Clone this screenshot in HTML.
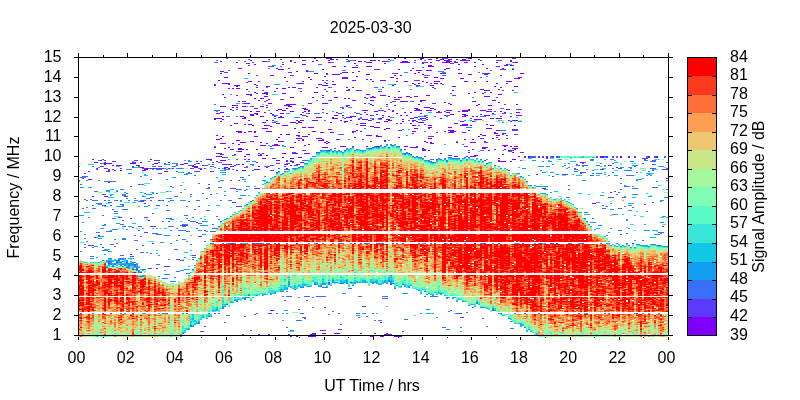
<!DOCTYPE html><html><head><meta charset="utf-8"><style>html,body{margin:0;padding:0;background:#fff}svg{display:block}text{font-family:"Liberation Sans",Arial,sans-serif;font-size:16px;fill:#000}</style></head><body><svg width="800" height="400" viewBox="0 0 800 400"><rect width="800" height="400" fill="#fff"/><g shape-rendering="crispEdges" fill="none" stroke-width="2"><path stroke="#8000ff" d="M89 171v1m0 7v1m2 -1v1m2 -21v1m0 36v1m2 -35v1m0 74v1m2 -76v1m4 -3v1m4 2v2m0 31v1m2 -34v1m0 32v1m2 -34v1m0 6v1m2 -8v1m2 1v1m0 3v1m2 0v1m2 -6v1m2 -1v1m2 -1v1m0 4v1m10 -8v1m2 -1v1m2 -1v1m2 1v1m2 -1v1m2 -4v1m0 4v1m2 -1v1m0 2v1m2 -2v2m2 -3v2m2 50v1m2 -62v1m2 83v1m2 -81v1m2 -1v1m0 104v1m8 -98v1m2 -1v1m2 -10v1m12 1v1m2 -1v1m2 -2v1m2 -1v1m6 2v1m2 -1v2m2 -7v1m0 4v2m2 -5v1m2 5v1m2 -5v1m4 -7v1m2 -1v1m2 -1v1m4 -75v1m0 32v2m0 27v1m2 -35v1m0 4v1m0 16v1m0 3v1m0 16v1m0 4v1m2 -82v1m0 32v1m0 4v1m0 20v1m0 16v1m2 -96v1m0 9v1m0 1v1m0 32v1m0 5v1m0 5v1m0 2v1m0 16v1m0 4v1m0 10v1m0 1v1m0 3v1m2 -90v1m0 11v1m0 10v1m0 11v1m0 5v1m0 3v1m0 2v1m0 16v1m0 6v1m0 16v1m2 -104v1m0 19v1m0 5v1m0 13v1m0 8v1m0 36v1m0 4v1m0 11v1m0 6v2m2 -112v1m0 19v1m0 5v1m0 83v1m2 -85v2m0 3v1m0 58v1m0 16v1m0 3v1m2 -60v1m0 15v1m0 23v1m0 14v1m0 1v1m2 -79v1m0 16v1m0 1v1m0 35v1m0 5v1m0 16v1m2 -82v1m0 19v1m0 17v1m0 30v1m0 10v1m2 -104v1m0 22v2m0 1v1m0 6v1m0 9v1m0 1v1m0 15v1m0 7v1m0 8v1m0 29v1m2 -103v1m0 16v1m0 2v1m0 12v1m0 29v2m0 7v1m0 3v1m0 3v2m0 1v1m2 -95v1m0 10v1m0 47v1m0 14v2m0 9v1m0 5v2m0 1v1m2 -46v1m0 3v1m0 5v1m0 1v1m0 23v1m0 6v1m0 14v1m0 5v1m2 -68v1m0 2v1m0 3v1m0 6v2m0 5v1m0 7v1m0 9v1m0 13v1m0 13v1m2 -82v1m0 4v1m0 8v1m0 6v1m0 38v1m0 4v1m2 -92v1m0 9v1m0 7v1m0 12v1m0 8v1m0 16v1m0 3v1m0 6v1m0 22v1m0 4v1m2 -100v1m0 20v1m0 12v2m0 15v1m0 2v2m0 8v1m0 6v1m0 9v1m2 -85v1m0 56v2m0 9v1m0 15v1m2 -85v1m0 6v1m0 19v1m0 7v1m0 5v1m0 9v1m0 4v1m0 17v2m0 3v1m0 32v1m2 -85v1m0 1v1m0 5v1m0 14v1m0 2v1m0 1v2m0 21v1m0 12v1m0 19v1m2 -89v1m0 18v1m0 10v1m0 41v1m0 1v1m0 10v1m0 2v1m2 -113v1m0 40v1m0 7v1m0 9v1m0 25v1m0 2v1m0 8v2m2 -99v1m0 3v1m0 31v1m0 4v1m0 7v1m0 9v1m0 5v1m0 5v1m0 16v1m0 7v1m2 -97v1m0 3v1m0 31v1m0 2v1m0 15v1m0 9v1m0 2v1m0 2v1m0 16v1m2 -60v1m0 6v2m0 1v1m0 8v1m0 1v1m0 12v1m0 4v1m0 2v1m0 2v1m0 11v1m0 11v1m0 11v1m2 -82v1m0 12v1m0 3v1m0 21v1m0 5v1m0 202v1m2 -260v1m0 27v1m0 9v1m0 12v1m0 4v1m0 178v1m2 -236v1m0 38v1m0 5v1m0 24v1m0 164v1m2 -220v1m0 24v1m0 27v2m2 -78v1m0 19v1m0 21v1m0 12v1m0 15v1m0 4v2m0 14v1m2 -92v1m0 39v1m0 7v1m0 5v1m0 13v1m0 3v1m0 3v1m0 14v1m2 -104v1m0 1v1m0 9v1m0 39v1m0 3v1m0 2v2m0 16v1m0 6v1m2 -85v1m0 6v1m0 4v1m0 18v1m0 4v1m0 16v1m0 2v1m0 3v1m0 7v1m0 15v1m0 11v1m0 3v1m2 -81v1m0 10v1m0 4v1m0 11v1m0 4v1m0 14v1m0 27v1m0 10v1m2 -61v2m0 2v1m0 16v1m0 8v1m0 26v1m0 2v1m0 3v1m2 -101v1m0 18v1m0 16v3m0 27v1m0 199v2m2 -276v2m0 35v1m0 6v1m0 1v1m0 4v1m0 10v1m0 24v1m0 10v1m0 2v1m0 3v1m0 170v1m2 -250v1m0 9v1m0 6v1m0 6v1m0 10v1m0 24v1m0 5v1m0 4v1m0 2v2m2 -101v1m0 24v1m0 16v1m0 17v1m0 5v1m0 13v1m0 10v1m0 181v1m2 -265v1m0 48v1m0 2v1m0 11v1m0 2v1m0 14v1m0 182v1m2 -254v1m0 37v2m0 9v1m0 2v1m0 2v1m0 18v1m2 -75v1m0 7v1m0 22v1m0 5v1m0 1v1m0 15v1m0 18v1m0 4v1m2 -103v1m0 3v1m0 16v1m0 1v1m0 24v1m0 6v1m0 4v1m0 6v1m0 8v1m0 2v2m0 21v1m2 -103v1m0 3v1m0 43v2m0 1v1m0 15v1m0 8v1m0 8v1m0 7v1m2 -84v2m0 37v1m0 6v1m0 19v1m0 16v1m2 -77v1m0 25v1m0 6v2m0 1v1m0 13v1m0 6v1m0 9v1m0 8v1m0 182v1m2 -258v1m0 23v1m0 23v1m0 206v1m0 1v1m2 -276v1m0 35v1m0 22v1m0 6v1m0 3v1m0 201v1m0 2v1m2 -264v1m0 18v1m0 27v1m0 10v1m0 201v1m2 -274v1m0 12v1m0 13v1m0 4v1m0 24v1m0 2v1m0 17v1m2 -55v1m0 32v1m0 20v1m0 1v1m2 -57v1m0 32v1m0 14v1m0 5v1m0 1v1m2 -72v1m0 15v1m0 9v1m0 7v1m0 5v1m0 22v1m0 6v2m0 6v1m0 185v1m2 -258v1m0 8v1m0 17v1m0 38v1m0 4v1m0 159v1m0 25v1m2 -276v1m0 14v1m0 9v1m0 1v1m0 17v1m0 37v1m0 1v1m0 3v1m0 187v1m2 -278v1m0 1v1m0 1v1m0 66v1m0 12v1m0 192v1m2 -278v2m0 40v1m0 21v1m0 6v1m0 2v1m0 202v1m2 -277v1m0 6v1m0 7v1m0 6v1m0 2v1m0 32v2m0 13v1m2 -76v1m0 8v1m0 7v1m0 9v1m0 6v1m0 5v1m0 17v1m0 2v1m0 214v1m2 -277v1m0 1v1m0 14v1m0 22v1m0 14v1m0 2v1m0 2v1m0 20v1m0 193v1m2 -277v1m0 16v1m0 64v1m0 193v1m2 -214v1m0 25v1m2 -75v1m0 5v1m0 29v1m0 6v1m0 30v1m2 -90v1m0 8v1m0 5v1m0 5v1m0 19v1m0 22v1m0 24v1m2 -90v1m0 14v1m0 5v1m0 8v1m0 2v1m0 14v1m0 11v1m0 3v1m2 -65v1m0 3v1m0 28v1m0 7v1m0 6v1m0 11v1m2 -2v2m0 2v1m2 -54v1m0 4v1m0 7v1m0 6v1m0 12v1m0 15v1m0 14v2m2 -73v1m0 2v1m0 3v1m0 12v1m0 35v1m0 14v1m0 5v1m2 -71v1m0 8v1m0 47v1m0 5v1m2 -70v1m0 9v1m0 47v1m2 -59v1m0 52v1m0 8v1m0 1v1m0 5v1m0 201v1m2 -224v1m0 8v1m0 3v1m0 1v1m0 13v1m2 -43v1m0 5v1m0 6v1m0 8v1m0 3v1m0 1v1m0 209v1m2 -274v1m0 3v1m0 7v1m0 4v1m0 14v1m0 15v1m0 3v1m0 4v1m0 15v1m0 10v1m2 -85v1m0 3v1m0 7v1m0 19v1m0 25v1m0 14v1m2 -76v1m0 1v1m0 3v1m0 12v1m0 17v1m0 2v1m0 3v1m0 10v1m0 4v1m0 5v1m0 8v1m0 5v1m0 193v2m2 -277v1m0 20v1m0 14v2m0 2v1m0 4v1m0 13v1m0 6v1m0 209v1m2 -277v1m0 36v1m0 13v1m0 15v1m0 205v1m2 -223v1m0 2v1m0 7v1m0 4v1m0 7v2m0 9v1m2 -87v1m0 57v1m0 3v1m0 4v1m0 8v1m0 9v1m2 -67v1m0 14v1m0 22v1m0 17v1m0 185v1m0 13v1m2 -276v1m0 18v1m0 6v1m0 7v1m0 19v1m0 220v1m2 -276v1m0 1v1m0 16v1m0 14v1m0 15v1m0 9v1m0 7v1m0 10v1m0 193v1m2 -231v1m0 14v1m0 1v1m0 6v1m0 205v1m2 -276v1m0 36v1m0 19v1m0 2v2m0 7v1m0 205v1m2 -258v1m0 42v1m2 -44v1m0 7v1m0 25v1m0 223v1m2 -278v1m0 16v1m0 23v1m0 5v1m0 230v1m2 -259v1m0 2v1m0 17v1m0 13v1m0 222v1m2 -268v1m0 21v1m0 5v1m0 1v1m0 37v1m0 198v1m2 -275v1m0 12v1m0 21v1m0 3v1m0 13v1m0 7v1m0 212v1m2 -276v2m0 38v1m0 17v1m0 1v1m0 209v1m2 -274v1m0 2v2m0 18v1m0 19v1m0 10v1m0 33v1m0 2v1m2 -89v2m0 18v1m0 14v1m0 4v1m0 13v1m0 30v1m2 -85v1m0 33v1m2 -27v1m0 41v1m0 10v1m0 23v1m2 -80v1m0 14v1m0 34v1m0 1v1m0 4v1m0 5v1m0 1v1m0 13v1m2 -75v1m0 10v1m0 11v1m0 11v1m0 8v1m0 2v1m0 4v1m0 2v1m0 2v1m0 15v1m2 -78v1m0 25v1m0 11v2m0 7v1m0 10v1m0 18v1m2 -78v1m0 1v1m0 10v1m0 20v1m0 4v1m0 12v1m2 -65v2m0 10v1m0 29v2m0 8v1m0 2v1m0 4v1m0 3v1m2 -65v1m0 4v1m0 10v1m0 6v1m0 18v1m0 17v1m0 3v1m0 25v1m0 1v1m2 -74v1m0 22v1m0 6v1m0 8v1m0 1v1m0 22v1m0 8v1m2 -81v1m0 6v1m0 4v1m0 12v1m0 11v1m0 2v1m0 6v1m0 1v1m0 22v1m2 -84v1m0 5v2m0 3v1m0 24v1m0 11v1m0 2v1m0 14v1m0 1v1m0 10v1m0 11v1m2 -92v1m0 2v1m0 2v2m0 3v1m0 14v1m0 22v1m0 1v1m0 14v1m0 1v1m0 10v1m0 3v2m2 -78v1m0 18v1m0 1v1m0 20v1m0 34v1m2 -67v1m0 3v1m0 1v1m0 25v1m2 -52v1m0 1v1m0 16v1m0 3v1m0 1v1m0 28v1m0 19v1m2 -73v1m0 20v1m0 29v2m2 -54v1m0 13v1m0 4v1m0 4v1m0 34v1m0 34v1m2 -95v1m0 2v1m0 10v1m0 4v1m2 -19v1m0 1v1m0 6v1m0 3v1m0 57v1m2 -72v3m0 5v1m0 41v1m0 1v1m2 -54v4m0 5v1m0 34v1m0 6v1m0 1v1m0 14v1m0 2v1m0 1v1m2 -74v1m0 1v1m0 42v1m0 5v1m0 3v1m0 12v1m0 2v3m2 -47v1m0 3v1m0 23v1m0 15v3m2 -71v1m0 23v1m0 36v1m0 7v1m0 24v1m2 -98v1m0 2v1m0 60v1m0 18v1m0 13v1m2 -93v1m0 4v1m0 3v1m0 37v1m2 -52v1m0 12v1m0 4v1m0 42v1m0 3v1m2 -67v2m0 17v1m0 31v2m0 2v1m0 6v1m0 2v2m0 6v1m2 -74v2m0 1v1m0 18v1m0 28v2m0 2v2m0 8v2m0 6v1m0 6v1m2 -80v1m0 1v1m0 18v1m0 28v2m0 3v1m0 8v2m0 30v1m2 -99v1m0 1v1m0 13v1m0 18v1m0 15v2m0 19v1m0 21v1m2 -95v1m0 15v1m0 50v1m0 16v1m0 13v1m2 -56v1m0 14v1m0 4v1m0 17v1m0 2v1m0 6v1m0 6v1m2 -91v1m0 25v1m0 8v1m0 17v1m0 22v1m0 12v2m2 -52v1m0 10v1m0 2v1m0 35v1m2 -97v1m0 44v1m0 14v1m0 16v1m2 -48v1m0 20v1m0 3v1m0 4v1m0 14v1m2 -71v1m0 24v1m0 3v1m0 16v1m0 24v1m0 11v2m2 -75v1m0 15v1m0 5v1m0 13v1m0 4v1m0 19v1m0 5v1m0 5v2m0 11v1m2 -93v1m0 5v1m0 6v1m0 8v1m0 5v1m0 14v1m0 3v1m0 8v1m0 3v1m0 18v1m2 -75v1m0 16v1m0 5v1m0 8v1m0 5v1m0 3v1m0 12v1m0 21v1m2 -59v1m0 12v1m0 5v1m0 6v1m0 6v1m0 2v1m2 -29v1m0 12v1m0 4v1m0 6v1m0 12v1m2 -53v1m0 13v1m0 31v2m0 15v1m2 -93v1m0 4v1m0 3v1m0 16v1m0 34v1m0 11v1m0 2v1m0 1v1m2 -70v1m0 22v1m0 4v1m0 7v1m0 15v1m0 11v1m0 4v1m0 22v1m0 1v2m2 -87v1m0 11v1m0 6v1m0 16v1m0 6v1m0 42v1m2 -94v1m0 64v1m0 11v1m0 8v1m0 6v1m2 -97v1m0 46v1m0 20v1m0 11v2m0 2v1m0 11v1m2 -98v2m0 15v1m0 27v1m0 35v1m2 -65v1m0 27v1m0 40v1m0 19v1m2 -111v2m0 3v1m0 15v1m0 34v1m0 4v1m0 24v1m0 3v1m0 10v1m2 -105v1m0 7v1m0 3v1m0 20v1m0 57v1m0 1v1m0 1v1m0 6v1m2 -98v1m0 15v1m0 7v1m0 33v1m0 4v1m0 20v1m0 1v2m0 9v1m2 -98v1m0 15v1m0 7v1m0 17v1m0 7v1m0 2v1m0 4v1m0 25v1m0 1v1m2 -72v2m0 33v1m0 2v1m0 40v1m2 -84v1m0 3v1m0 37v1m2 -43v1m6 82v2m8 16v1m6 13v1m2 -1v1m2 -33v2m34 4v1m2 -1v1m10 40v1m2 -1v1m6 -48v2m2 -2v2m8 34v1m6 -26v1m4 -12v2m8 -2v2m20 -2v2m8 -2v2m10 20v1"/><path stroke="#5b39fd" d="M79 201v1m10 43v1m2 -1v1m2 -80v1m0 78v1m4 -78v1m2 66v1m2 -70v1m2 -8v1m0 6v1m0 27v1m0 10v1m0 41v1m0 65v1m2 -154v1m0 1v1m0 5v1m0 25v1m0 5v1m0 4v1m2 -38v1m0 2v1m2 -1v1m0 10v1m0 80v1m2 49v1m2 -153v1m0 47v1m2 -49v1m2 100v1m2 -46v1m2 -50v1m0 48v1m4 -22v1m2 -1v1m0 70v1m4 -50v1m0 35v1m0 1v1m2 -95v1m0 4v1m0 59v1m0 28v1m0 12v1m2 -110v1m0 1v1m0 101v1m2 -105v1m0 108v1m2 -86v1m2 87v1m2 -105v1m0 31v1m2 -33v1m0 34v1m0 13v1m0 14v1m2 -16v1m0 14v1m2 35v1m2 -101v1m0 31v1m0 25v1m0 41v1m2 -105v1m0 3v1m0 57v1m2 -67v1m0 7v1m0 57v1m2 -67v1m0 7v1m2 -9v1m0 1v1m0 5v1m0 4v1m0 26v1m2 -33v1m0 4v1m2 -6v1m0 31v1m2 -38v1m0 102v1m2 -1v1m0 46v1m2 -146v1m0 97v1m4 -99v1m4 -4v1m0 5v1m0 87v1m2 -25v1m0 23v1m2 -92v1m2 56v1m2 -1v1m2 -1v1m2 -61v1m2 -1v1m0 2v1m0 25v1m2 -30v1m0 89v1m2 -1v1m2 -85v1m0 50v1m2 -52v1m0 64v1m2 -1v1m0 94v1m2 -1v1m2 -164v1m0 61v1m0 95v1m4 -143v1m2 -14v1m2 -10v1m0 1v1m0 6v1m2 -88v1m0 228v1m2 -161v1m2 -1v1m2 -1v1m2 0v1m0 2v1m0 6v1m2 -93v1m0 84v1m0 6v1m2 -93v1m0 84v1m0 6v1m2 4v1m2 10v1m0 7v1m0 54v1m2 -56v1m0 13v1m0 40v1m2 -56v1m0 13v1m2 -94v1m0 54v1m0 41v1m2 -43v1m0 15v1m0 25v1m2 -1v1m2 -106v1m2 -1v1m0 57v1m0 156v1m2 -254v1m0 18v1m0 78v1m2 -103v1m0 5v1m2 40v1m2 -45v1m0 43v1m0 136v1m2 -56v1m2 -114v1m0 86v1m0 25v1m2 -1v1m0 145v1m4 -245v1m0 67v1m2 -67v1m0 8v1m0 56v1m2 -67v1m0 7v1m2 -42v1m0 6v1m2 -1v1m0 79v1m0 18v1m0 4v1m0 142v1m2 -248v1m0 55v1m0 35v1m0 6v1m0 4v1m2 -49v1m0 35v1m2 4v1m2 -1v1m2 -65v1m2 -1v1m2 66v1m0 2v1m2 -89v1m0 78v1m0 8v1m2 -98v1m2 -1v1m0 2v1m2 -1v1m0 76v1m2 -1v1m0 12v1m2 -2v2m0 77v1m0 91v1m2 -248v1m0 51v1m0 23v1m2 -77v1m2 23v1m0 37v1m2 -36v1m0 34v1m0 167v1m8 -262v1m0 276v1m2 -277v1m0 275v1m0 1v1m2 -94v1m4 86v1m2 -251v1m0 16v1m0 232v1m2 -274v1m0 24v1m0 6v1m0 240v1m2 -274v1m0 16v1m0 5v1m0 10v1m0 21v1m2 -57v1m0 92v1m6 -3v1m4 -36v1m0 215v1m2 -257v1m0 39v1m0 210v1m0 4v1m2 -253v1m2 -1v1m0 40v1m0 31v1m2 -92v1m0 1v1m0 15v1m0 28v1m2 -18v1m4 56v1m2 -47v1m0 142v1m2 -179v1m0 24v1m0 22v1m2 -24v1m0 22v1m2 -24v1m2 215v1m2 -246v1m0 50v1m0 130v1m0 62v1m2 -250v1m0 40v1m6 16v1m2 -47v1m2 -1v1m2 -1v1m0 21v1m0 18v1m2 -20v1m0 18v1m2 -1v1m0 6v1m2 23v1m2 -81v1m0 44v1m0 226v1m2 -273v1m0 47v1m2 -8v1m0 181v1m0 49v1m2 -262v1m0 27v1m0 8v1m2 -38v1m0 10v1m0 12v1m0 3v1m2 -29v1m0 49v1m2 6v1m2 -1v1m4 22v1m6 -57v1m0 20v1m4 -59v1m0 1v1m0 17v1m0 29v1m2 -31v1m0 4v2m0 23v1m0 10v1m0 24v1m2 -67v1m0 4v1m0 24v1m4 -49v1m0 86v1m2 -88v1m0 12v1m0 73v1m0 6v1m2 -95v1m0 12v1m2 52v1m0 7v1m2 -54v1m0 52v1m2 -34v1m0 32v1m2 -49v1m0 14v1m2 55v1m4 -48v1m4 -11v1m0 12v1m0 127v1m4 -89v1m2 -93v1m0 91v1m0 87v1m2 -181v1m0 31v1m2 -35v1m0 33v1m2 217v1m2 -1v1m2 -1v1m0 3v1m2 -202v1m0 200v1m2 -202v1m0 29v1m2 -1v1m2 3v1m2 -33v1m4 -57v1m0 18v1m0 161v1m6 -184v1m0 77v1m2 -66v1m0 64v1m2 -66v1m0 18v1m0 49v1m0 100v1m2 -171v1m0 68v1m2 -34v1m2 -1v1m2 200v1m2 -200v1m2 -52v1m0 36v1m0 39v1m2 -78v1m0 78v1m0 103v1m2 -184v1m0 8v1m0 46v1m2 -48v1m0 20v1m0 22v1m0 20v1m2 -66v1m0 34v1m0 8v1m2 -31v1m0 51v1m0 2v1m2 -19v1m4 -63v1m0 61v1m0 8v2m2 -73v1m0 70v2m0 3v1m2 -26v1m0 19v2m0 3v1m2 -26v1m2 -1v1m0 42v1m2 -1v1m2 3v2m8 -2v2m6 -2v2m2 85v1m2 -88v2m4 0v1m4 84v1m2 -88v2m0 18v1m4 -21v2m0 85v1m6 -70v1m2 -1v1m2 -1v1m14 -3v1m2 -1v1m0 70v1m2 -72v1m16 -4v1m2 -1v1m4 -14v2m2 7v1m2 -1v1m2 -10v2m2 33v1m4 -24v1m2 -1v1m12 74v1m2 -88v2m2 155v1m6 -156v1m2 -1v2m0 44v1m2 -47v1m8 -3v2m8 11v1m0 56v1m2 -58v1m2 -1v1"/><path stroke="#376ff9" d="M79 166v1m0 13v1m2 -4v1m0 6v1m0 128v1m2 -138v3m0 29v1m2 -36v1m0 2v2m0 21v1m0 47v1m2 -72v1m0 23v1m4 -14v1m0 11v1m0 56v1m2 -57v1m0 7v1m0 38v1m0 8v1m2 -66v1m0 8v1m0 7v1m2 -40v1m0 21v1m0 8v1m0 2v1m0 28v1m2 -53v1m0 22v1m0 28v1m2 -70v1m0 39v1m0 40v1m2 -82v1m0 51v1m0 9v1m0 24v1m0 9v1m2 -80v1m0 42v1m0 25v1m2 -70v1m0 8v1m0 40v1m0 18v1m0 16v1m2 -99v1m0 11v1m0 8v1m0 9v1m0 1v1m0 28v1m0 29v2m2 -82v1m0 20v1m0 2v1m0 25v1m0 12v1m0 16v1m2 -81v1m0 36v1m0 10v1m0 14v1m0 21v1m2 -86v1m0 29v1m0 6v1m0 27v1m0 17v1m2 -74v1m0 8v1m0 10v1m0 31v1m0 17v1m2 -3v2m2 -72v1m0 10v2m0 2v1m0 19v1m0 30v1m0 2v1m0 3v1m0 2v1m2 -77v1m0 5v1m0 8v2m0 3v1m0 10v1m0 3v1m0 1v1m0 12v1m0 15v1m0 2v2m0 1v1m2 -67v1m0 13v1m0 16v1m0 12v1m0 18v1m0 5v1m2 -72v1m0 4v1m0 10v1m0 51v3m2 -91v1m0 26v1m0 64v1m2 -93v1m0 12v1m0 76v1m2 -98v1m0 95v1m0 1v1m0 48v1m2 -116v1m0 1v1m0 34v1m0 4v1m0 21v1m0 2v2m2 -27v1m0 8v1m0 18v1m2 -103v1m0 34v1m0 24v1m0 3v1m0 36v1m0 3v1m2 -96v1m0 23v2m0 24v1m0 9v1m0 15v1m0 23v1m2 -76v1m0 43v1m0 6v1m0 16v1m0 6v1m2 -84v1m0 6v1m2 -3v1m2 -38v1m0 6v1m0 29v1m0 6v1m2 -27v1m0 17v1m0 55v1m2 -88v1m0 30v1m0 15v1m0 19v1m2 -68v1m0 66v1m2 -65v1m0 23v1m0 11v1m0 27v2m0 29v1m2 -99v1m0 2v1m0 35v1m0 28v1m0 29v1m2 -99v1m0 2v1m0 64v1m2 -14v1m0 56v1m2 -1v1m2 -110v1m0 35v1m0 4v1m0 7v1m2 -9v1m0 7v1m0 2v1m0 4v1m0 32v1m2 -74v1m0 11v1m0 1v1m0 17v1m0 7v1m0 3v1m0 12v1m0 37v1m2 -116v1m0 59v1m2 -61v1m0 29v1m0 52v1m0 27v1m2 -82v1m0 43v1m0 8v1m0 21v1m2 -42v1m0 40v1m2 -47v1m0 4v1m0 29v1m2 -37v1m0 1v1m0 3v1m0 29v1m0 52v1m2 -99v1m0 8v1m0 1v1m0 3v1m2 -58v1m0 32v1m0 8v1m0 15v1m0 41v1m0 39v1m2 -154v1m0 11v2m0 27v1m0 18v1m0 10v1m0 41v1m2 -101v1m0 47v1m0 22v1m0 80v2m2 -159v1m0 48v1m0 3v1m0 35v1m0 1v1m0 9v1m2 -106v1m0 6v1m0 3v1m0 33v1m0 11v1m0 35v1m2 -95v1m0 36v1m0 27v1m2 -61v1m0 14v1m0 16v1m0 5v1m0 16v1m0 99v1m2 -163v1m0 6v1m0 54v1m2 -31v1m2 -29v1m0 75v1m2 -77v1m0 22v1m0 21v1m2 -47v1m0 22v2m0 21v1m0 102v1m2 -154v1m0 5v1m0 27v1m0 36v1m0 11v1m2 -78v1m0 57v1m0 3v1m0 2v1m2 -170v1m0 41v1m0 5v1m0 35v1m0 81v1m0 2v1m2 -172v1m0 1v1m0 47v1m0 105v1m2 -107v1m0 51v1m0 5v1m0 12v1m0 5v1m0 31v1m0 6v1m0 86v1m2 -152v1m0 24v1m0 12v1m2 42v1m0 64v1m2 -114v1m0 126v1m2 -265v1m0 57v1m0 187v1m0 10v1m2 -246v1m0 45v1m0 83v1m0 114v1m2 -116v1m2 -91v1m0 44v1m0 13v1m4 -11v1m0 29v1m0 1v1m0 109v1m2 -113v1m0 8v1m2 -22v1m0 11v1m0 8v1m2 -96v1m0 73v1m0 1v1m0 154v1m2 -168v1m0 11v1m0 10v1m0 108v1m2 -134v2m0 36v1m0 38v1m2 51v1m2 -132v1m0 36v1m0 128v1m2 -167v1m0 5v1m0 29v1m2 113v1m2 -72v1m0 69v1m2 -71v1m2 -1v1m4 -78v1m2 -106v1m0 104v1m0 15v1m2 -122v1m0 6v1m0 97v1m0 76v1m0 69v1m2 -166v1m2 -34v1m0 32v1m2 -34v1m0 2v1m0 57v1m0 66v1m2 -187v1m0 57v1m0 56v1m0 140v1m2 -146v1m0 2v1m0 71v1m2 -178v1m2 229v1m2 3v1m2 -138v1m0 127v1m0 4v1m0 30v1m2 -165v1m0 5v1m0 126v1m2 -1v1m0 33v1m2 -1v1m2 -163v1m0 120v1m2 -207v1m0 236v1m2 -185v1m0 30v1m0 141v1m0 10v1m2 -155v1m0 146v1m0 6v1m2 -161v1m0 5v1m0 120v1m0 25v1m0 3v1m2 -158v1m0 135v1m0 20v1m2 -158v1m0 135v1m0 3v1m2 -5v1m4 -141v1m0 150v1m2 -195v1m0 42v1m0 127v1m2 -185v1m0 12v1m0 38v1m0 143v1m2 -233v1m0 48v1m0 38v1m0 143v1m2 -233v1m0 85v1m0 135v1m0 9v1m2 -185v1m0 174v1m0 8v1m2 -177v1m0 166v1m0 8v1m2 -147v1m2 -64v1m0 12v1m0 181v3m0 29v1m2 -253v1m0 24v1m2 -26v1m0 88v1m0 91v1m0 67v1m6 -178v1m0 15v1m0 92v1m0 69v1m2 -180v1m0 148v1m2 -227v1m0 59v1m0 16v1m0 148v1m2 -162v1m2 25v1m2 139v1m2 -7v1m0 5v1m6 24v1m2 -18v1m0 16v1m0 3v1m2 -201v1m0 125v1m0 52v1m4 16v1m2 -71v1m0 72v1m2 -169v1m2 -1v1m2 -2v1m0 135v1m0 29v1m2 -227v1m0 58v1m0 173v1m2 -234v1m0 155v1m2 -1v1m0 76v1m2 -176v1m0 174v1m2 -78v1m0 52v1m0 1v1m2 -153v1m0 149v1m0 1v1m2 -155v1m0 151v1m0 1v1m2 -152v1m0 132v2m2 -138v1m0 136v1m0 1v1m2 -139v1m0 97v1m0 39v1m2 4v1m2 -46v1m2 -98v1m2 2v1m2 93v1m2 75v1m2 -168v1m0 166v1m2 -200v1m0 32v1m2 -97v1m0 43v1m0 52v1m2 -54v1m0 19v1m4 34v1m2 -32v1m2 31v1m2 -91v1m0 52v1m2 -61v1m0 59v1m0 3v1m0 118v1m0 52v1m4 -137v1m2 -2v1m0 1v1m0 134v1m2 -138v1m0 2v1m0 133v1m2 -54v1m0 52v1m2 -1v1m0 20v1m4 -159v1m2 -102v1m0 16v1m0 8v1m0 242v1m2 -270v1m0 16v1m0 35v1m0 215v1m2 -270v1m0 56v2m0 43v1m2 -46v1m0 195v1m2 -219v1m0 63v1m0 152v1m2 -153v1m4 -1v1m2 -1v1m2 1v1m0 166v1m2 -184v1m2 12v1m0 85v1m2 -117v1m0 184v1m2 -186v1m0 29v1m2 -31v1m2 179v1m4 -5v1m2 -232v1m2 4v1m0 38v1m0 33v1m0 8v1m2 -44v1m0 33v1m0 92v1m0 74v1m2 -203v1m2 46v1m0 162v1m4 -257v1m4 94v1m6 -58v1m2 -1v1m6 42v1m2 -1v1m0 169v1m0 6v1m2 -267v1m0 265v1m4 -86v1m2 -71v1m2 -14v1m0 15v1m2 66v1m2 69v1m0 13v1m2 -147v1m4 -26v2m4 -2v2m4 155v1m12 -158v2m2 6v1m0 78v1m4 -70v1m2 -19v2m8 39v1m2 -35v1m0 25v1m0 7v1m0 45v1m6 -76v2m0 1v1m2 -8v2m0 3v1m0 1v1m2 -7v1m0 147v1m2 -141v1m0 69v1m2 -81v1m0 1v1m2 -4v1m0 2v1m0 46v1m0 5v1m2 -54v1m0 46v1m0 8v1m2 2v1m2 -66v1m0 15v1m2 -17v1m0 15v1m0 42v1m4 -63v2m0 7v1m0 7v1m2 -9v1m0 7v1m0 51v1m2 -63v1m0 9v1m0 51v1m0 17v1m2 -39v1m0 2v1m2 -53v2m0 50v1m0 104v1m2 -108v1m2 -32v1m0 21v1m2 -39v1m0 37v1m0 30v1m2 -70v1m0 3v1m0 8v1m0 24v1m4 -42v2m0 36v1m0 48v1m2 -52v1m0 15v1m0 21v1m2 -53v1m0 4v1m0 24v1m0 21v1m0 3v1m2 -38v1m2 -12v1m0 10v1m0 8v1m2 -37v1m0 4v1m0 10v1m0 33v1m0 12v1m0 9v1m2 -74v1m0 4v1m0 10v1m2 -26v1m0 8v1m0 4v1m2 -15v1m0 13v1m0 12v1m0 18v1m2 -42v1m0 21v1m2 -17v1m0 7v1m0 7v1m6 -26v1m0 76v1m2 -81v1m2 -5v2m0 2v1m0 50v1m2 -41v1m0 2v1m2 -14v1m0 6v1m2 -9v2m0 2v1m0 3v3m0 16v1m0 14v1m0 41v1m2 -85v2m0 2v1m0 3v1m0 18v1m0 46v1m2 -48v1m0 46v1m2 -3v1m0 1v1m0 10v1m2 -14v1m2 -1v1m2 -77v2m2 4v1m0 5v1m0 77v1"/><path stroke="#129ff1" d="M79 215v1m2 -29v1m0 27v1m0 15v1m0 19v1m2 -65v1m0 27v1m0 6v1m2 11v1m0 3v1m0 5v1m2 -65v1m0 26v1m0 33v1m2 -25v1m2 40v1m2 -54v1m0 52v1m0 54v1m2 -68v1m2 -10v1m0 8v1m0 10v1m2 -98v1m0 6v1m0 36v1m0 31v1m0 1v1m2 -35v1m0 31v1m0 1v1m2 -3v1m2 17v1m2 6v1m2 -11v1m0 6v1m0 1v1m0 3v1m2 -70v1m0 34v1m0 20v1m0 6v1m0 3v3m2 0v1m2 -66v1m0 12v1m0 15v1m0 9v1m0 20v1m0 2v1m2 -51v1m0 9v1m0 5v1m0 30v1m0 2v1m2 -58v1m0 16v1m0 37v2m2 -57v1m0 52v1m0 4v1m0 48v1m2 -120v1m0 11v1m0 31v1m0 25v1m0 1v1m2 -73v1m0 43v1m0 26v1m2 -97v1m0 59v1m0 30v1m2 -92v1m0 56v1m0 36v2m0 1v3m2 -100v1m0 56v1m0 34v1m0 2v2m2 2v1m4 -69v1m0 62v2m0 1v2m0 2v1m2 -1v1m0 1v1m2 -89v1m2 -1v1m0 11v1m0 116v1m2 -140v1m0 21v1m0 9v1m0 62v1m0 43v1m2 -120v1m0 11v1m0 45v1m2 -59v1m2 -1v1m2 -26v1m0 22v2m6 61v1m0 20v1m2 -77v1m0 41v1m2 -1v1m0 70v1m2 -150v1m0 3v1m0 66v1m0 38v1m0 38v1m2 -150v1m0 14v1m0 11v1m0 43v1m0 38v1m0 3v1m2 -115v1m0 36v1m0 33v1m0 38v1m2 -56v1m2 -57v1m0 13v1m0 9v1m0 12v1m0 18v1m0 61v1m2 -119v1m0 13v1m0 103v1m2 -119v2m0 3v1m0 59v1m2 -61v1m2 16v1m0 6v1m0 7v1m0 69v1m0 65v1m2 -165v1m0 27v1m0 38v1m0 30v1m0 61v2m2 -160v1m0 25v1m0 38v1m0 17v1m0 11v1m2 -96v1m0 43v1m0 5v1m0 16v1m0 27v1m2 -109v1m0 107v1m2 -109v1m0 34v1m2 129v1m2 -62v1m2 57v1m2 -94v1m0 91v1m2 -105v1m0 6v1m0 4v1m2 -10v1m0 3v1m0 8v1m0 82v1m2 -97v1m0 3v1m0 8v1m2 -37v1m0 22v1m0 3v1m0 5v1m2 84v1m2 -78v1m2 3v1m2 -77v1m2 -57v1m0 116v1m0 80v2m4 -141v1m0 1v1m0 7v1m0 40v1m2 -52v1m0 1v1m0 7v1m0 125v2m2 -139v2m0 1v1m0 18v1m0 114v1m2 -138v1m0 48v1m2 24v1m2 -150v1m0 121v1m4 26v1m0 56v1m2 -185v1m4 78v1m0 47v1m2 -49v1m2 -135v1m0 133v1m0 9v1m0 91v2m2 -113v1m0 2v1m2 -29v1m0 13v1m0 10v1m0 110v1m4 -137v1m2 -1v1m0 81v1m2 51v1m6 -116v1m0 62v1m2 -68v1m0 3v1m0 113v1m2 -208v1m0 155v1m2 -134v1m2 67v1m0 114v1m2 -229v1m2 -1v1m0 18v1m0 208v1m2 -210v1m0 88v1m2 -90v1m2 89v1m0 114v1m0 1v1m2 -230v1m0 82v1m0 27v1m0 115v1m0 1v1m0 28v1m2 -175v1m0 24v1m0 117v1m0 20v1m2 -198v1m0 129v1m0 44v1m0 21v1m0 2v1m2 -201v1m0 167v4m0 1v1m2 -127v1m2 7v1m2 -52v1m2 -1v1m0 50v1m2 -52v1m0 179v1m2 -11v1m4 -125v1m0 120v1m2 -172v1m0 49v1m0 122v1m2 -216v1m0 214v1m2 -216v1m0 86v1m2 -88v1m0 225v1m2 -15v1m4 2v1m2 -2v1m2 -136v1m0 92v1m0 39v2m2 -135v1m0 132v2m2 -134v1m0 135v1m2 -137v1m2 -3v1m2 130v3m2 -133v1m0 131v1m2 -132v1m0 130v1m4 -176v1m0 43v1m0 91v1m2 -174v1m0 36v1m0 44v1m0 90v1m0 49v1m2 -224v1m0 222v1m2 -14v4m2 -224v1m0 46v1m0 31v1m0 9v1m2 -90v1m0 46v1m0 40v1m0 94v1m2 -184v1m0 86v1m0 137v1m2 -174v1m0 37v1m0 131v2m2 -135v1m0 132v1m0 32v1m2 -198v1m0 196v1m2 -198v1m0 31v1m2 -1v1m2 -23v1m0 21v1m0 130v2m2 -135v1m2 -46v1m0 139v1m2 -126v1m2 -1v1m0 163v1m2 -136v1m0 134v1m2 -136v1m0 134v1m2 -164v1m0 27v1m2 -40v1m0 10v1m2 27v1m2 132v2m2 1v1m2 -144v1m2 -24v1m0 164v1m2 -166v1m2 26v1m2 1v1m6 -18v1m0 23v1m0 130v1m0 8v1m2 -222v1m0 81v1m0 138v1m2 -222v1m0 62v1m0 17v1m0 139v1m2 -165v1m0 156v2m2 -199v1m2 66v1m2 0v1m4 -42v1m0 2v1m0 37v1m0 85v1m2 -128v1m0 2v1m0 173v1m0 19v1m2 -198v1m0 41v1m2 -44v1m0 44v1m0 130v1m2 -177v1m0 44v1m0 148v1m0 3v1m2 -239v1m0 85v1m0 147v1m2 -148v1m0 80v1m2 51v1m2 -180v1m0 45v1m2 -3v1m2 -90v1m0 86v1m2 -88v1m0 221v2m2 -224v2m2 -1v1m0 85v2m2 1v1m0 135v2m0 30v1m2 -173v1m0 171v1m2 -172v1m2 138v2m2 -141v1m2 -18v1m6 16v1m0 142v1m2 -182v1m2 38v1m2 145v1m2 -186v1m2 -24v1m2 23v1m2 36v1m0 143v1m2 -142v1m2 81v1m0 63v1m2 -147v1m0 145v1m4 -232v1m4 85v1m2 80v1m0 64v2m2 0v1m4 2v1m2 -184v1m0 37v1m0 144v1m2 -192v1m0 7v1m2 -1v1m4 187v1m2 -206v1m4 199v1m2 -141v1m2 -53v1m2 -1v1m0 202v2m2 -158v1m2 -1v1m4 6v1m0 9v1m0 143v1m2 -145v1m2 -26v1m0 26v1m2 -28v1m2 25v1m2 -21v1m0 19v1m0 56v1m2 -78v1m0 3v1m0 15v1m2 -26v1m0 4v1m0 5v1m0 13v1m0 6v1m2 -22v1m0 13v1m0 2v1m0 3v1m0 49v1m2 -78v1m0 19v1m0 2v1m0 4v1m2 -34v1m0 4v1m2 -6v1m0 10v1m0 19v1m2 -21v1m2 26v1m4 -41v1m2 -1v1m2 6v1m2 -2v1m4 1v1m0 17v1m2 57v1m6 -36v1m6 -43v1m0 13v1m2 -1v1m2 -12v1m0 143v1m4 -154v1m0 61v1m0 3v1m2 -67v1m0 9v1m0 2v1m0 48v1m2 -1v1m2 -21v1m2 -1v1m2 -8v1m2 -1v1m2 -31v1m0 8v1m2 60v1m0 7v1m2 -12v1m0 10v1m0 69v1m2 -105v1m0 35v1m2 -78v1m0 40v1m0 4v1m2 -53v1m0 12v1m0 38v1m0 30v1m2 -84v1m0 12v1m0 38v1m2 29v1m2 -78v1m0 21v1m0 56v1m2 -80v1m0 77v1m2 -76v1m0 14v1m0 60v1m2 -28v1m2 -53v1m0 35v1m0 1v1m0 4v1m0 17v1m0 16v1m2 -79v2m0 34v1m0 1v1m0 4v1m0 36v1m2 -83v1m0 20v1m0 7v1m0 8v1m2 -39v1m0 28v1m0 45v1m0 6v1m0 65v1m2 -149v1m0 28v1m0 49v1m2 -1v1m2 0v1m2 -1v1m0 67v1m2 -90v1m0 5v1m0 14v1m2 -73v1m0 1v1m0 54v1m0 14v1m2 -73v1m0 22v1m0 33v1m0 15v1m2 -72v1m0 20v1m0 47v1m2 -15v1m2 13v1m2 -64v1m0 63v1m2 -80v1m2 -1v1m0 33v2m0 20v1m0 10v1m0 11v1m2 -80v1m0 33v1m0 15v1m0 5v1m2 -26v1m0 18v1m0 29v1m2 -67v1m0 8v1m0 7v1"/><path stroke="#12c7e6" d="M79 181v1m6 30v1m0 49v1m2 -51v1m2 -49v1m0 22v1m0 24v1m2 -49v1m2 -1v1m4 171v1m2 -75v1m2 -35v1m2 -1v1m2 -4v1m0 23v1m2 -59v1m0 57v1m0 10v1m0 1v1m0 3v1m2 -76v1m0 5v1m0 51v1m0 9v1m0 5v1m2 -77v1m0 4v1m0 2v1m0 61v2m2 -72v1m0 4v1m0 2v1m0 62v2m0 1v2m2 -6v1m2 -94v1m0 23v1m0 15v1m0 58v1m0 1v1m2 -102v1m0 91v1m0 5v1m2 -2v1m2 -1v1m2 -72v1m0 67v1m0 2v1m0 49v1m2 -50v3m2 -9v1m2 -1v1m2 -98v1m0 40v1m0 20v1m0 34v1m0 4v1m0 1v3m2 -101v1m0 34v1m0 20v1m0 43v1m0 1v1m2 -103v1m0 97v1m2 -99v1m0 38v1m2 -15v1m0 76v1m2 -42v1m0 41v1m0 4v1m2 -101v1m2 -1v1m6 52v1m4 -1v1m0 24v1m2 59v1m6 -86v1m0 41v1m2 -73v1m2 -1v1m2 -31v1m8 3v1m2 -1v1m0 48v1m0 112v2m2 -168v1m2 -9v1m0 28v1m0 62v1m0 77v1m0 1v1m2 -81v1m0 75v2m2 -64v1m0 8v1m0 52v2m2 -80v1m0 21v1m0 46v1m0 1v2m0 1v1m2 -11v2m0 1v3m0 1v1m0 3v1m2 -59v1m0 52v2m0 1v2m2 -65v1m0 61v1m2 -65v1m0 62v1m2 -3v1m2 -69v1m0 63v2m2 -98v1m0 28v1m2 66v1m0 2v1m2 -114v1m0 109v1m2 -1v2m2 -7v1m2 -1v1m2 -134v1m0 15v1m0 11v1m0 101v2m2 -104v1m4 -38v1m0 5v1m0 111v1m0 14v1m0 2v1m2 -131v1m0 44v1m0 84v1m2 -62v1m2 -85v1m2 141v2m2 -89v1m0 87v1m2 -148v1m0 56v1m0 84v1m0 1v1m2 -197v1m0 47v1m0 147v2m2 -198v1m0 195v1m2 -90v1m2 32v1m0 53v2m2 -221v1m0 102v1m0 61v1m2 -166v1m0 27v1m0 190v1m2 -207v1m0 103v1m0 98v1m2 5v1m2 -136v1m0 131v1m2 -112v1m2 8v1m2 -4v1m4 -9v1m0 109v2m2 -113v1m4 -39v1m0 36v1m0 109v1m2 1v1m2 -118v1m0 115v1m2 -173v1m0 169v2m2 -172v1m4 168v1m2 22v1m2 -35v1m0 5v4m2 -118v1m0 115v1m0 1v1m2 -13v1m0 1v1m0 5v1m2 -113v1m0 113v1m2 0v1m2 -120v1m0 115v3m2 0v1m2 -4v2m2 -1v1m2 -182v1m0 61v1m0 116v3m2 -2v1m2 -2v1m2 -125v1m0 82v1m2 -85v1m0 126v1m2 -6v1m2 -39v1m0 38v1m2 -130v1m0 128v3m2 -132v1m0 131v1m2 -135v1m0 132v1m2 -134v1m0 127v1m0 1v2m4 -131v1m0 133v1m2 -7v1m2 -131v1m0 134v1m2 -175v1m0 40v1m0 126v1m4 -128v1m2 -2v1m0 131v1m2 -7v1m0 2v3m2 -2v2m2 -132v1m0 128v3m2 -134v1m0 129v1m2 -130v1m0 134v1m4 -4v1m2 -5v1m0 1v1m2 0v1m2 -133v1m0 132v1m2 -1v1m2 -132v1m0 128v3m0 30v1m2 -34v1m2 1v1m2 -134v1m2 -1v1m0 129v4m2 -135v1m0 132v1m2 -1v1m2 -2v2m0 1v1m0 29v1m2 -225v1m0 58v1m0 134v2m2 -196v1m0 56v1m0 96v1m0 39v2m2 -3v2m2 -2v1m2 -138v1m0 135v2m0 23v1m2 -223v1m0 63v1m0 128v3m2 -220v1m0 23v1m0 60v1m0 129v3m0 1v2m2 -221v1m0 23v1m0 61v1m0 133v2m2 5v1m2 -141v1m0 137v1m2 -139v1m2 2v1m0 135v1m2 -179v1m2 175v3m4 -133v1m2 0v1m0 129v1m6 -129v1m0 131v1m2 -132v1m0 131v1m2 -133v1m2 0v1m0 83v1m0 45v1m2 -159v1m2 162v1m2 -183v1m0 180v1m0 19v1m2 -202v1m0 181v1m0 18v1m2 -151v1m0 130v1m0 18v1m4 -153v1m0 132v1m2 -136v1m0 132v2m4 -134v1m2 -17v1m0 150v1m2 -53v1m2 -86v1m0 138v1m4 -139v1m2 -1v1m0 137v1m0 15v1m2 -155v1m0 83v1m0 56v2m2 -143v1m0 139v1m2 -139v1m0 169v1m4 -174v1m0 142v1m2 -142v1m2 -3v1m2 0v1m0 144v1m2 -146v1m0 144v1m2 -145v1m0 145v1m2 -6v1m2 2v1m6 -140v1m0 141v1m2 -149v1m0 148v1m2 -147v1m4 -49v1m0 53v1m2 -55v1m0 194v1m4 -190v1m0 45v1m2 -47v1m2 29v1m0 164v1m2 -148v1m2 0v1m2 -106v1m2 -1v1m0 110v1m0 143v1m2 -252v1m2 23v1m0 150v1m0 79v1m2 -232v1m0 24v1m2 49v1m0 75v1m0 79v1m2 -1v1m0 2v1m2 -150v1m0 146v2m4 4v2m2 -174v1m2 -1v1m0 172v1m4 -147v1m0 57v1m2 89v3m4 -143v1m2 49v1m6 -84v1m0 14v1m6 15v1m2 -1v1m4 6v1m2 1v1m4 -33v1m0 32v1m2 0v1m2 -42v1m0 41v1m2 -43v1m0 12v1m0 29v1m2 -44v1m2 13v1m2 -1v1m0 17v1m0 18v1m0 30v1m2 -87v1m0 17v1m0 17v1m0 18v1m2 -57v2m2 56v1m0 98v1m2 -100v1m2 -21v1m0 19v1m4 -58v1m2 71v1m2 -55v1m0 52v1m2 -54v1m0 52v1m2 -63v1m2 1v1m0 23v1m2 -34v1m0 8v1m0 3v1m0 63v1m4 4v1m2 -39v1m4 -44v1m2 85v1m6 -33v1m2 -19v1m8 0v1m2 -1v1m0 17v1m2 -37v1m2 -1v1m2 -1v1m2 -2v1m2 67v1m2 -54v1m0 52v1m2 66v1m2 -141v1m0 63v1m2 -65v1m0 63v1m2 -8v1m0 6v1m2 -8v1m2 15v1m0 66v1m4 -68v1m4 -30v1"/><path stroke="#37e6d8" d="M81 242v1m2 -1v1m4 19v1m4 -1v1m2 -1v1m2 -1v1m0 72v1m2 -74v1m4 -2v1m4 -56v1m2 -4v1m0 2v1m0 58v1m2 -63v1m0 62v1m6 -1v1m2 -3v1m2 -2v1m2 -3v1m2 -34v1m0 39v1m2 -67v1m0 56v1m0 1v2m2 -61v1m2 -1v1m2 56v1m0 2v1m0 3v1m6 -39v1m0 43v1m2 -7v1m2 4v1m0 3v1m0 1v1m2 -83v1m0 82v1m2 -96v1m0 1v1m2 -3v1m0 35v1m2 -37v1m0 57v1m2 -1v1m2 -1v1m4 8v1m2 84v1m10 -145v1m2 -1v1m0 143v2m12 -155v1m0 143v3m0 1v1m2 -3v1m0 2v1m4 -7v1m2 -91v1m0 19v1m0 61v1m0 5v1m2 -54v1m0 45v1m0 3v1m4 0v1m2 -3v2m2 -6v1m0 1v1m4 -102v1m2 28v1m0 70v1m2 -6v1m0 2v1m2 -1v1m2 -12v1m0 2v4m0 1v1m2 -4v2m0 1v1m2 -10v1m2 8v1m2 -4v1m2 -89v1m0 2v1m0 66v1m0 6v4m0 1v2m0 1v1m2 -1v1m2 -3v1m2 -86v1m2 79v1m2 2v1m4 -89v1m0 83v1m2 -238v1m0 150v1m0 82v1m0 2v2m2 0v2m2 -93v1m2 79v1m0 6v1m2 -91v1m0 89v1m2 -94v1m2 82v1m0 13v1m2 -6v1m2 -98v1m0 96v2m2 -2v1m2 -1v1m2 -2v1m2 -190v1m0 83v1m0 104v1m2 -113v1m0 106v1m0 4v1m2 -113v1m0 112v1m2 -7v1m0 1v2m2 -4v1m0 1v3m2 -199v1m0 195v3m2 -199v1m2 -1v1m0 196v1m2 -120v1m0 114v1m0 1v3m2 -7v4m2 -143v1m0 27v1m0 110v1m0 1v2m0 1v1m2 -15v1m0 3v2m4 -112v1m0 105v1m0 3v1m0 50v1m2 -46v1m0 44v1m2 -163v1m0 105v1m0 10v2m0 43v1m2 -57v1m0 7v1m0 4v1m2 -120v1m0 116v2m2 -120v1m0 115v1m2 -118v1m0 116v2m2 -118v1m0 103v1m0 6v1m0 1v3m2 -120v1m0 118v1m2 -120v1m2 -4v1m0 122v2m2 -125v1m0 123v1m2 -9v1m0 2v1m2 -4v1m0 1v1m0 1v1m2 -128v1m2 -1v1m2 -3v1m0 130v1m2 -9v1m0 2v1m0 1v1m2 -130v2m0 129v1m2 0v1m2 -132v2m0 121v1m0 3v1m2 4v1m2 -7v1m2 -128v1m0 128v1m0 2v1m2 -131v1m0 125v2m2 -2v2m2 -129v1m0 123v1m2 -165v1m0 40v2m0 123v3m4 -6v1m2 -125v1m0 134v1m2 -138v1m0 131v1m0 1v1m2 -136v1m0 134v2m2 -134v2m0 116v1m0 2v1m0 2v1m0 5v1m2 -132v1m2 -1v1m0 130v1m2 -131v1m0 127v3m2 -130v1m0 125v2m2 -129v1m0 126v1m2 -130v1m0 131v1m2 2v1m2 -15v1m2 7v3m2 -13v1m0 10v2m2 -133v1m0 130v1m2 -2v1m0 2v1m2 -2v2m2 -134v1m0 131v2m2 -135v2m0 127v1m0 1v1m2 -1v1m0 1v1m2 -29v1m0 14v1m2 10v1m2 -2v3m0 2v1m2 -138v1m0 137v2m0 1v1m2 -4v1m2 2v1m2 -136v1m0 135v1m2 -134v1m0 127v2m2 -129v1m0 124v1m0 1v1m2 1v4m2 -203v1m0 69v1m0 128v2m2 -201v1m0 198v1m2 -128v1m2 0v1m0 129v1m0 26v1m4 -230v1m0 202v1m2 -204v1m0 201v1m0 1v3m2 -207v1m2 74v1m0 127v2m2 -130v1m2 0v1m0 129v1m2 -130v1m0 129v1m4 -131v1m0 128v1m2 -1v2m2 -8v1m0 3v2m2 -132v1m0 131v1m2 -1v2m2 -2v1m2 -131v1m0 132v1m2 -137v1m2 -1v1m0 135v1m6 -136v1m2 137v1m2 0v1m2 -141v1m0 140v1m4 -243v1m8 102v1m0 142v2m2 -147v1m0 140v1m2 -150v1m0 10v1m0 139v2m2 -144v1m0 145v1m2 -145v1m4 144v1m2 0v2m4 -4v2m2 0v1m6 5v1m2 -145v1m2 144v1m2 -2v1m2 2v1m2 0v1m2 -146v1m0 147v1m2 0v1m2 0v1m4 -147v1m4 1v1m4 147v2m2 1v1m2 1v1m16 -135v1m2 -41v1m0 38v1m0 135v1m0 1v1m2 -178v1m6 15v1m0 24v1m2 132v1m2 -158v1m2 -13v1m0 11v1m0 23v1m2 -44v1m2 -1v1m0 42v1m2 -43v2m4 -2v1m0 49v1m4 -51v1m0 12v1m4 47v1m2 0v1m2 -63v1m8 -1v1m0 11v1m2 -1v1m8 -4v1m0 165v1m2 -95v1m6 5v1m2 -75v1m2 -1v1m4 76v1m2 -2v1m4 -3v1m4 -21v1m0 23v1m2 -86v1m0 60v1m0 19v1m0 87v1m2 -170v1m0 66v1m0 17v1m2 -38v1m0 33v1m2 -1v1m2 -74v1m0 43v1m2 -47v1m0 45v1m0 29v1m2 -77v1m4 76v1m4 -3v1m0 90v1m2 -178v1m0 9v1m0 75v1m2 -87v1m0 9v1m0 76v1m2 -88v1m0 25v1m2 -1v1m0 31v1m0 28v1m2 -58v1m0 27v1m0 29v1m2 -81v1m0 79v1m2 -1v1"/><path stroke="#5bf9c7" d="M79 261v1m4 -1v1m6 1v1m6 54v1m0 15v1m0 1v1m2 -3v2m2 -4v1m2 -141v1m0 69v1m2 -1v1m2 -3v1m2 7v1m2 67v1m2 -71v1m2 61v1m0 2v1m0 2v1m2 -143v1m0 23v1m2 -1v1m2 -1v1m0 11v1m0 37v1m4 69v1m8 -69v1m6 64v1m0 2v1m2 -20v1m0 14v1m4 -161v1m0 19v1m0 140v1m0 1v1m4 -5v1m4 -140v1m0 141v1m4 -127v1m2 -1v1m2 125v1m2 -143v1m0 140v1m0 1v1m2 -144v1m4 141v1m4 -30v3m0 12v1m0 5v1m0 5v3m2 -15v1m0 8v1m0 3v3m8 -4v1m2 -74v1m0 60v1m0 1v1m0 2v1m0 5v1m4 -54v1m2 -20v1m0 66v2m2 -14v3m0 1v1m0 1v1m2 -14v2m0 1v1m0 11v3m2 -10v1m0 1v1m0 1v1m0 2v1m2 -3v1m2 -12v1m0 1v1m0 2v5m2 -68v1m0 48v2m0 14v1m0 1v1m2 -22v1m0 11v2m0 3v1m2 1v1m0 1v1m2 -5v1m0 2v1m2 -10v3m2 -71v1m0 66v1m0 1v1m2 -76v1m2 59v1m0 12v1m2 -79v1m0 71v1m0 1v4m2 -80v1m0 80v3m2 -89v1m0 84v1m2 -40v1m0 7v1m0 12v1m0 1v3m0 1v1m2 7v1m2 -85v1m0 82v1m2 3v1m2 -100v1m0 78v1m0 5v2m0 5v2m2 -1v1m2 -7v2m0 2v1m4 -7v1m2 5v1m2 -12v1m0 1v1m0 3v2m2 -2v2m2 -7v1m2 -86v1m0 84v1m0 4v1m2 -92v2m0 91v1m0 2v1m2 -98v1m0 93v1m2 -7v1m2 1v1m0 1v1m2 -101v1m0 97v1m0 1v1m0 1v1m2 -4v1m2 -10v1m0 4v1m2 3v1m2 0v1m2 -8v1m2 -108v1m0 109v1m2 -14v1m0 12v1m2 -113v1m0 112v1m2 -117v1m0 115v1m4 -116v1m0 81v1m0 19v1m0 1v2m0 3v1m2 -18v1m0 11v1m0 6v1m2 -115v1m0 105v1m0 4v1m2 1v2m2 -116v1m0 103v1m0 2v1m2 4v1m2 -8v1m2 -107v1m0 106v1m0 3v1m2 1v1m0 1v1m2 -117v1m0 111v1m0 1v1m2 -5v1m0 1v1m2 -5v2m4 -114v1m0 119v1m2 -5v2m2 -123v1m0 119v2m0 1v2m2 -127v1m0 2v1m0 116v2m2 -122v1m0 113v1m0 5v1m0 1v1m2 -126v1m0 120v2m0 1v3m2 -127v1m0 120v1m0 2v1m0 3v2m2 -22v1m0 7v1m0 4v1m0 3v1m2 -129v1m0 116v1m0 6v2m2 -3v2m0 1v2m0 1v1m2 -129v1m0 128v1m0 1v2m2 -132v1m0 109v1m0 6v1m0 4v3m0 2v1m2 -131v1m0 130v2m2 -131v2m0 111v1m0 1v1m0 8v1m2 -126v1m0 125v2m0 1v1m2 -128v1m0 107v1m0 12v2m2 -125v1m0 129v1m2 -5v2m2 -124v1m0 9v1m0 110v1m2 -126v2m0 121v1m0 2v2m2 -130v2m0 116v1m0 7v1m2 -125v3m0 124v1m0 2v1m0 1v1m2 -135v1m0 126v1m2 1v1m0 1v1m2 -11v1m0 5v1m0 1v1m2 -129v1m0 119v2m0 2v1m0 1v1m0 1v2m2 -130v1m2 0v1m0 125v1m2 -126v1m0 118v1m2 -121v1m0 126v1m4 -130v1m0 128v1m0 1v1m0 1v1m0 1v1m2 -136v1m0 116v1m0 1v1m0 6v1m2 -128v1m0 113v1m0 6v2m0 4v2m2 -130v1m2 0v1m0 128v1m2 -130v1m0 121v2m0 3v1m0 2v2m2 -134v2m0 121v1m0 7v1m0 3v1m2 -7v3m2 -8v2m0 2v1m0 1v1m0 1v1m2 -134v1m0 132v1m2 -131v1m0 125v2m2 -131v1m0 124v1m2 -125v1m0 127v2m2 -131v1m0 130v1m0 7v1m2 -138v1m0 132v2m0 1v1m2 -137v1m0 136v1m0 1v1m2 -136v1m0 125v1m0 1v2m0 3v1m2 -6v2m2 -6v4m0 3v1m2 -130v1m2 125v2m0 1v1m2 -128v1m0 123v1m0 2v1m2 2v3m2 -2v1m2 -130v1m0 122v1m0 2v1m0 2v2m2 -130v1m0 128v1m2 -130v2m0 128v1m2 -130v1m0 126v2m2 -127v1m0 124v2m2 -127v1m0 128v1m2 -129v1m0 124v1m0 2v1m2 -128v1m0 125v3m2 -129v1m0 126v3m2 -3v1m2 -130v2m0 119v1m2 -124v1m0 114v1m0 6v1m0 2v1m0 1v3m2 -129v1m0 123v1m0 4v1m2 -130v1m2 -2v2m0 128v2m0 2v1m2 -132v1m0 128v1m4 -132v1m0 132v1m2 -135v1m0 133v2m2 -136v1m0 128v1m0 5v1m2 -1v1m0 1v1m0 1v1m2 -180v1m0 39v1m2 1v1m0 135v1m2 -139v1m0 134v1m0 3v1m2 0v1m2 -140v1m0 139v1m2 -182v1m0 38v1m0 143v2m2 -145v1m0 142v1m2 -144v1m2 142v1m2 -7v1m2 3v1m4 0v1m0 2v2m2 -141v1m2 -3v1m2 -2v1m0 141v1m0 1v1m2 -145v1m0 147v1m2 -9v1m0 1v1m2 -140v2m2 0v1m2 141v2m2 -143v1m2 144v1m2 -1v1m4 -143v1m0 143v1m2 -2v3m2 2v1m2 -148v1m0 144v1m0 1v2m4 0v1m2 -1v1m2 -1v2m2 2v1m2 -145v1m0 146v1m2 -11v1m0 5v2m2 -141v1m0 140v1m0 1v1m4 3v2m2 -9v1m0 2v1m0 1v2m4 3v1m4 -143v1m2 -24v1m0 162v1m4 -4v1m0 4v1m2 -138v1m2 0v1m2 -40v1m0 36v1m2 -3v1m2 -41v1m0 39v1m0 132v1m2 -174v1m2 0v1m4 -1v1m0 178v1m2 -181v1m2 0v1m2 -2v1m2 177v1m6 -3v1m0 1v3m2 -180v1m2 -2v1m0 65v1m0 112v1m2 -179v1m2 -2v1m0 70v1m6 106v3m2 -103v1m0 97v1m2 -97v1m2 -1v1m2 94v1m4 2v1m2 -89v1m4 -1v1m4 -2v1m2 -83v1m0 166v1m0 1v1m0 3v1m4 -176v1m0 85v1m4 -2v1m4 83v1m0 2v2m8 -167v1m0 77v1m2 -79v1m2 -1v1m0 78v1m2 -1v1m4 -74v1m0 20v1m0 49v1m2 0v1m4 -16v1m2 15v1m2 -1v1m2 -24v1m4 110v1"/><path stroke="#80ffb4" d="M81 260v1m4 75v1m6 -6v1m0 2v1m0 1v1m2 -2v1m2 -73v1m0 53v1m0 3v2m0 4v1m2 -65v1m0 1v1m0 45v1m0 6v2m0 1v1m0 3v1m0 1v2m0 3v1m2 -141v1m0 137v1m0 2v2m0 1v1m2 -3v1m0 1v1m2 -2v2m4 -5v1m0 2v2m2 -145v1m0 135v1m0 6v1m4 -4v1m4 -65v1m0 63v3m2 -68v1m0 65v1m2 2v1m4 -71v1m0 61v1m0 3v1m2 1v1m2 -6v1m0 2v1m0 2v1m2 -1v1m4 0v1m2 -9v2m0 1v1m0 3v1m2 -108v1m0 46v1m0 42v1m0 4v2m0 3v1m0 2v1m0 1v4m2 -59v1m2 -2v1m0 54v1m0 3v1m4 -2v1m4 -7v1m0 1v1m0 1v1m0 2v1m6 -3v1m2 -2v1m2 -106v1m0 103v1m0 1v1m4 -143v1m0 90v1m2 -116v1m0 59v1m0 54v1m0 32v1m0 19v1m4 -54v1m0 20v1m0 4v2m0 6v2m0 3v2m0 3v2m0 1v1m2 -10v1m0 4v1m0 3v3m0 3v1m2 -52v1m0 5v1m2 -7v1m0 46v2m0 1v1m4 -53v1m0 33v1m0 2v2m0 6v1m0 1v2m0 1v1m2 -11v1m0 5v1m2 -4v2m0 1v1m2 -5v2m2 -8v1m2 -12v1m2 -38v1m0 33v2m0 2v1m0 1v1m2 -9v1m0 10v1m0 1v1m0 1v1m2 -58v1m0 57v1m2 -61v1m0 42v1m0 5v1m2 0v1m0 4v1m2 -29v1m0 14v1m0 4v2m2 -59v1m0 65v1m0 1v1m2 -13v1m2 -17v1m0 13v1m0 3v1m2 -5v1m0 6v2m2 -8v1m2 -5v3m0 3v1m2 -9v1m2 4v1m0 3v1m2 -2v1m2 -83v1m0 2v1m0 52v1m0 1v1m0 1v2m0 1v2m0 5v1m2 -75v1m0 79v3m2 -3v2m2 2v2m2 -89v1m0 64v1m0 2v1m0 2v1m0 2v1m0 2v2m0 1v1m2 -83v1m0 82v2m2 -87v1m2 80v2m0 2v1m2 -87v1m0 70v1m0 3v1m0 1v3m0 3v1m2 -85v1m0 85v1m2 -22v1m0 3v1m0 2v4m0 1v1m0 1v3m0 2v1m2 -90v1m0 80v1m0 1v4m2 -1v3m2 -8v1m2 -20v1m0 18v1m0 2v1m0 3v1m0 2v1m2 -14v1m0 5v1m0 1v2m2 -6v1m0 2v1m0 1v1m2 -98v1m0 91v2m2 -1v1m0 2v1m2 -100v1m0 95v1m0 1v1m2 -22v1m0 21v1m2 -109v1m0 104v1m0 1v1m2 -109v1m0 108v1m2 -110v1m0 101v1m0 1v1m0 1v1m2 -110v1m0 105v2m2 -110v1m0 109v1m2 -4v2m0 1v1m2 -114v1m0 106v1m0 2v1m0 1v3m2 -117v1m0 108v1m0 1v1m0 1v1m0 1v1m2 -113v1m0 83v1m0 1v1m0 9v1m0 2v2m0 1v1m0 2v1m0 1v1m2 -8v3m0 1v2m0 1v1m2 -2v1m0 1v1m2 -113v1m0 103v1m0 2v1m0 4v1m2 -13v1m2 -99v1m0 107v1m0 1v2m2 -116v2m0 95v1m0 2v1m0 6v1m0 4v2m0 1v1m0 26v1m2 -59v1m0 21v1m0 1v3m0 1v1m0 1v1m0 27v1m2 -143v1m0 106v1m0 3v1m0 2v1m0 27v1m2 -34v1m2 -112v1m0 107v1m0 5v2m2 -115v4m0 93v1m0 2v2m0 4v2m0 3v1m2 -116v1m0 114v3m2 -7v1m0 3v4m2 -122v1m0 1v1m0 110v1m0 4v1m0 2v1m2 -122v1m0 112v1m0 6v1m2 -124v2m0 110v1m0 3v2m2 -118v2m0 96v1m0 5v1m0 4v1m0 6v2m2 -121v1m0 121v1m2 -123v1m0 3v2m0 118v1m0 1v1m2 -130v3m0 108v1m0 10v1m0 3v1m0 1v2m2 -130v2m0 116v1m2 -118v1m0 1v1m0 120v1m0 2v1m2 -127v1m0 125v1m2 -126v1m0 107v1m0 1v1m2 -114v1m0 125v3m2 -126v1m0 106v1m0 13v1m2 -124v2m0 115v1m0 1v1m0 3v2m2 -25v1m0 2v1m0 2v1m0 10v1m0 1v1m0 5v1m0 2v1m2 -129v1m0 117v1m0 3v2m0 4v1m2 -129v3m0 99v1m0 4v1m0 8v1m0 1v1m0 3v1m2 -121v1m0 2v1m0 1v2m0 5v1m0 2v3m0 6v1m0 95v2m2 -8v1m0 6v2m2 -126v2m0 104v1m0 2v3m0 5v1m0 7v2m2 -124v1m0 124v2m0 1v1m2 -133v2m0 125v3m2 -132v2m0 127v1m0 1v1m2 -25v1m0 1v1m0 7v1m0 1v1m2 -117v1m0 96v1m0 8v1m0 6v1m0 1v1m0 1v1m0 6v1m0 1v1m2 -127v1m0 124v1m0 1v2m2 -128v1m0 118v1m0 4v1m2 -13v1m0 3v2m0 5v2m2 -125v1m0 111v1m0 3v1m0 6v2m2 -128v1m0 118v1m0 9v2m2 -130v1m0 124v1m0 3v1m0 1v1m2 -132v1m0 116v1m0 8v2m2 -129v1m0 107v1m0 16v1m2 -127v2m0 124v1m0 2v1m2 -129v1m2 118v2m0 11v1m2 -7v1m0 2v1m2 -131v1m0 129v1m2 -131v2m0 118v2m2 -124v1m0 128v2m2 -128v3m0 92v1m0 16v1m0 2v1m0 3v1m2 -123v2m0 103v1m2 -105v2m0 113v1m0 6v1m2 -124v1m0 21v1m0 108v4m2 -133v1m0 125v1m2 -127v1m0 1v1m0 125v1m0 3v4m2 -6v1m0 2v3m2 -130v2m0 121v1m2 -123v1m0 1v1m0 122v1m2 -127v3m0 118v2m0 2v1m0 1v1m2 -127v2m0 121v1m0 2v1m2 -126v1m0 107v1m0 13v1m2 -122v1m0 123v3m2 -126v1m0 126v1m2 -15v1m0 9v2m0 2v1m2 -127v2m0 120v1m0 2v3m2 -127v1m0 113v1m0 11v1m4 -123v1m0 1v1m0 116v3m2 -3v1m0 7v2m2 -130v1m0 124v2m2 -126v1m0 119v1m2 -121v1m0 118v3m2 -123v1m0 1v1m0 121v1m2 -116v1m0 108v1m0 2v2m0 1v4m2 -131v1m0 118v1m0 2v1m2 -122v1m0 117v1m0 1v1m0 8v1m4 -6v1m0 1v2m0 3v1m2 -130v2m0 8v1m0 113v1m0 1v1m0 2v2m2 -135v2m0 133v1m2 -136v1m0 127v1m0 3v2m2 -133v1m0 127v1m0 3v1m2 -133v1m0 129v1m0 1v2m2 -134v3m0 130v1m0 3v1m2 -137v2m0 124v1m0 3v1m0 1v2m0 1v1m2 -135v1m0 133v1m2 -137v1m0 129v1m0 5v2m2 -140v2m2 139v1m2 -141v1m0 140v1m2 -15v1m0 12v3m2 -142v1m0 138v4m2 -142v1m0 138v2m2 -183v1m0 39v2m0 136v2m2 -137v1m2 -3v1m0 143v1m2 -3v1m2 1v2m2 -2v1m2 -141v1m0 140v1m2 3v1m2 -142v1m0 125v1m0 2v1m0 1v1m0 3v1m2 -7v1m0 8v1m2 1v3m2 -191v1m0 45v1m0 139v1m0 1v1m8 -4v1m2 -134v1m0 141v1m2 -196v1m0 55v1m0 2v1m2 134v2m2 -195v1m0 193v3m0 1v1m2 -146v1m0 147v1m2 -149v1m0 146v1m2 -202v1m0 200v1m2 -144v1m0 140v3m2 2v2m2 -1v1m0 1v1m2 -142v1m0 136v1m2 -137v1m2 0v1m0 141v2m2 0v1m8 -139v1m0 140v2m2 -5v4m2 -141v1m0 123v2m0 3v2m0 1v1m0 1v5m0 1v1m2 -1v1m2 -6v1m0 1v1m0 1v1m2 -135v1m0 129v1m4 2v1m2 -2v1m2 -7v1m0 7v1m2 1v1m2 -181v1m0 177v1m2 -133v1m2 0v1m0 131v1m2 0v1m2 -132v1m2 128v1m2 -178v1m0 174v1m2 -177v1m0 56v1m0 120v1m0 1v1m2 -181v1m2 62v1m0 111v1m0 1v1m2 -114v1m0 108v3m0 1v1m2 -111v1m0 112v1m2 -181v1m0 68v1m0 107v1m0 1v1m4 -180v1m0 157v1m0 16v2m0 1v3m2 -107v1m0 101v1m0 1v1m2 -101v1m0 97v1m2 1v1m0 1v1m4 -8v1m2 -93v1m0 92v1m2 -92v1m2 93v1m2 -1v1m2 -89v1m0 86v1m0 3v1m2 -90v1m2 -1v1m2 87v2m2 -89v2m0 81v1m0 2v1m2 -88v1m2 0v1m2 -4v1m0 84v1m0 3v1m4 -86v1m0 86v1m2 -92v2m0 80v1m0 1v1m0 6v1m2 -88v1m2 -4v1m0 1v1m0 87v1m2 -91v1m0 81v1m0 4v3m2 -89v1m2 -1v1m0 82v1m2 -83v2m0 1v1m2 -4v1m0 80v3m2 -84v2m2 -4v2m0 76v1m0 1v2m0 1v1m2 -83v1m0 80v2m2 -84v1m2 0v3m0 79v3m0 1v2m2 -87v2m2 -2v1m2 -1v1m0 74v1m4 -76v1m0 83v1"/><path stroke="#a4f99f" d="M83 319v1m2 -57v1m0 16v1m0 34v1m0 13v1m0 1v2m0 2v1m2 -7v1m4 3v1m0 1v1m2 -2v1m0 1v1m2 -73v3m0 48v1m0 3v1m0 3v1m0 1v2m0 1v3m0 2v1m2 -70v1m0 2v1m0 36v1m0 18v1m0 2v1m0 2v1m0 3v1m2 -71v1m0 61v5m0 1v1m2 -69v1m0 59v1m0 2v2m2 3v1m0 1v1m2 -10v1m2 -56v1m0 54v1m0 5v1m0 2v2m2 -68v1m0 50v1m0 1v1m0 9v1m0 1v1m0 1v1m2 -68v1m0 60v1m0 2v3m0 2v1m2 -70v1m0 51v1m0 5v1m0 1v1m0 1v1m0 3v1m0 1v2m2 -70v1m2 50v2m0 1v1m0 2v1m0 6v1m2 0v1m2 -67v1m2 61v1m0 4v3m2 -39v2m0 1v1m0 14v1m0 8v1m0 1v1m0 7v1m2 -3v1m0 2v1m2 -8v1m2 -3v1m2 -56v1m2 -1v1m0 56v1m0 1v2m0 1v1m2 -4v1m0 1v1m2 -14v1m0 1v2m0 3v2m0 2v1m4 -11v1m0 3v1m0 1v1m0 1v1m0 1v2m0 2v1m2 -65v2m0 49v2m0 1v2m2 -51v1m0 1v1m0 54v2m4 -58v1m0 39v1m0 7v2m0 2v1m0 1v1m0 1v1m2 -57v2m0 31v2m0 6v1m0 3v1m0 2v2m0 3v1m0 1v1m0 1v1m2 -57v1m2 2v1m0 35v1m0 1v1m0 1v3m0 1v2m0 1v1m0 3v1m0 3v1m4 -56v3m2 -2v1m0 42v1m2 -43v1m0 48v1m0 1v2m0 1v1m2 -53v1m0 33v1m0 4v1m0 7v1m0 1v1m0 1v1m2 -52v2m0 47v1m2 -50v2m0 4v1m0 8v1m0 1v3m0 11v2m0 7v2m0 3v1m2 -47v3m0 21v1m0 9v1m0 5v1m0 3v2m2 -45v1m0 49v1m2 -51v1m0 1v2m0 31v1m0 8v1m0 2v1m0 2v1m0 1v1m2 -54v1m2 -2v1m0 1v1m0 31v1m0 1v1m0 3v4m0 3v1m2 -26v1m0 11v3m0 2v1m0 2v1m2 -46v1m0 25v2m0 2v1m0 4v1m0 3v5m0 2v1m2 -12v2m0 7v1m0 3v1m2 -52v1m0 46v2m2 -25v1m0 9v2m2 -40v1m2 -5v1m0 36v1m2 11v2m2 -27v1m0 7v2m0 1v1m0 1v1m0 1v1m0 2v1m2 -59v1m0 36v1m0 20v2m2 -60v2m0 7v1m0 33v1m0 2v3m0 2v2m0 3v1m0 2v1m4 -66v1m0 32v1m0 23v2m0 6v1m2 -68v1m0 2v1m0 31v1m0 2v1m0 5v1m0 1v1m0 4v1m0 1v3m0 1v1m2 -1v1m0 4v1m0 1v1m2 -74v1m0 63v3m0 3v1m2 -29v1m0 6v1m0 5v1m0 1v1m0 6v1m0 4v2m2 -18v2m0 5v1m0 1v1m0 1v2m2 5v1m2 -22v2m0 4v1m0 1v1m2 -69v1m0 43v1m0 5v1m0 3v1m0 1v1m0 1v1m2 15v1m2 -80v1m0 71v1m0 4v1m0 1v1m2 -81v1m2 -2v1m0 50v2m0 6v1m0 11v2m2 4v1m0 1v1m2 -10v2m2 -76v1m2 69v1m0 1v1m0 1v1m0 4v1m4 -85v1m0 68v2m0 2v1m2 -76v1m0 68v1m0 1v3m0 1v5m2 -81v1m0 80v1m0 3v1m2 -88v1m0 80v1m0 4v3m2 -89v1m0 1v1m0 2v1m0 2v1m0 39v1m0 31v1m0 1v1m0 1v1m0 2v3m2 -18v1m0 1v1m0 4v1m0 1v2m0 1v2m0 1v1m2 -94v2m0 84v1m0 1v2m0 2v1m2 -30v1m0 18v1m0 2v2m0 2v1m0 2v1m0 1v1m2 -99v1m0 85v2m0 1v1m0 4v1m0 1v1m2 -1v1m2 -24v2m0 2v1m0 4v1m0 3v1m0 1v1m0 1v1m0 4v1m2 -10v1m0 6v1m0 2v1m2 -107v1m0 104v3m2 -108v1m0 98v2m2 -104v1m0 103v1m2 -107v1m0 104v1m0 1v2m2 -6v3m0 2v1m0 1v1m2 -6v1m0 1v1m2 -9v1m0 1v1m0 4v1m2 -106v2m0 1v1m0 30v1m0 44v1m0 1v1m0 1v2m0 1v1m0 2v3m0 10v1m2 -108v2m0 6v1m0 82v1m0 2v2m0 11v1m2 -110v1m0 91v1m0 1v1m0 9v1m2 -105v2m0 105v1m0 1v1m2 -111v1m0 1v1m0 2v1m0 72v2m0 1v1m0 11v1m2 -91v1m0 100v3m0 2v1m2 -26v1m0 2v1m0 11v2m0 5v1m0 2v1m0 2v1m2 -114v2m0 95v1m0 3v1m2 -102v2m0 99v1m0 2v1m0 2v1m0 1v1m2 -111v1m0 109v1m0 1v1m2 -114v2m0 101v1m0 4v2m0 1v1m2 -108v3m0 1v1m0 3v1m0 78v1m0 1v2m0 1v1m0 1v1m0 3v1m2 -106v3m0 109v1m2 -113v2m0 109v2m2 -116v1m0 1v1m0 1v1m0 6v1m0 19v1m0 57v1m0 15v1m0 10v1m2 -117v3m0 80v1m0 6v1m0 14v1m0 2v1m0 7v1m2 -118v1m0 105v1m0 1v1m0 1v1m2 -112v1m0 96v1m0 5v1m0 1v2m0 2v2m2 -113v3m0 1v1m0 101v1m0 6v1m0 2v1m2 -118v2m0 115v1m0 1v2m0 2v1m2 -122v1m0 104v1m0 1v1m0 9v1m2 -123v1m0 116v1m2 -120v1m0 6v1m0 7v1m0 83v1m0 5v1m0 2v4m0 2v1m0 4v1m2 -118v2m0 3v1m0 109v3m0 2v2m0 1v2m2 -124v1m0 3v1m0 6v1m0 98v2m0 1v2m0 1v1m2 -120v3m0 121v1m0 3v1m2 -29v1m0 2v1m0 4v1m0 1v3m0 6v1m0 2v1m2 -121v1m0 119v1m2 -121v1m0 91v1m0 4v1m0 2v1m0 1v2m0 7v1m0 1v1m0 8v1m2 -124v2m0 106v1m0 6v2m0 6v2m2 -123v1m0 97v1m0 8v1m0 6v1m2 -109v2m0 1v1m0 2v2m0 3v4m0 1v1m0 90v2m2 -117v3m0 90v1m0 23v1m2 -118v1m0 4v1m0 105v2m0 5v1m2 -117v1m0 108v1m0 2v1m0 8v2m2 -126v1m0 1v1m0 113v1m0 2v1m0 3v1m2 -1v2m2 -125v3m0 99v1m0 1v1m0 3v1m0 2v2m0 1v1m0 2v1m0 5v1m2 -52v1m0 30v1m0 4v1m0 6v1m2 -116v1m0 117v2m0 5v1m2 -125v1m0 116v1m0 3v2m2 -123v1m0 102v6m0 1v1m0 6v1m0 3v1m2 -122v1m0 107v1m0 5v1m0 1v1m0 1v1m2 -8v1m0 2v1m0 7v1m0 1v1m2 -127v1m2 -1v2m0 1v1m0 105v6m0 4v2m0 2v1m2 -125v1m0 1v1m0 5v2m0 1v1m0 83v1m0 12v1m0 1v2m0 5v2m0 2v1m2 -122v1m0 1v1m0 115v1m0 6v2m2 -127v1m0 117v3m0 4v1m2 -127v1m0 12v1m0 12v1m0 98v1m2 -127v2m0 1v1m0 116v1m0 1v2m0 2v1m0 1v1m2 -128v1m0 119v1m0 4v1m2 -13v1m0 4v1m2 -121v1m2 4v1m0 71v1m0 11v1m0 6v1m0 5v1m0 2v1m0 3v1m0 8v1m0 1v1m0 2v2m2 -124v4m0 6v1m0 3v1m0 2v1m0 5v1m0 1v1m0 8v1m0 53v1m0 6v1m0 4v1m0 13v1m0 6v1m0 1v1m2 -123v2m0 116v1m0 3v1m2 -125v3m0 13v1m0 8v1m0 101v1m0 6v1m2 -133v2m0 120v1m0 3v2m0 1v2m2 -131v1m0 1v1m0 100v1m2 -101v1m0 121v1m0 1v1m2 -121v2m0 2v1m0 117v1m2 -123v1m0 22v1m0 2v1m0 86v1m0 4v1m2 -118v1m0 1v1m0 109v1m0 1v1m0 5v2m0 1v1m0 1v1m2 -126v1m0 104v1m2 -106v1m0 99v3m0 1v2m0 2v1m0 4v2m0 5v1m0 2v2m2 -124v2m0 117v1m0 1v1m0 4v1m2 -126v1m0 111v1m0 11v2m2 -127v1m0 119v2m0 4v1m2 -124v1m0 116v1m0 1v1m0 1v2m2 -123v1m0 102v1m0 5v1m0 4v1m0 1v1m0 1v4m0 1v2m2 -126v2m0 109v1m0 2v2m0 2v1m0 3v4m2 -124v2m0 1v1m0 108v1m2 -113v3m0 1v1m0 117v2m0 1v2m2 -125v1m0 2v2m0 115v1m0 1v1m2 -122v2m0 6v2m0 94v3m0 8v1m0 1v2m0 1v4m2 -124v2m0 102v1m0 1v1m0 4v1m0 4v2m0 3v4m2 -126v1m0 2v2m0 113v1m0 3v1m0 1v2m2 -127v1m0 4v1m0 105v1m0 8v1m0 2v1m2 -126v2m0 3v1m0 111v1m0 4v1m2 -122v3m0 1v1m0 116v1m0 1v1m0 1v2m2 -128v2m0 125v3m2 -130v2m2 2v1m0 1v1m0 1v1m0 104v1m0 15v1m2 -1v2m0 1v1m2 -127v1m0 120v3m2 -130v1m0 9v1m0 113v3m0 1v1m0 1v1m2 -131v2m0 122v1m0 3v1m2 -125v1m0 124v2m2 -132v1m0 6v1m0 118v1m0 2v1m0 2v1m2 -130v1m0 117v1m0 10v3m2 -134v1m0 18v1m0 1v1m0 106v1m0 1v1m0 1v1m2 -134v1m0 136v2m2 -138v1m0 2v1m0 131v3m2 -8v1m0 7v1m0 1v1m2 -142v1m2 0v3m0 132v3m2 -7v2m0 2v1m0 2v1m2 -139v2m0 125v1m0 4v2m2 -131v1m0 134v1m2 -139v1m0 140v2m2 -142v2m0 102v1m0 32v1m0 3v1m2 -137v1m0 129v1m0 5v1m2 -140v2m0 134v1m0 1v2m0 1v1m2 -143v1m0 1v1m0 137v1m2 3v2m2 -140v2m0 5v1m0 116v1m0 6v2m4 5v1m2 -141v1m0 136v2m2 -137v1m0 139v2m2 -141v1m0 139v1m2 -143v1m0 136v1m0 4v1m2 -142v3m0 134v5m2 -1v1m0 2v1m2 -138v1m0 128v2m0 2v1m0 3v1m2 -141v1m0 144v1m4 0v2m2 -2v1m2 -143v1m0 136v1m0 4v1m2 -161v1m0 156v1m2 -158v1m0 19v1m0 2v1m0 135v2m0 1v2m2 -141v1m0 139v2m0 1v1m0 1v1m2 -20v1m0 5v1m0 2v1m0 1v1m2 2v1m0 1v2m0 1v1m2 -4v1m0 1v3m2 -144v1m0 141v1m0 1v1m2 -7v1m0 3v1m0 1v1m4 -147v1m0 9v1m2 0v1m0 121v1m0 1v1m0 7v1m2 -30v1m0 26v1m0 1v1m0 2v2m0 4v1m2 -34v1m0 4v1m0 14v1m0 2v1m0 1v1m0 7v1m2 -138v2m0 1v1m0 121v1m0 4v1m0 4v1m0 1v1m2 -139v1m0 130v1m2 3v1m2 -133v1m0 131v1m0 2v1m2 -178v1m0 39v1m2 0v1m0 132v1m2 -177v1m0 41v1m0 131v1m0 1v1m0 1v2m2 -180v1m0 43v1m0 132v1m2 -176v1m0 40v1m0 134v2m2 -180v1m0 1v1m0 171v2m2 -129v1m0 124v1m2 -126v3m0 122v2m0 1v4m2 -180v1m0 49v2m0 126v1m2 -127v1m0 119v1m0 2v1m2 -176v1m0 52v2m0 120v1m0 1v1m0 2v1m2 -6v2m0 2v1m2 -128v1m0 4v1m2 -6v1m0 114v1m2 -168v1m0 178v2m2 -9v4m0 1v1m2 -108v2m0 64v1m0 35v1m0 1v2m0 2v1m2 -178v1m0 177v1m4 -180v1m0 174v1m0 4v1m2 -175v1m0 165v1m0 2v1m0 1v1m2 -172v1m0 72v1m0 95v1m0 1v1m0 1v1m2 -14v1m0 4v1m0 2v1m0 2v1m0 1v1m2 -99v1m0 92v4m0 2v1m2 -9v2m0 3v1m2 -158v1m0 63v1m0 42v1m0 51v2m2 -7v1m0 4v1m2 -135v1m0 45v1m0 82v1m0 1v1m0 1v1m2 -135v1m0 45v1m0 88v1m4 -88v2m0 82v2m2 -88v1m0 82v2m0 1v3m2 -171v1m0 85v2m0 1v1m0 1v4m0 3v1m0 1v1m0 63v2m0 3v1m0 1v1m2 -88v2m0 78v1m0 1v2m2 -9v1m0 3v2m0 1v2m0 2v2m2 -90v1m0 79v2m2 -81v2m0 84v1m2 -84v3m0 80v3m2 -87v1m0 1v2m0 70v1m0 1v1m0 2v1m0 2v1m0 3v1m2 -161v1m0 74v2m0 75v1m2 -81v1m0 1v1m2 -3v3m0 77v1m0 2v3m4 1v3m2 -87v1m0 1v1m0 2v2m0 1v1m0 70v2m2 -82v2m0 83v3m4 -16v1m2 4v2m0 2v4m0 1v1m2 -89v3m0 79v1m2 -4v2m0 4v1m0 2v1m2 -86v4m0 4v1m2 -9v1m2 -92v1m2 32v1m0 55v1m0 81v1m0 1v4m2 -144v1m0 56v1m0 1v1m0 65v1m0 4v1m0 7v1m0 2v2"/><path stroke="#c8e688" d="M79 324v1m0 6v1m2 2v1m2 -73v1m0 62v2m0 1v2m0 2v1m0 2v1m2 -17v2m0 5v1m0 3v1m0 2v2m2 -4v2m0 1v1m0 1v1m2 -5v1m0 3v1m2 -21v1m0 10v1m0 4v1m2 -70v1m0 61v1m0 1v1m0 3v1m2 -65v3m0 41v1m0 8v1m0 3v1m2 -59v1m0 24v1m0 17v1m0 4v1m0 2v1m0 2v1m0 1v1m0 1v1m0 5v1m2 -8v1m0 11v1m2 -71v1m0 2v1m0 6v1m0 33v1m0 1v1m0 10v1m0 2v1m0 2v1m0 4v1m0 1v1m2 -73v1m0 60v2m0 1v1m0 6v1m2 -74v1m0 63v1m2 -15v1m0 4v2m0 4v1m0 2v4m2 -10v1m0 7v1m0 1v1m0 1v1m0 1v1m2 -8v2m0 1v1m0 4v2m2 -31v1m0 8v1m0 1v2m0 3v1m0 4v1m0 3v1m2 -63v1m0 62v2m0 1v1m2 -12v1m0 1v3m2 -31v1m0 13v1m0 2v1m0 16v1m0 2v3m2 -70v1m0 58v1m0 2v1m0 3v3m2 -69v1m0 57v1m0 3v2m0 1v1m2 -42v1m0 9v1m0 9v1m0 5v2m0 3v1m0 2v1m0 4v1m0 2v1m0 1v2m2 -68v1m0 45v1m0 6v1m0 3v1m2 -13v1m0 5v1m0 4v3m0 2v1m0 3v1m2 -66v1m0 40v2m0 8v2m0 5v3m0 4v1m4 -20v1m0 16v1m0 2v1m2 -65v1m0 51v1m0 10v1m2 -42v1m0 1v1m0 3v1m0 11v1m0 2v1m0 1v1m0 3v1m0 4v1m0 3v1m2 -2v1m0 6v1m2 -25v1m0 2v1m0 3v1m0 6v1m0 1v1m0 1v1m2 -58v1m0 46v2m0 2v1m0 2v2m0 7v1m2 -60v1m0 3v2m0 25v1m0 14v2m0 2v1m0 1v1m0 1v1m0 3v1m0 1v1m2 -62v2m0 55v1m2 -58v1m0 41v1m0 1v1m0 6v2m0 7v1m2 -58v1m0 2v1m0 24v2m0 3v1m0 3v2m0 5v1m0 7v1m0 3v1m2 -59v1m0 48v1m0 8v1m2 -56v1m0 1v2m0 31v1m0 2v1m0 5v1m0 5v2m0 1v2m2 -56v3m0 37v1m0 1v2m0 5v1m0 3v2m0 3v1m2 -30v1m0 8v1m0 2v3m0 5v1m0 1v3m0 4v1m2 -55v1m0 32v2m0 2v1m0 5v1m0 10v1m2 -53v4m0 27v1m0 7v2m0 5v1m0 1v1m2 -48v1m0 11v2m0 12v1m0 3v1m0 1v1m0 1v1m0 1v1m0 3v2m0 1v2m0 2v1m2 -47v2m0 37v3m0 1v2m0 5v1m2 -50v1m0 4v1m0 2v1m0 4v1m0 7v1m0 2v1m0 2v1m0 6v1m0 9v1m2 -42v2m0 8v1m0 2v1m0 7v1m0 2v2m0 2v1m0 3v1m0 1v2m2 -40v3m0 40v1m0 1v1m0 1v1m0 1v2m2 -49v1m0 1v2m0 24v1m0 6v1m0 1v1m0 1v1m0 2v1m2 -50v2m0 49v1m0 3v1m2 -52v1m0 17v1m0 6v1m0 3v2m0 3v1m0 6v2m2 -46v3m0 25v1m0 3v2m0 3v1m2 -40v2m0 3v1m0 15v1m0 1v2m0 10v2m0 6v1m2 -156v1m0 110v2m0 25v1m0 9v1m0 3v1m0 1v1m0 1v1m2 -48v1m0 44v1m2 -48v3m0 15v1m0 8v1m0 4v1m2 -33v2m0 26v1m2 -35v2m0 22v1m0 12v2m0 1v3m2 -4v1m0 6v2m2 -57v2m0 21v1m0 1v2m0 2v1m0 8v1m0 7v1m2 -54v1m0 31v2m0 5v1m0 1v2m0 1v1m0 1v1m0 2v2m0 2v1m2 -53v1m0 1v1m0 1v2m0 16v2m0 4v1m0 6v1m0 1v1m0 2v1m0 7v1m0 2v1m2 -56v1m0 63v1m2 -68v1m0 34v2m0 4v1m0 17v1m0 1v1m0 1v1m2 -66v2m0 1v1m0 34v1m0 2v2m0 4v3m0 5v1m0 1v1m0 3v1m2 -62v1m0 1v1m0 40v1m0 6v1m0 1v4m2 -17v1m0 5v1m0 3v1m0 3v1m0 3v1m2 -20v1m0 4v2m0 3v1m0 1v1m0 2v1m0 4v1m2 -74v1m0 52v1m0 2v2m0 6v1m2 -67v2m0 65v1m0 2v1m0 3v1m0 1v2m2 -83v2m0 63v1m0 9v1m0 2v1m0 1v3m2 -80v1m0 1v1m0 1v1m0 34v3m0 2v3m0 4v1m2 -57v1m0 75v2m2 -10v3m0 1v2m0 3v1m2 -79v1m0 82v1m2 -85v1m0 6v2m0 38v1m0 4v1m0 4v1m0 2v2m0 6v1m2 -72v1m0 75v1m0 1v1m2 -35v1m0 14v1m0 3v5m0 1v1m0 1v1m0 2v1m4 -78v2m0 55v1m0 5v1m0 1v1m0 3v1m0 2v1m2 -74v1m0 70v1m0 1v1m2 -14v1m0 2v1m0 1v1m0 3v1m2 -74v2m0 57v2m0 6v1m0 1v1m2 -71v1m0 68v1m0 6v1m0 1v2m0 2v2m2 -86v1m0 58v1m0 11v1m0 3v1m0 5v1m2 -82v1m0 1v1m0 2v1m0 36v1m0 1v2m0 2v1m0 3v1m0 12v1m0 6v2m0 2v1m0 1v1m0 5v1m2 -88v1m0 74v1m0 1v3m2 -82v1m0 1v1m0 82v1m0 6v1m2 -96v1m0 70v1m0 1v1m0 4v3m0 1v1m0 2v1m0 2v2m2 -92v1m0 74v1m0 5v1m0 1v2m0 2v1m0 3v2m2 -94v1m0 85v1m2 -88v1m0 64v1m0 19v2m0 5v1m0 1v1m0 2v1m2 -106v3m0 95v4m2 1v1m2 -104v2m0 68v1m0 6v1m0 6v1m0 7v2m0 1v1m2 -99v1m0 92v1m2 -96v3m0 92v1m0 1v1m0 4v2m2 -106v1m0 97v1m0 3v1m2 -105v1m0 91v1m0 12v1m0 1v1m2 -110v2m0 84v1m0 3v1m0 11v2m0 1v1m0 3v1m2 -107v3m0 2v1m0 1v1m0 9v1m0 2v1m0 53v1m0 1v1m0 1v1m0 9v1m0 1v1m2 -91v1m0 4v1m0 74v1m0 2v1m0 3v2m0 5v2m0 2v1m0 8v1m2 -111v1m0 85v1m0 5v1m0 3v1m2 -94v1m0 94v1m0 8v1m0 1v1m2 -111v1m0 1v1m0 2v2m0 1v1m0 3v1m0 66v1m0 2v1m0 1v1m0 1v1m0 3v1m0 4v3m2 -95v2m0 81v1m0 10v1m0 4v1m0 4v1m2 -109v1m0 81v1m0 3v1m0 1v1m0 2v1m0 2v1m0 2v1m0 10v1m2 -108v1m0 77v1m0 1v1m0 2v1m0 2v2m0 5v2m2 8v1m0 2v1m0 2v1m2 -112v3m0 77v1m0 1v1m0 21v4m2 -11v1m0 1v1m0 4v1m2 -100v1m0 1v1m0 3v1m0 3v1m0 67v1m0 1v1m0 4v1m0 2v1m2 -95v1m0 1v1m0 94v1m0 3v2m0 3v1m0 2v1m2 -112v1m0 1v3m0 20v1m0 71v1m0 2v2m0 1v1m0 3v1m0 3v1m2 -114v1m0 2v2m0 1v2m0 2v1m0 80v1m0 4v1m0 2v1m0 3v1m0 8v1m2 -113v3m0 2v4m0 2v1m0 79v1m0 5v1m0 1v1m0 3v2m0 6v2m2 -116v7m0 1v1m0 91v1m0 1v3m0 1v1m2 -70v1m0 59v3m0 2v1m0 3v1m2 -112v1m0 98v1m0 4v1m0 8v1m2 -109v1m0 96v1m0 10v1m2 -116v1m0 1v1m0 3v1m0 5v1m0 7v1m0 18v1m0 61v1m0 3v1m0 4v1m0 1v2m0 2v1m0 5v1m2 -123v1m0 3v1m0 1v2m0 1v2m0 1v2m0 1v1m0 83v1m0 7v1m0 1v1m0 1v2m0 1v1m2 -116v1m0 2v2m0 2v2m0 85v1m0 9v1m0 5v2m0 4v1m2 -114v1m0 3v1m0 5v1m0 71v1m0 22v2m0 3v1m0 8v1m0 3v1m2 -124v2m0 1v5m0 2v1m0 2v1m0 86v1m0 2v1m2 -106v1m0 8v1m0 12v2m0 5v1m0 60v1m0 14v1m0 2v1m0 10v2m2 -121v1m0 1v3m0 1v1m0 2v1m0 80v1m0 2v1m0 10v1m0 6v1m0 1v3m2 -112v1m0 1v1m0 7v1m0 100v1m2 -114v1m0 1v1m0 9v1m0 77v2m0 1v1m0 2v1m0 6v1m0 1v1m0 1v1m0 1v1m0 1v1m0 1v1m2 -113v1m0 1v1m0 2v1m0 1v1m0 2v1m0 91v1m0 1v1m2 -106v4m0 4v1m0 4v2m0 78v1m0 1v1m0 2v1m0 11v1m2 -110v1m0 4v1m0 12v1m0 3v2m0 69v3m0 1v2m0 6v2m0 5v2m2 -113v2m0 87v1m0 2v2m0 14v1m0 1v1m0 1v1m2 -118v2m0 1v1m0 4v1m0 12v1m0 7v1m0 75v1m0 3v1m0 2v1m0 2v2m2 -114v1m0 3v2m0 7v1m0 79v1m0 9v1m0 1v1m0 2v1m0 2v1m0 2v1m0 2v2m2 -82v1m0 48v1m0 9v1m0 2v1m0 5v1m0 1v2m0 1v1m0 2v1m0 3v1m2 -125v2m0 119v1m0 2v1m2 -120v1m0 2v1m0 1v1m0 1v3m0 46v1m0 34v1m0 6v1m0 4v1m0 2v1m2 -110v4m0 87v1m0 7v3m0 4v1m0 3v1m0 2v1m2 -113v1m0 110v1m0 2v1m0 7v1m2 -122v1m2 -1v1m0 2v2m0 3v1m0 90v1m0 1v1m0 6v1m2 -109v1m0 94v1m0 9v2m0 1v2m0 2v1m0 3v1m2 -121v3m0 108v1m0 4v1m0 3v1m0 3v1m0 1v1m2 -125v1m0 1v2m0 1v4m0 3v1m0 10v1m0 92v1m0 7v2m2 -125v1m0 1v1m0 102v1m2 -108v1m0 1v3m0 1v1m0 2v1m0 6v4m0 73v1m0 7v1m0 6v1m0 3v4m2 -116v1m0 1v1m0 107v1m0 3v2m0 2v1m2 -119v4m0 112v1m0 6v1m2 -125v5m0 6v1m0 97v2m0 3v1m0 11v1m2 -127v1m0 108v1m2 -110v2m0 1v1m0 114v1m0 1v1m2 -121v5m0 3v1m0 85v1m0 2v1m0 13v1m0 2v1m0 1v1m2 -118v1m0 121v1m2 -119v2m0 13v2m0 1v1m0 10v1m0 37v1m0 6v2m0 18v2m0 8v1m0 1v2m0 1v2m0 5v1m2 -116v2m0 5v1m0 2v1m0 10v2m0 18v1m0 48v1m0 4v1m0 8v1m0 1v1m0 3v3m2 -116v1m0 1v2m0 24v1m0 2v1m0 71v3m0 3v1m0 2v4m0 1v1m0 1v1m2 -121v2m0 3v1m0 3v1m0 2v1m0 1v1m0 4v1m0 1v1m0 97v1m2 -119v5m0 7v1m0 62v2m0 41v2m0 6v1m2 -126v4m0 1v1m0 3v1m0 92v1m0 5v1m0 6v1m0 6v2m0 3v1m2 -127v1m0 1v1m0 17v1m0 77v2m0 7v1m0 6v1m0 7v1m2 -118v2m0 1v1m0 102v1m0 2v1m0 1v1m0 4v3m2 -119v3m0 16v1m0 3v1m0 75v1m0 6v2m0 2v1m2 -111v1m0 103v1m0 7v1m0 3v1m2 -117v2m0 1v1m0 1v1m0 1v2m0 1v2m0 5v1m0 71v1m0 10v2m0 1v1m0 15v1m2 -120v1m0 2v1m0 98v1m0 2v1m0 2v1m0 1v2m2 -109v1m0 5v1m0 102v1m0 7v1m2 -119v1m0 113v1m0 6v1m2 -123v2m0 113v1m0 2v1m2 -116v3m0 1v2m0 102v2m0 2v3m0 2v1m2 -118v2m0 101v1m0 2v1m0 2v1m0 4v1m0 1v1m0 4v1m2 -19v1m0 2v1m0 8v1m0 1v3m2 -115v1m0 103v1m0 7v1m0 2v1m2 -118v1m0 1v2m0 4v2m0 2v1m0 101v1m0 9v1m2 -125v2m0 2v2m0 2v1m0 84v1m0 2v1m0 1v1m0 1v2m0 12v1m0 5v1m2 -119v2m0 1v2m0 76v2m0 9v1m0 6v1m0 7v1m0 1v1m2 -109v1m0 1v1m0 104v1m0 1v1m0 2v1m2 -115v1m0 5v1m0 107v2m0 1v3m2 -122v3m0 2v1m0 42v1m0 55v1m0 2v1m0 3v1m2 -113v1m0 1v1m0 2v2m0 1v1m0 3v1m0 95v1m0 3v1m0 4v1m2 -116v1m0 3v3m0 86v1m0 12v1m0 4v3m0 1v1m0 1v1m0 3v1m2 -123v1m0 120v1m0 1v1m2 -124v3m2 -1v1m0 1v1m0 3v1m0 97v2m0 11v1m0 1v1m0 2v1m2 -128v2m0 2v1m0 4v1m0 2v1m0 8v1m0 98v1m0 4v1m0 2v1m0 2v1m2 -132v6m0 8v1m0 1v1m0 102v1m0 4v2m2 -125v2m0 3v1m0 1v1m0 2v1m0 1v1m0 106v2m0 1v1m2 -122v5m0 113v2m0 4v1m2 -125v2m0 1v2m0 1v1m0 1v1m0 6v1m0 2v2m0 103v1m0 1v2m0 2v1m2 -130v4m0 2v4m0 106v1m0 1v1m0 1v1m0 1v1m0 2v1m0 1v1m2 -12v2m0 5v1m0 1v4m2 -130v2m0 1v2m0 12v1m0 3v1m0 30v1m0 60v1m0 4v1m0 5v1m0 1v1m0 3v1m2 -132v1m0 2v1m0 128v1m0 2v1m2 -135v2m0 129v1m2 -134v1m0 5v1m0 2v1m0 119v2m0 3v1m0 2v2m2 -179v1m0 40v1m0 1v1m0 127v4m0 1v3m2 -135v1m0 124v1m2 -128v4m0 119v1m0 1v1m0 9v2m2 -135v1m0 4v1m0 108v1m0 6v1m0 1v1m0 1v1m0 2v1m2 -130v1m0 111v1m0 12v2m0 3v2m0 1v1m0 1v1m2 -137v2m0 137v1m2 -138v1m0 2v2m0 98v1m0 22v1m0 3v1m0 3v1m0 1v1m2 -135v1m0 1v1m0 131v3m2 -183v1m0 46v1m0 129v1m2 -132v1m0 3v1m0 128v1m2 -137v2m0 139v2m2 -134v2m0 31v1m0 76v2m0 4v3m0 5v1m0 1v1m2 -132v3m0 2v1m0 3v1m0 34v1m0 3v1m0 4v1m0 72v2m0 5v1m0 2v1m0 1v1m2 -186v1m0 47v1m0 123v1m0 8v1m0 3v2m2 -137v1m0 1v1m0 119v1m0 5v2m0 7v1m2 -132v1m0 127v1m0 3v1m2 -190v2m0 50v2m0 132v2m0 1v1m2 -3v1m2 -135v1m0 2v1m2 -2v2m0 129v1m2 -126v1m0 127v1m0 1v1m2 -137v1m0 130v1m0 9v1m0 1v1m2 -145v1m0 139v1m2 -140v1m0 143v1m2 -3v1m2 -139v1m0 129v1m0 7v3m2 -132v1m0 125v2m2 -135v1m0 2v1m0 132v1m0 3v1m2 -138v1m0 134v1m0 2v1m2 -136v1m0 126v1m0 1v2m0 3v2m0 1v1m2 -137v1m2 134v1m2 1v2m0 2v1m0 1v1m2 -11v1m0 3v1m0 1v1m2 -135v1m0 106v1m0 28v1m0 6v1m4 -21v1m0 6v1m0 1v1m0 3v1m0 3v1m2 -139v1m0 90v1m0 3v1m0 2v2m0 12v1m0 21v1m2 -134v2m0 93v1m0 23v2m0 4v1m2 -115v1m0 109v1m0 7v2m0 1v1m0 1v2m0 1v1m2 -134v1m0 127v1m2 -128v1m0 126v1m0 3v1m0 2v2m2 -135v1m0 125v1m0 3v1m2 -133v1m0 118v1m0 12v1m0 3v1m2 -7v1m0 3v1m0 1v1m2 -10v2m0 1v1m2 -22v1m0 15v2m0 8v1m2 -135v2m0 122v1m0 3v5m2 -12v1m0 7v1m0 2v4m2 -132v1m0 111v2m0 3v1m0 5v1m0 1v5m2 -128v1m0 118v1m0 4v1m4 0v2m2 -13v1m0 7v2m0 4v1m2 -122v2m0 113v1m0 3v1m2 -120v1m0 3v1m0 115v1m2 -115v1m0 99v1m0 5v2m0 2v1m2 -110v2m0 102v4m0 3v1m0 1v1m2 -111v1m0 1v1m0 92v1m0 5v2m0 5v1m2 -105v1m0 1v1m0 62v1m0 25v1m0 1v3m0 8v1m0 3v1m2 -109v1m0 101v2m0 4v1m2 -101v1m0 69v1m0 4v1m0 7v4m0 1v1m2 -5v1m0 5v1m0 6v1m0 1v1m2 -16v1m0 8v2m2 -94v1m0 6v1m0 2v1m2 -11v1m0 86v1m0 4v1m0 2v1m0 1v1m0 1v1m2 -15v1m0 1v1m0 1v3m0 6v1m2 -98v2m0 86v1m0 9v1m2 -96v1m0 2v1m0 1v1m0 48v1m0 2v1m0 30v4m0 1v1m2 -10v2m0 1v1m0 2v2m0 3v1m2 -89v1m0 4v2m0 68v1m0 3v2m0 2v1m0 3v2m2 -90v1m0 5v1m0 73v1m0 3v1m0 1v2m2 -87v1m2 81v2m0 2v3m2 -90v2m0 79v1m0 2v1m2 -78v1m0 5v1m0 2v1m0 51v2m0 3v1m0 1v1m0 3v2m2 -78v1m0 76v1m0 1v1m0 2v1m0 3v1m2 -88v1m0 76v1m0 9v1m2 -89v1m0 70v1m0 2v1m0 5v2m0 1v3m0 1v1m2 -86v1m0 84v1m2 -83v1m0 73v1m0 1v2m0 1v1m2 -86v2m0 15v1m0 61v1m2 -75v1m0 1v1m0 39v2m0 10v2m0 6v1m0 1v1m0 2v1m0 6v1m0 1v2m0 2v2m0 2v1m2 -87v3m0 1v1m0 15v1m0 54v1m0 5v1m0 1v1m0 1v1m2 -86v1m0 4v1m0 69v2m0 2v1m0 6v1m2 -89v3m2 -3v2m0 1v1m0 72v2m0 1v1m0 3v1m2 -79v2m0 2v1m2 -3v1m0 72v1m0 3v2m2 -83v1m0 72v1m0 2v2m2 -81v2m0 72v2m0 4v1m0 1v1m0 2v4m2 -89v2m0 67v1m0 5v3m2 4v1m0 5v1m2 -87v3m0 69v1m0 13v1m2 -83v3m0 2v1m0 73v1m0 1v2m2 -88v1m0 1v1m0 83v1m2 -87v3m0 80v4m2 -87v3m0 62v2m0 9v1m2 -11v1m0 2v1m0 2v1m0 3v1m0 1v1m0 3v1m0 4v1"/><path stroke="#edc76f" d="M79 262v2m0 58v1m0 3v2m0 6v1m2 -4v2m2 -17v1m0 4v4m0 5v2m0 4v1m2 -72v1m0 1v2m0 12v1m0 1v4m0 1v2m0 2v1m0 2v1m0 5v1m0 12v1m0 1v1m0 1v1m0 2v3m0 3v2m2 -66v1m0 1v1m0 14v1m0 39v1m0 5v1m0 6v1m0 1v1m2 -72v1m0 64v1m0 1v1m0 2v1m2 -72v1m0 64v2m2 -8v1m0 1v1m0 3v1m0 1v1m0 1v2m2 -43v1m0 7v1m0 1v1m0 7v1m0 4v1m0 1v1m0 14v2m2 -64v1m0 40v1m0 4v2m0 14v1m2 -68v2m0 38v1m0 6v1m0 6v1m0 3v1m0 1v1m2 -61v1m0 5v1m0 1v1m0 3v1m0 6v1m0 1v1m0 12v1m0 6v2m0 3v1m0 3v5m0 1v2m0 2v1m0 6v1m2 -67v1m0 32v1m0 2v1m0 9v1m0 7v2m0 2v1m2 3v1m0 1v2m0 4v1m2 -39v1m0 5v1m0 14v4m0 7v1m0 1v1m2 -23v3m0 2v1m0 7v1m0 1v2m2 -21v2m0 3v1m0 6v1m0 1v1m0 5v1m0 4v1m2 -63v1m0 33v1m0 1v1m0 1v1m0 8v1m0 4v1m0 3v1m2 -21v1m0 1v1m0 1v1m0 5v2m0 2v1m0 2v1m0 6v2m2 -61v1m0 45v2m0 3v1m0 7v3m0 4v2m2 -46v1m0 14v1m0 2v1m0 14v1m0 1v1m0 1v1m0 1v1m2 -6v1m0 4v1m0 1v1m2 -15v1m0 5v1m0 1v2m0 3v1m2 -65v1m0 12v1m0 4v1m0 6v3m0 4v1m0 10v1m0 5v1m0 2v1m0 7v1m0 1v1m0 1v1m2 -64v1m0 48v2m0 1v2m0 1v1m0 3v1m0 2v2m0 1v1m2 -65v3m0 5v1m0 8v2m0 1v1m0 26v1m0 4v4m0 6v1m0 1v1m0 2v1m2 -70v1m0 2v1m0 16v1m0 15v1m0 2v1m0 15v2m0 1v1m0 5v3m0 2v1m2 -67v1m0 56v1m2 -58v1m0 43v1m0 4v2m0 2v1m0 1v2m2 -46v1m0 13v1m0 1v4m0 4v1m0 15v1m0 4v2m2 -51v1m0 9v1m0 1v1m0 4v1m0 2v2m0 1v2m0 2v1m0 2v3m0 5v1m2 -12v1m0 5v1m0 15v1m0 5v3m0 1v1m2 -21v2m0 1v1m0 1v1m2 -28v1m0 19v1m0 14v1m0 2v1m0 1v1m0 1v1m2 -59v1m0 6v1m0 20v1m0 14v1m0 2v2m0 1v1m2 -51v1m0 48v1m0 1v1m0 2v1m0 1v2m0 1v1m2 -60v1m0 3v1m0 2v2m0 6v1m0 10v1m0 7v1m0 8v4m2 -45v1m0 2v1m0 1v2m0 7v1m0 3v1m0 3v1m0 1v1m0 1v1m0 2v1m0 5v1m0 5v1m0 2v1m0 8v1m0 3v1m2 -59v1m0 53v1m0 3v1m2 -18v1m0 6v1m2 -46v1m0 20v1m0 11v1m0 1v1m0 2v1m0 2v1m0 1v1m0 1v1m2 -43v1m0 37v1m0 1v1m0 1v1m2 -44v1m0 27v1m0 2v1m0 2v1m0 2v3m0 6v1m0 2v4m2 -11v1m0 2v2m0 5v1m2 -49v1m0 3v1m0 1v1m0 12v1m0 2v1m0 4v1m0 5v1m0 1v1m0 1v1m0 2v1m0 2v1m2 -41v2m0 14v1m0 7v1m0 8v1m0 4v1m0 2v2m0 1v2m2 -50v1m0 2v1m0 1v1m0 2v1m0 3v1m0 20v1m2 -33v3m0 2v1m0 2v1m0 1v2m0 2v2m0 1v3m0 1v3m0 5v1m0 2v1m2 -31v2m0 1v2m0 3v1m0 13v1m0 4v1m0 4v1m0 5v2m0 3v1m2 -44v1m0 2v1m0 1v1m0 4v1m0 3v1m0 6v1m0 3v1m0 3v1m0 2v1m0 2v1m0 1v1m0 2v1m2 -11v1m0 8v1m0 1v2m0 2v1m2 -49v2m0 4v1m0 14v1m2 -23v1m0 17v1m0 1v1m0 3v1m2 -27v1m0 2v1m0 6v1m0 5v1m0 8v1m0 2v1m0 5v1m0 6v1m2 -44v1m0 35v1m0 1v1m0 1v1m2 -42v2m0 16v1m0 1v1m0 1v1m0 4v2m0 6v1m0 1v1m0 3v1m2 -43v1m0 1v1m0 6v2m0 1v2m0 1v1m0 14v1m2 -10v1m0 1v1m0 1v1m2 -34v1m0 29v1m0 6v1m2 -47v1m0 3v1m0 24v1m0 6v1m0 8v1m0 1v1m2 -43v1m0 14v1m0 5v1m0 2v1m0 2v2m0 8v1m2 -51v1m0 13v1m0 13v1m0 4v1m0 3v1m0 13v1m0 1v2m2 -54v1m0 1v1m0 2v1m0 2v1m0 4v1m0 3v1m0 2v1m0 2v2m0 1v1m0 1v2m0 2v1m0 5v1m2 -41v1m0 49v1m0 1v2m0 1v1m0 1v2m2 -64v1m0 26v2m0 1v1m0 8v1m0 1v1m0 10v1m0 1v1m0 4v1m0 1v1m2 -55v1m0 5v1m0 4v1m0 9v1m0 3v1m0 3v2m0 18v2m2 -65v1m0 4v1m0 1v1m0 8v1m0 13v1m0 20v1m0 1v1m0 7v1m0 1v1m2 -69v1m0 51v1m0 3v1m2 -59v1m0 22v1m0 2v1m0 9v2m0 8v3m0 2v3m0 3v1m0 5v1m2 -28v1m0 6v1m0 6v2m0 4v1m0 2v1m2 -64v1m0 62v2m0 2v1m0 3v1m2 -77v1m0 1v1m0 55v2m0 4v2m0 3v2m0 3v2m0 1v1m2 -45v1m0 4v1m0 14v1m2 -57v1m0 61v1m0 7v2m2 -73v1m0 45v1m0 16v5m2 -12v2m0 3v1m0 2v2m0 14v2m2 -83v1m0 3v2m0 33v2m0 3v2m0 12v1m0 2v1m0 1v2m2 -68v1m0 69v1m0 3v1m2 -77v2m0 45v1m0 5v1m0 3v1m0 3v2m0 6v1m0 6v2m2 -78v1m0 72v1m0 3v2m2 -79v1m0 47v1m0 2v1m0 14v1m2 -69v1m0 52v1m0 9v1m0 7v1m0 1v2m0 1v1m0 1v1m0 2v1m2 -85v3m0 50v1m0 1v1m0 1v1m2 -58v4m0 1v1m0 2v1m0 53v1m0 8v1m2 -73v1m0 69v2m0 3v1m2 -6v1m0 3v2m0 4v1m2 -82v1m0 2v1m0 5v2m0 32v1m0 7v1m0 9v1m0 1v2m0 3v1m0 2v2m0 1v1m2 -80v1m0 66v1m0 11v1m0 4v1m2 -87v1m0 74v1m0 1v3m2 -82v2m0 47v1m0 8v1m0 5v1m0 8v1m0 5v1m0 2v1m2 -86v1m0 78v1m0 1v1m0 6v2m2 -91v1m0 82v2m0 7v2m2 -95v1m0 60v1m0 10v1m0 2v1m0 2v1m0 2v1m0 1v1m0 8v1m0 4v1m2 -10v1m2 -98v2m0 93v1m0 3v1m0 2v1m2 -101v1m0 10v1m0 53v1m0 5v3m0 3v1m0 2v2m0 1v1m0 4v1m0 5v2m2 -100v2m0 79v1m0 5v1m0 5v1m0 1v1m0 1v5m2 -84v1m0 11v1m0 2v1m0 39v1m0 1v1m0 1v1m0 3v1m0 1v2m0 2v2m0 6v1m0 2v1m0 3v1m2 -107v2m0 1v1m0 3v1m0 69v1m0 5v1m0 9v1m0 4v1m0 1v1m0 1v1m2 -105v1m0 97v1m0 4v1m2 -88v3m0 65v1m0 13v1m0 5v1m2 -96v1m0 1v1m0 4v1m0 6v1m0 48v2m0 1v1m0 5v1m0 9v1m2 -90v3m0 71v4m0 1v2m0 1v3m0 4v1m2 -93v2m0 80v1m0 2v1m0 1v2m0 4v1m0 1v2m0 2v1m2 -101v2m0 1v4m0 2v2m0 89v1m0 2v1m2 -103v1m0 7v1m0 2v1m0 61v1m0 4v1m0 1v1m0 3v1m0 6v1m0 3v1m2 -9v1m0 8v1m0 6v1m2 -107v4m0 71v1m0 6v1m0 1v1m0 3v2m0 2v1m0 2v1m0 10v1m2 -106v2m0 5v1m0 3v1m0 1v1m0 6v1m0 6v1m0 48v1m0 11v1m0 1v1m0 5v2m2 -99v1m0 1v1m0 4v1m0 69v2m0 7v1m0 4v1m0 3v1m0 2v1m2 -98v2m0 79v1m0 15v2m2 -102v2m0 13v1m0 73v1m0 5v2m0 1v1m0 1v1m2 -93v1m0 5v1m0 2v1m0 25v1m0 11v1m0 18v1m0 1v4m0 2v1m0 3v2m0 9v1m2 -100v1m0 1v1m0 1v1m0 3v1m0 82v6m0 3v2m0 6v1m2 -109v1m0 3v2m0 19v1m0 67v3m0 1v2m0 2v1m0 1v1m2 -105v1m0 2v1m0 3v1m0 1v1m0 15v1m0 56v2m0 1v1m0 2v1m0 2v2m0 2v1m0 3v1m0 8v2m2 -109v2m0 5v1m0 70v2m0 5v3m0 2v4m0 1v1m0 1v2m0 4v1m0 3v1m2 -107v1m0 10v1m0 6v1m0 57v1m0 8v1m0 3v4m0 1v1m2 -103v1m0 1v2m0 1v3m0 10v1m0 69v1m0 4v2m0 2v1m2 -98v1m0 1v1m0 1v1m0 6v1m0 84v1m0 1v2m0 4v1m0 1v1m0 1v1m2 -109v1m0 87v2m0 5v1m0 3v1m0 1v1m0 1v1m0 4v1m0 1v1m2 -114v1m0 1v1m0 1v4m0 2v1m0 1v1m0 1v1m0 3v1m0 9v1m0 6v1m0 4v2m0 16v1m0 32v1m0 4v1m0 4v1m0 1v1m0 7v1m2 -113v2m0 4v1m0 2v1m0 7v1m0 28v1m0 21v1m0 2v1m0 15v2m0 2v2m0 1v1m0 3v3m0 5v1m0 1v1m2 -106v1m0 2v4m0 2v2m0 30v1m0 47v2m0 1v5m0 2v1m0 7v3m2 -112v1m0 36v1m0 44v1m0 2v1m0 4v1m0 2v1m0 2v1m0 11v1m0 1v1m2 -104v1m0 3v1m0 1v4m0 3v1m0 66v1m0 21v1m2 -111v1m0 1v1m0 3v1m0 2v1m0 3v2m0 14v1m0 60v1m0 16v1m0 3v1m0 1v1m2 -111v1m0 1v2m0 7v1m0 2v1m0 3v1m0 70v2m0 3v1m0 2v2m2 -104v1m0 1v2m0 1v1m0 1v1m0 2v1m0 2v1m0 1v1m0 2v2m0 3v2m0 72v1m0 11v2m0 1v2m2 -114v1m0 2v1m0 1v3m0 2v2m0 1v1m0 1v1m0 3v1m0 64v1m0 3v2m0 4v1m0 9v1m0 3v1m2 -109v1m0 1v1m0 1v1m0 2v1m0 6v2m0 3v1m0 2v1m0 76v2m0 2v2m0 4v2m0 1v1m0 3v1m2 -110v1m0 1v1m0 7v1m0 1v1m0 31v1m0 27v1m0 8v1m0 4v2m0 1v1m0 4v1m0 3v2m0 1v3m0 5v1m2 -89v3m0 1v1m0 57v1m0 13v1m0 2v1m0 3v1m2 -110v2m0 2v2m0 2v2m0 60v1m0 12v1m0 4v1m0 7v1m0 2v2m0 2v1m0 1v1m0 2v2m2 -108v3m0 2v2m0 8v1m0 1v1m0 67v1m0 1v1m0 1v5m0 3v1m0 1v1m2 -101v3m0 7v1m0 80v1m0 1v2m0 6v1m0 1v1m0 1v1m0 2v1m0 2v1m2 -117v1m0 1v1m0 4v1m0 1v1m0 15v1m0 7v1m0 42v1m0 14v1m0 3v1m0 1v1m0 1v1m0 1v1m0 4v2m0 2v1m0 2v1m2 -115v1m0 1v1m0 104v1m0 8v1m0 1v1m2 -114v1m0 1v1m0 1v1m0 4v2m0 40v1m0 1v1m0 37v1m0 1v3m0 6v1m0 2v1m2 -106v1m0 11v1m0 75v3m0 1v2m0 3v1m0 1v1m0 2v1m0 1v1m0 1v1m0 5v1m2 -116v2m0 1v1m0 1v1m0 105v1m0 2v1m0 5v1m2 -120v1m0 1v1m0 110v1m2 -114v1m0 3v1m0 3v1m0 1v1m0 2v1m0 75v1m0 7v1m0 1v1m0 10v2m2 -112v1m0 14v1m0 73v1m0 10v2m0 1v1m0 6v1m0 8v1m2 -122v3m0 93v1m0 9v2m0 2v1m0 5v1m0 1v1m2 -119v1m0 8v2m0 1v1m0 5v2m0 1v1m0 4v1m0 75v1m0 5v1m0 5v1m0 1v1m0 1v1m2 -115v2m0 1v1m0 8v2m0 11v1m0 68v1m0 2v2m0 1v1m0 1v1m2 -98v2m0 2v1m0 5v1m0 73v1m0 1v4m0 1v4m2 -103v2m0 1v1m0 101v1m0 2v3m0 5v2m2 -117v1m0 1v1m0 3v2m0 1v1m0 96v1m0 2v1m0 11v1m2 -120v1m0 2v1m0 2v1m0 8v3m0 48v1m0 22v2m0 2v1m0 5v1m0 1v1m0 3v1m0 2v3m2 -116v2m0 3v1m0 66v1m0 28v1m0 6v1m0 4v2m2 -113v2m0 1v2m0 112v1m2 -117v1m0 1v1m0 2v1m0 84v2m0 2v1m0 5v1m0 3v1m0 3v1m0 1v1m2 -118v1m0 1v2m0 109v1m0 6v1m0 5v1m2 -120v1m0 1v3m0 1v1m0 12v2m0 8v3m0 29v1m0 2v1m0 3v1m0 2v1m0 7v2m0 3v2m0 4v1m0 7v3m0 2v1m2 -107v2m0 3v1m0 1v2m0 2v1m0 2v1m0 1v2m0 2v1m0 10v1m0 8v1m0 3v1m0 2v2m0 2v1m0 36v1m0 4v1m0 1v1m0 2v1m0 1v3m0 1v2m0 1v1m0 1v1m0 1v1m0 3v2m2 -117v1m0 2v1m0 2v1m0 9v2m0 14v1m0 62v1m0 1v1m0 1v3m0 3v3m0 1v1m2 -110v2m0 3v1m0 2v1m0 4v1m0 1v1m0 8v1m0 2v2m0 75v1m0 10v2m0 2v1m0 3v1m2 -118v1m0 1v1m0 6v1m0 77v1m0 8v1m0 12v2m2 -111v3m0 1v1m0 12v1m0 72v1m0 1v2m0 7v1m0 3v1m0 1v2m0 1v1m0 1v1m0 6v2m2 -125v1m0 2v2m0 2v2m0 5v1m0 3v1m0 80v1m0 2v1m0 2v1m0 10v1m2 -109v2m0 1v1m0 4v1m0 10v1m0 5v1m0 77v2m0 1v1m0 1v1m2 -110v3m0 1v1m0 1v1m0 5v1m0 2v1m0 6v1m0 1v1m0 1v1m0 59v2m0 9v1m0 1v1m0 1v2m0 2v2m0 2v2m2 -112v2m0 1v1m0 1v1m0 81v2m0 1v1m0 2v3m0 5v1m0 3v4m2 -109v1m0 1v1m0 1v1m0 2v1m0 3v3m0 3v4m0 64v1m0 3v1m0 7v1m0 2v1m0 2v7m0 1v1m0 3v2m2 -118v2m0 6v1m0 87v2m0 10v1m0 7v2m2 -117v1m0 1v1m0 2v2m0 2v1m0 91v1m0 5v1m0 3v1m0 8v1m2 -120v1m0 107v2m0 4v3m0 1v1m0 2v1m2 -122v1m0 1v2m0 1v2m0 84v1m2 -88v1m0 2v4m0 5v2m0 33v1m0 53v1m0 1v1m0 8v1m2 -114v1m0 1v1m0 11v1m0 83v2m2 -102v1m0 1v4m0 87v1m0 6v3m0 1v1m0 2v2m0 5v1m2 -109v4m0 2v1m0 5v1m0 80v1m0 13v2m0 1v1m0 2v1m2 -113v2m0 1v1m0 2v1m0 98v1m0 7v1m2 -112v2m0 1v1m0 2v1m0 3v1m0 2v1m0 1v1m0 72v1m0 2v1m0 4v2m0 2v1m0 3v1m0 6v2m2 -115v1m0 5v2m0 70v1m0 3v1m0 2v1m0 5v2m0 6v1m0 6v1m0 1v3m0 1v1m2 -113v1m0 3v2m0 79v1m0 2v1m0 1v1m0 10v1m0 7v2m2 -111v2m2 -4v1m0 5v3m0 2v1m0 1v1m0 2v1m0 23v1m0 15v2m0 42v1m0 8v5m2 -114v1m0 2v1m0 1v3m0 2v2m0 14v2m0 58v1m0 4v1m0 5v1m0 2v2m0 7v2m2 -111v2m0 5v1m0 10v3m0 7v1m0 58v1m0 4v1m0 14v2m2 -113v1m0 1v2m0 2v2m0 110v1m0 2v1m0 1v1m2 -124v1m0 3v1m0 4v1m0 107v1m0 2v2m0 1v1m2 -117v1m0 3v3m0 37v2m0 1v1m0 2v2m0 1v1m0 2v1m0 37v1m0 2v1m0 7v2m0 1v1m0 3v1m0 3v1m2 -118v1m0 13v1m0 1v1m0 76v1m0 14v1m0 4v2m0 1v1m0 1v1m2 -120v4m0 4v1m0 16v1m0 3v3m0 3v3m0 62v1m0 6v1m0 1v2m0 3v2m2 -120v2m0 4v1m0 2v1m0 1v1m0 4v1m0 87v1m0 10v2m0 2v1m0 6v1m2 -122v1m0 8v1m0 100v1m0 3v2m0 1v1m2 -114v2m0 4v1m0 3v4m0 18v1m0 6v1m0 70v1m0 3v1m2 -120v1m0 9v1m0 5v1m0 91v1m0 1v1m0 1v1m0 1v1m0 1v1m2 -121v4m0 1v1m0 106v1m0 6v3m0 1v1m2 -124v1m0 2v3m0 1v2m0 4v1m0 3v1m0 2v1m0 64v1m0 24v1m0 3v2m0 5v1m0 1v1m2 -125v1m0 1v1m0 114v1m0 13v1m2 -129v1m0 122v2m0 1v1m0 1v1m2 -134v1m0 1v2m0 3v1m0 2v1m0 2v4m0 1v4m0 1v1m0 101v1m0 5v2m0 2v1m2 -135v1m0 1v1m0 1v1m0 8v1m0 105v1m0 7v1m2 -125v4m0 91v1m0 20v1m0 4v1m0 3v1m0 1v2m2 -127v2m0 125v1m2 -132v1m0 1v1m0 1v2m0 4v1m0 4v1m0 6v1m0 6v1m0 87v2m0 4v1m0 3v2m2 -127v1m0 3v1m0 75v2m0 33v1m0 5v1m0 5v1m0 4v1m2 -10v1m0 5v1m0 3v3m2 -136v2m0 93v1m0 1v1m0 2v1m0 8v1m0 12v3m0 2v2m2 -125v1m0 5v1m0 122v2m2 -132v1m0 6v1m0 105v1m0 16v2m0 1v1m2 -135v1m0 16v1m0 62v1m0 41v1m0 6v1m0 1v1m0 1v3m2 -133v1m0 5v1m0 121v1m0 4v1m0 2v1m2 -136v1m0 2v2m0 1v1m0 29v1m0 13v1m0 54v2m0 1v1m0 1v1m0 5v1m0 4v1m2 -123v1m0 2v2m0 32v1m0 6v1m0 1v2m0 78v1m0 7v1m2 -136v2m0 122v2m0 4v2m0 2v1m2 -136v2m0 42v1m0 30v1m0 46v1m0 2v2m0 2v1m0 2v1m0 1v1m2 -133v1m0 135v1m2 -133v1m0 1v1m0 125v3m0 2v1m0 1v1m2 -141v3m0 135v3m2 -137v1m0 2v1m0 1v1m0 3v1m0 114v1m2 -125v1m0 2v2m0 3v2m0 113v1m0 3v1m0 2v1m0 3v3m2 -133v1m0 1v1m0 111v1m0 11v2m0 2v1m2 -133v2m0 122v2m0 5v1m0 2v1m0 6v1m2 -12v1m0 4v1m2 -134v1m0 2v1m0 133v4m2 -143v1m0 116v1m0 12v2m0 1v1m0 8v2m2 -140v1m0 3v3m0 123v1m2 -132v3m0 17v1m0 1v1m0 3v1m0 103v1m0 1v1m0 4v1m2 -131v1m0 118v4m0 1v1m0 3v2m2 -131v2m0 133v1m2 -133v1m0 13v1m0 102v2m0 1v1m0 2v1m2 -117v1m0 12v2m0 105v1m0 2v3m0 3v1m2 -4v1m0 2v1m0 1v1m2 -140v1m0 139v1m2 -135v2m0 1v1m0 119v1m0 1v1m0 3v2m2 -13v1m0 14v1m0 1v1m0 1v1m2 -136v1m0 131v1m0 1v2m0 1v2m0 1v1m2 -140v5m0 1v1m0 115v1m0 1v2m0 4v1m0 1v1m0 2v2m2 -135v2m0 1v2m0 63v1m0 11v3m0 4v1m0 3v1m0 7v1m0 3v1m0 17v1m0 3v2m0 1v1m0 1v1m2 -131v1m0 1v1m0 86v1m0 4v1m0 7v1m0 8v1m0 7v2m0 3v1m2 -112v1m0 44v1m0 3v2m0 1v1m0 57v1m2 -123v1m0 95v1m0 29v1m2 -124v3m0 2v2m0 52v1m0 31v1m0 30v4m0 1v1m0 1v1m0 2v1m2 -132v1m0 4v1m0 109v1m0 8v1m0 2v1m2 -130v1m0 6v1m0 114v1m0 1v1m0 1v2m0 2v1m2 -13v1m0 4v1m0 2v3m0 1v1m2 -23v1m0 1v1m0 2v3m0 4v1m0 2v1m2 -123v2m0 110v1m0 8v1m0 9v1m2 -131v3m0 58v1m0 5v1m0 45v1m0 1v1m0 1v1m0 2v1m0 2v1m2 -124v3m0 119v1m0 3v1m2 -124v1m0 112v1m2 -111v1m0 77v1m0 30v1m0 3v1m0 5v1m2 -121v1m0 122v3m2 -24v1m0 10v2m0 4v1m0 1v2m0 5v1m2 -124v1m0 113v1m2 -111v1m0 103v1m0 2v1m0 2v1m0 2v1m2 -116v3m0 1v1m0 24v1m0 75v1m0 11v2m0 1v1m2 -22v1m0 4v1m0 1v2m0 5v2m2 -10v2m0 2v1m2 -100v1m0 1v1m0 87v1m0 18v1m2 -106v1m0 48v1m0 11v1m0 3v2m0 1v1m0 1v1m0 8v1m0 8v2m0 1v1m0 4v2m0 2v1m2 -101v1m0 70v1m2 -67v2m0 9v1m0 64v1m0 4v3m0 5v1m0 1v2m0 6v1m2 -10v2m0 4v1m2 -96v1m0 79v1m0 10v2m2 -92v1m0 72v2m0 13v1m0 2v4m2 -10v1m0 1v1m0 1v1m0 2v1m0 2v1m2 -93v2m0 64v1m0 4v1m0 10v1m0 12v1m2 -28v1m0 6v1m0 8v1m0 10v2m2 -43v1m0 3v1m0 28v3m0 4v1m2 -90v1m0 1v1m0 1v1m0 75v1m0 2v1m0 1v1m2 -81v4m0 58v1m0 3v1m0 4v1m0 3v3m2 -76v2m0 3v1m0 66v2m0 5v1m2 -82v1m0 61v1m0 8v1m0 11v2m0 1v1m2 -86v5m2 -6v1m0 71v2m0 1v2m0 1v1m2 -76v1m0 8v1m0 4v1m0 8v1m0 15v1m0 10v1m0 6v1m0 1v1m0 5v3m0 3v1m2 -73v2m0 67v1m0 2v1m0 2v1m2 -77v3m0 69v1m0 1v2m0 6v2m2 -87v1m0 2v1m0 4v1m0 60v2m0 2v2m0 1v3m0 10v1m2 -88v1m0 1v2m0 76v2m0 1v1m0 1v1m0 1v1m2 -82v2m0 63v2m0 3v1m0 2v1m2 -79v1m0 2v5m0 1v2m0 60v2m0 1v1m2 -36v1m0 1v3m0 4v1m0 6v1m0 5v1m0 3v1m0 5v3m0 1v1m0 5v1m0 2v2m2 -83v1m0 1v1m0 60v1m0 4v1m0 6v1m0 5v1m2 -84v2m0 1v1m0 1v1m0 2v1m0 60v1m0 2v1m2 11v1m2 -86v1m0 18v1m0 2v1m0 20v1m0 14v1m0 1v1m0 15v1m0 2v1m0 3v1m2 -74v1m0 61v1m0 1v1m0 3v1m0 5v3m2 -86v2m0 9v2m0 4v1m0 40v1m0 7v1m0 6v2m0 1v1m2 -78v1m0 1v1m0 2v1m0 1v1m0 62v2m0 1v1m0 5v1m0 1v1m2 -82v4m0 1v1m0 5v1m0 47v1m0 5v1m0 1v1m0 2v1m0 4v1m0 5v2m2 -83v1m0 1v2m0 16v1m0 45v1m0 4v1m0 12v1m2 -85v1m0 1v1m0 4v2m0 2v1m0 32v1m0 24v1m0 11v2m0 2v1m2 -83v1m0 4v1m0 49v1m0 2v1m0 7v3m0 1v3m0 2v1m2 -72v1m0 2v2m0 1v1m0 56v1m0 8v1m0 1v1m0 2v1m2 -83v1m0 5v3m0 24v1m0 37v1m2 -72v1m0 8v1m0 52v1m0 5v1m2 -69v1m0 11v1m0 42v1m0 9v1m0 3v1m0 1v1m0 2v3m0 2v1m0 4v1m2 -87v1m0 63v1m0 1v1m0 2v1m0 4v1m0 1v1m0 1v2"/><path stroke="#ff9f54" d="M79 264v1m0 42v1m0 3v1m0 4v1m0 2v1m0 1v1m0 8v1m0 2v1m0 1v2m2 -76v2m0 44v1m0 2v1m0 13v2m0 2v1m0 4v1m0 1v1m2 -73v3m0 5v1m0 42v2m0 1v1m0 2v1m0 6v1m0 5v2m2 -71v1m0 1v1m0 2v1m0 1v1m0 5v3m0 2v1m0 4v1m0 3v1m0 1v2m0 2v1m0 5v1m0 1v1m0 18v2m2 -58v2m0 14v2m0 3v2m0 14v1m0 8v2m0 7v3m0 1v2m2 -64v1m0 54v1m0 5v1m0 6v1m0 1v1m2 -72v1m0 35v1m0 1v1m0 8v1m0 2v2m0 1v1m0 1v8m0 3v1m2 -67v1m0 1v1m0 8v1m0 2v1m0 23v1m0 8v1m0 2v1m0 6v1m0 4v1m0 2v1m2 -60v3m0 5v2m0 13v2m0 2v1m0 2v1m0 1v2m0 4v1m2 -38v1m0 7v1m0 6v1m0 2v1m0 2v1m0 1v1m0 4v2m0 1v2m0 2v3m2 -42v1m0 4v1m0 3v1m0 2v1m0 14v2m0 3v1m0 1v1m0 1v1m0 2v2m0 1v2m0 4v3m0 1v2m2 -55v2m0 1v1m0 1v1m0 5v2m0 3v1m0 1v1m0 16v4m0 2v2m0 10v1m0 9v2m2 -67v1m0 14v2m0 23v1m0 1v1m0 8v1m0 12v3m0 1v1m2 -71v1m0 17v1m0 38v2m0 1v1m0 3v1m0 4v3m0 2v1m2 -39v1m0 1v1m0 3v3m0 1v2m0 4v1m0 8v1m2 -8v2m0 3v1m0 1v1m0 2v1m2 -29v1m0 3v3m0 4v1m0 1v1m0 2v3m0 1v1m0 5v1m2 -55v1m0 9v2m0 2v2m0 1v2m0 1v3m0 1v1m0 3v1m0 2v1m0 1v1m0 4v2m0 1v1m0 6v1m0 3v2m2 -14v1m0 6v1m0 9v1m0 5v1m0 1v1m2 -30v1m0 2v1m0 1v1m0 2v1m0 7v1m2 -35v1m0 10v1m0 5v1m0 4v1m0 5v1m0 5v1m0 2v1m0 3v1m2 -59v1m0 42v1m0 5v2m0 1v1m0 3v2m0 2v1m2 -62v1m0 45v1m0 2v2m0 2v1m2 -54v1m0 11v2m0 3v1m0 1v1m0 12v1m0 1v2m0 1v1m0 6v1m0 5v2m0 1v1m2 -44v1m0 3v1m0 1v1m0 4v1m0 13v1m0 4v1m0 3v1m0 1v1m0 2v1m0 4v1m0 3v2m0 6v1m2 -65v1m0 7v1m0 3v1m0 3v1m0 26v1m0 3v1m2 -49v2m0 3v3m0 4v1m0 1v1m0 2v1m0 8v1m0 2v1m0 3v2m0 3v1m0 7v1m0 1v1m0 4v1m0 5v1m2 -31v1m0 16v1m0 1v2m0 1v1m0 2v2m0 1v1m0 7v1m2 -39v1m0 1v1m0 4v1m0 1v1m0 1v1m0 1v1m0 4v2m0 3v2m0 1v1m0 2v1m0 1v1m0 4v1m2 -48v1m0 1v1m0 12v2m0 10v2m0 6v1m0 1v2m2 -45v1m0 2v1m0 1v1m0 15v2m0 6v1m2 -13v1m0 2v3m0 1v1m0 1v1m0 1v1m0 4v1m0 1v3m0 1v1m0 2v1m0 3v1m0 2v2m2 -31v1m0 3v1m0 4v1m0 4v1m0 6v2m2 -34v1m0 2v1m0 1v1m0 1v1m0 3v5m0 1v1m0 1v1m0 1v1m0 3v2m0 11v1m0 1v1m0 2v1m2 -55v1m0 2v3m0 1v1m0 3v1m0 3v1m0 14v1m0 4v4m0 1v2m0 8v1m2 -19v1m0 4v1m0 8v1m0 4v1m0 4v1m2 -58v2m0 7v1m0 3v1m0 1v2m0 6v1m0 6v3m0 3v2m0 2v1m2 -39v1m0 10v2m0 5v1m0 1v1m0 1v1m0 16v1m0 6v3m0 6v1m2 -56v1m0 35v2m0 2v1m0 1v2m0 7v1m0 3v1m2 -53v2m0 2v1m0 23v1m0 24v1m2 -30v1m0 3v1m0 5v1m0 10v3m2 -45v1m0 2v1m0 5v1m0 5v1m0 4v1m0 2v1m0 1v1m0 2v1m0 2v2m0 9v1m2 -45v1m0 1v1m0 19v2m0 1v1m0 8v1m0 4v1m0 2v1m0 1v1m0 1v2m2 -44v1m0 14v1m0 2v1m0 2v1m0 1v1m0 2v1m0 1v2m0 2v1m0 1v1m0 3v1m2 -39v1m0 10v5m0 1v1m0 1v2m0 1v1m2 -23v1m0 20v3m0 3v2m0 2v3m0 2v1m2 -37v1m0 8v1m2 -12v1m0 7v1m0 4v1m2 -6v2m0 7v2m0 2v1m0 2v1m0 6v1m0 1v1m0 3v4m0 3v1m2 -36v1m0 5v2m0 1v6m0 7v1m0 4v1m2 -39v1m0 22v1m0 2v1m0 3v1m0 1v1m0 1v1m0 2v2m0 1v2m0 1v1m0 1v1m0 3v1m0 1v1m2 -48v1m0 2v1m0 1v1m0 1v1m0 1v3m0 1v1m0 2v2m0 5v1m2 -26v3m0 1v2m0 7v1m0 1v2m0 3v1m0 4v1m2 -30v1m0 1v1m0 2v1m0 1v2m0 3v1m0 2v2m0 1v1m0 9v1m2 -2v1m0 8v1m2 -41v1m0 10v2m0 15v1m0 2v3m0 2v1m0 5v1m2 -43v1m0 5v3m0 3v1m0 4v1m0 1v1m0 1v1m0 1v1m0 1v1m0 1v2m2 -28v1m0 8v1m0 4v1m0 7v1m2 -30v1m0 18v2m0 1v2m0 2v1m0 1v1m0 3v1m2 -42v3m0 1v1m0 1v1m0 1v1m0 14v1m0 3v1m0 2v3m0 4v1m0 2v1m0 1v1m0 4v2m0 2v1m2 -53v1m0 1v1m0 1v1m0 23v1m0 2v1m0 3v1m0 1v1m2 -45v1m0 4v2m0 5v1m0 7v4m0 4v1m0 4v1m0 1v1m0 2v1m0 4v1m0 5v1m2 -43v1m0 2v1m0 1v1m0 1v1m0 10v1m0 4v1m0 2v1m0 1v1m0 1v1m2 -42v2m0 1v1m0 34v1m0 7v1m0 6v1m0 2v1m0 1v1m2 -60v1m0 18v1m0 10v2m0 2v1m0 1v1m0 6v1m0 5v1m2 -51v2m0 16v1m0 3v1m0 5v1m0 3v1m0 9v1m2 -124v1m0 75v1m0 4v1m0 5v1m0 7v1m0 19v3m0 3v3m0 1v1m0 11v1m2 -69v2m0 1v1m0 4v1m0 1v2m0 8v1m0 19v1m0 3v1m0 3v1m0 3v1m0 1v1m0 3v1m2 -61v1m0 1v1m0 28v2m0 4v1m0 2v1m2 -42v1m0 2v1m0 25v1m0 1v3m0 1v1m0 1v1m0 3v1m0 4v3m0 8v2m2 -55v1m0 50v1m0 9v1m2 -74v1m0 24v2m0 22v1m0 2v5m0 4v1m0 4v1m0 4v1m2 -69v1m0 5v1m0 12v1m0 3v2m0 2v2m0 2v3m0 1v1m2 15v1m0 1v1m0 3v1m0 1v1m0 1v2m2 -69v1m0 46v1m0 1v1m0 2v1m0 1v4m0 1v1m0 12v1m2 -74v2m0 3v1m0 51v2m0 7v1m0 8v4m2 -80v1m0 30v1m0 1v1m0 2v2m0 2v2m0 4v2m0 3v1m2 -55v2m0 55v2m0 5v1m0 2v2m0 1v1m0 1v1m0 2v1m2 -80v1m0 2v2m0 33v1m0 3v1m0 4v1m0 1v1m0 3v1m0 1v1m0 1v1m0 6v1m0 7v1m0 6v1m2 -78v1m0 6v1m0 30v1m0 1v1m0 8v1m0 15v1m0 1v1m0 3v1m0 1v3m2 -76v1m0 1v1m0 37v1m0 8v1m0 9v1m0 1v1m2 -64v1m0 3v1m0 51v1m0 4v1m0 5v1m0 10v2m0 1v1m2 -83v1m0 4v1m0 47v1m0 1v4m2 -56v2m0 33v1m0 18v1m2 -63v1m0 3v1m0 32v1m0 18v2m0 1v4m0 1v1m0 4v2m0 3v1m2 -77v2m0 1v2m0 1v1m0 39v1m0 4v1m0 1v1m0 2v2m0 2v1m0 1v3m0 7v1m0 2v2m2 -70v2m0 8v3m0 18v3m0 1v1m0 9v1m0 3v2m0 1v1m0 1v1m2 -64v1m0 50v2m0 3v1m0 1v2m0 1v1m0 5v2m2 -70v1m0 1v1m0 16v1m0 32v1m0 7v1m0 2v1m0 2v1m0 7v1m0 3v1m2 -84v1m0 5v2m0 2v1m0 46v2m0 1v2m0 2v1m0 1v1m0 1v2m0 1v1m2 -73v1m0 2v1m0 4v1m0 55v2m0 9v1m2 -77v2m0 49v1m0 22v2m0 4v1m0 4v1m0 1v1m0 2v1m2 -92v1m0 1v1m0 5v1m0 37v1m0 4v7m0 4v1m0 2v1m0 2v2m0 16v1m2 -94v1m0 4v4m0 49v1m0 24v1m0 5v1m0 1v1m2 -93v2m0 9v1m0 72v1m0 5v1m0 7v2m2 -99v1m0 11v1m0 26v1m0 17v3m0 3v1m0 1v2m0 2v1m0 3v1m0 4v1m0 4v2m0 3v1m2 -92v1m0 74v1m0 5v1m0 5v1m0 4v1m2 -95v1m0 3v1m0 12v1m0 2v1m0 8v1m0 36v2m0 10v3m0 1v1m0 3v1m0 10v1m2 -100v1m0 1v1m0 3v1m0 25v1m0 45v1m0 1v1m0 4v1m0 1v2m0 5v1m0 2v1m2 -99v1m0 4v2m0 70v1m0 6v3m0 5v1m0 3v1m0 2v1m2 -99v1m0 1v1m0 13v1m0 26v1m0 32v1m0 4v2m0 7v1m2 -87v1m0 1v1m0 7v1m0 8v1m0 7v2m0 1v1m0 2v3m0 5v1m0 2v1m0 16v2m0 6v1m0 1v1m2 -79v1m0 5v3m0 1v1m0 8v1m0 2v1m0 1v1m0 12v1m0 31v1m0 1v1m0 1v2m2 -78v1m0 3v1m0 3v2m0 68v1m0 2v1m0 2v1m0 2v1m2 -81v2m0 2v2m0 69v2m0 5v3m0 1v1m0 1v1m0 6v1m2 -98v1m0 1v2m0 2v1m0 15v1m0 17v1m0 2v1m0 2v1m0 11v1m0 5v2m0 2v1m0 12v2m0 3v1m2 -89v3m0 3v2m0 1v1m0 67v2m0 10v1m0 1v1m0 1v1m2 -95v1m0 5v1m0 1v1m0 1v1m0 6v1m0 42v1m0 8v1m0 3v2m0 1v1m0 10v1m2 -89v1m0 1v1m0 1v1m0 1v2m0 9v1m0 4v2m0 3v1m0 21v1m0 20v1m0 5v1m0 2v1m0 1v2m0 2v1m0 1v1m0 1v1m0 3v1m2 -96v1m0 1v4m0 1v1m0 4v3m0 4v1m0 52v1m0 5v2m0 11v2m0 2v2m2 -95v2m0 25v1m0 43v1m0 8v1m0 2v2m0 5v1m2 -94v3m0 1v2m0 2v1m0 73v2m0 5v2m2 -84v1m0 2v1m0 3v1m0 6v1m0 2v1m0 13v3m0 1v2m0 7v2m0 3v1m0 5v1m0 10v1m0 5v1m0 6v1m2 -86v3m0 4v3m0 42v1m0 31v2m0 6v1m0 8v1m2 -101v3m0 24v2m0 9v1m0 12v1m0 25v1m0 6v2m2 -82v2m0 6v2m0 31v2m0 4v1m0 20v3m0 4v2m0 2v1m0 2v1m0 4v1m0 3v3m2 -98v1m0 2v4m0 5v2m0 29v1m0 2v1m0 22v1m0 6v2m0 5v1m2 -87v1m0 7v1m0 26v1m0 36v2m0 10v3m2 -93v1m0 3v1m0 2v1m0 2v1m0 4v1m0 25v1m0 28v1m0 3v1m0 4v1m0 6v2m2 -89v1m0 1v1m0 1v1m0 5v1m0 8v1m0 65v1m0 5v1m0 6v2m0 2v1m2 -104v1m0 21v1m0 67v3m0 1v1m0 3v1m0 1v1m0 3v1m2 -97v1m0 2v1m0 2v1m0 22v2m0 6v1m0 4v1m0 3v2m0 10v1m0 7v1m0 7v1m0 2v1m0 2v1m0 5v2m2 -99v1m0 8v1m0 1v2m0 3v1m0 2v1m0 6v1m0 11v1m0 5v1m0 6v1m0 4v1m0 7v1m0 1v1m0 19v2m0 5v1m0 4v3m2 -93v1m0 10v1m0 18v2m0 2v1m0 1v1m0 41v2m2 -88v1m0 2v4m0 2v2m0 3v2m0 1v1m0 3v1m0 17v1m0 36v1m0 7v2m0 1v1m0 1v2m0 1v2m0 6v1m0 3v2m2 -98v1m0 8v1m0 3v1m0 1v2m0 8v1m0 8v1m0 4v1m0 2v1m0 29v1m0 2v1m0 3v2m0 6v1m0 3v1m0 1v1m2 -102v1m0 4v1m0 1v1m0 4v3m0 1v1m0 4v1m0 1v1m0 24v1m0 24v1m0 2v2m0 10v1m0 3v1m0 1v1m0 3v2m0 2v1m0 2v1m0 5v1m2 -102v1m0 2v1m0 2v2m0 2v1m0 1v1m0 33v1m0 16v1m0 9v1m0 7v1m2 -89v2m0 1v2m0 3v2m0 3v2m0 2v1m0 2v2m0 55v1m0 2v1m0 1v2m0 1v1m0 1v1m0 10v1m0 1v1m0 2v1m2 -104v1m0 3v1m0 17v1m0 1v1m0 52v1m0 4v1m2 -85v1m0 2v1m0 1v1m0 8v2m0 1v1m0 73v2m0 3v1m0 5v1m2 -103v1m0 1v1m0 4v1m0 6v1m0 1v2m0 1v2m0 53v1m0 11v1m0 9v1m0 8v1m2 -88v1m0 2v1m0 3v1m0 15v1m0 1v1m0 17v1m0 10v1m0 14v1m0 5v1m0 5v2m0 3v1m0 1v1m2 -96v1m0 2v1m0 31v1m0 17v1m0 2v1m0 14v2m0 2v1m0 1v2m0 3v2m0 3v1m0 1v1m0 1v1m2 -94v1m0 8v1m0 1v2m0 2v1m0 8v2m0 37v2m0 8v1m0 1v1m0 7v2m2 -92v1m0 1v1m0 3v1m0 67v1m0 5v2m0 1v1m0 1v1m0 4v1m0 3v1m2 -101v2m0 2v1m0 5v1m0 2v1m0 2v1m0 6v2m0 10v2m0 9v1m0 23v1m0 9v1m0 2v1m0 4v1m0 1v1m0 3v1m0 3v1m0 1v2m0 10v1m2 -115v1m0 2v1m0 19v1m0 74v2m0 7v2m0 1v3m2 -103v1m0 3v1m0 1v1m0 2v1m0 21v1m0 10v1m0 1v1m0 2v1m0 11v1m0 18v1m0 1v1m0 1v1m2 -90v1m0 1v1m0 1v1m0 1v2m0 5v1m0 6v2m0 39v1m0 7v1m0 7v1m0 8v1m2 -87v1m0 12v1m0 4v1m0 29v1m0 17v1m0 27v1m0 2v1m0 1v1m0 8v1m0 2v1m2 -112v1m0 94v1m0 1v1m0 1v1m0 1v2m0 3v1m0 1v2m0 1v1m2 -110v2m0 2v1m0 1v2m0 1v2m0 9v1m0 62v1m0 5v3m0 15v1m2 -111v3m0 2v1m0 2v2m0 6v1m0 6v1m0 13v1m0 48v1m0 3v1m0 2v5m0 2v1m2 -5v1m0 2v1m0 1v1m0 6v1m2 -105v1m0 4v1m0 2v1m0 3v1m0 2v3m0 2v2m0 4v1m0 9v2m0 20v1m0 23v1m0 5v1m0 3v2m0 1v1m0 2v2m0 3v3m0 3v1m0 3v1m2 -116v1m0 1v1m0 2v3m0 1v1m0 2v4m0 3v1m0 1v2m0 1v1m0 34v1m0 33v1m0 3v1m2 -93v1m0 9v1m0 7v1m0 56v2m0 2v1m0 3v1m2 -90v2m0 98v1m0 1v1m2 -103v3m0 2v1m0 1v1m0 1v1m0 6v1m0 11v1m0 36v1m0 30v2m0 2v3m0 1v1m0 2v2m2 -112v1m0 3v1m0 4v2m0 1v4m0 5v2m0 1v1m0 18v1m0 25v1m0 19v2m0 5v5m0 1v1m0 3v1m0 1v1m2 -110v2m0 2v1m0 1v1m0 47v1m0 47v1m0 1v1m0 3v3m0 2v1m2 -116v1m0 6v2m0 88v1m0 12v1m0 3v2m2 -101v1m0 44v1m0 2v1m0 2v1m0 3v1m0 1v1m0 1v2m0 20v1m0 2v1m0 2v1m0 1v3m2 -107v1m0 1v1m0 3v1m0 105v1m0 1v1m0 3v1m2 -109v1m0 2v1m0 4v1m0 6v1m0 5v1m0 3v1m0 13v1m0 6v1m0 6v1m0 1v1m0 11v1m0 3v1m0 4v1m0 7v1m0 3v1m2 -84v1m0 2v1m0 3v1m0 2v5m0 2v4m0 5v1m0 3v2m0 2v2m0 2v2m0 1v1m0 7v1m0 1v3m0 2v1m0 2v1m0 1v1m0 6v1m0 2v1m0 7v1m2 -90v1m0 1v3m0 3v1m0 5v1m0 3v4m0 1v1m0 2v1m0 1v1m0 15v2m0 15v1m0 27v1m0 1v1m0 1v1m2 -97v1m0 3v1m0 2v1m0 4v1m0 3v1m0 2v1m0 3v2m0 3v1m0 2v1m0 26v1m0 7v1m0 8v1m0 8v1m0 4v1m0 3v1m0 14v4m0 4v1m2 -114v1m0 1v1m0 1v2m0 2v1m0 2v2m0 2v1m0 7v1m0 2v1m0 14v1m0 24v1m0 1v1m0 3v1m0 3v1m0 16v3m0 6v5m2 -101v1m0 2v1m0 1v1m0 4v1m0 34v1m0 4v1m0 12v2m0 19v1m0 1v1m0 3v1m0 2v1m0 1v1m0 5v1m0 4v1m0 1v1m2 -108v1m0 1v1m0 8v1m0 68v2m0 4v1m0 10v1m0 1v1m0 2v1m0 1v2m0 1v1m2 -108v1m0 1v1m0 5v3m0 1v5m0 1v1m0 61v3m0 12v4m0 8v1m2 -108v1m0 1v1m0 2v1m0 2v1m0 2v1m0 2v1m0 1v1m0 3v1m0 7v2m0 14v1m0 37v1m0 3v1m0 1v1m0 8v1m2 -100v1m0 1v1m0 1v2m0 1v1m0 38v1m0 7v1m0 21v2m0 9v1m0 1v1m0 5v2m0 1v1m0 2v2m2 -95v1m0 5v1m0 52v1m0 18v1m0 1v2m0 1v1m0 1v1m0 14v1m2 -109v4m0 108v1m2 -112v2m0 7v1m0 84v1m0 1v1m0 2v5m0 2v1m0 4v3m2 -115v3m0 2v1m0 7v1m0 85v1m0 5v1m0 10v1m2 -117v1m0 31v1m0 5v1m0 48v1m0 7v2m0 2v4m0 1v1m0 2v2m2 -99v1m0 1v1m0 5v2m0 1v1m0 17v1m0 20v1m0 21v2m0 6v1m0 3v3m0 2v1m0 1v3m0 3v1m2 -105v1m0 2v1m0 13v1m0 28v1m0 41v1m0 1v1m0 1v1m0 1v2m0 5v1m0 2v1m2 -107v1m0 4v1m0 2v2m0 6v2m0 1v1m0 13v1m0 60v1m0 1v3m0 5v1m2 -96v2m0 1v1m0 1v1m0 1v1m0 63v1m0 21v1m0 4v1m0 6v1m0 2v1m2 -110v1m0 8v1m0 2v1m0 1v1m0 1v1m0 9v1m0 63v1m0 1v1m0 12v1m0 3v2m2 -107v1m0 2v1m0 1v1m0 11v1m0 6v1m0 34v1m0 8v1m0 1v1m0 5v1m0 1v3m0 8v1m0 5v1m0 3v1m0 2v1m0 2v1m2 -109v1m0 4v1m0 1v1m0 1v1m0 2v1m0 7v1m0 52v2m0 5v2m0 3v2m0 3v2m0 1v1m0 1v1m2 -97v1m0 3v1m0 3v3m0 1v1m0 2v1m0 37v1m0 2v1m0 10v1m0 8v1m0 1v1m0 1v1m0 3v1m0 2v1m0 1v3m0 1v1m0 2v2m0 5v1m2 -104v1m0 1v3m2 -6v2m0 9v1m0 3v1m0 1v1m0 4v1m0 21v1m0 1v1m0 5v1m0 21v2m0 10v2m0 2v3m0 1v2m0 3v2m2 -107v1m0 15v2m0 3v2m0 12v1m0 59v1m0 1v2m0 6v1m2 -98v2m0 1v1m0 8v1m0 14v1m0 1v1m0 2v3m0 2v1m0 40v1m0 1v2m0 3v1m0 3v1m0 1v2m0 1v1m0 1v1m0 1v1m2 -103v1m0 2v2m0 107v1m0 2v1m2 -60v1m0 57v1m2 -112v1m0 10v1m0 1v1m0 2v1m0 4v2m0 6v1m0 6v1m0 1v2m0 1v2m0 2v1m0 2v1m0 7v1m0 35v1m0 1v1m0 2v2m0 7v1m0 1v3m0 2v1m2 -122v2m0 1v3m0 5v4m0 2v2m0 2v1m0 8v1m0 66v2m0 1v1m0 11v2m0 1v1m0 1v1m0 7v1m2 -110v2m0 1v1m0 2v1m0 8v2m0 4v2m0 4v2m0 63v1m0 2v1m0 1v1m0 2v1m0 1v1m2 -116v1m0 1v1m0 7v3m0 7v1m0 25v2m0 2v1m0 61v1m2 -111v1m0 5v1m0 37v1m0 65v1m0 1v1m2 -113v1m0 1v1m0 1v1m0 2v1m0 1v1m0 2v1m0 42v1m0 38v1m0 18v2m0 1v1m2 -111v2m0 1v1m0 1v1m0 1v1m0 1v1m0 2v1m0 6v1m0 83v1m2 -110v1m0 1v3m0 9v1m0 95v1m0 3v1m2 -113v1m0 2v4m0 1v1m0 7v1m0 9v1m0 12v1m0 58v1m0 7v2m0 4v2m2 -122v1m0 3v1m0 16v1m0 2v1m0 5v1m0 92v3m0 1v4m2 -128v1m0 2v2m0 116v1m0 4v1m2 -130v1m0 4v1m0 2v1m0 1v2m0 4v1m0 4v1m0 1v1m0 7v1m0 1v1m0 3v1m0 2v1m0 10v1m0 1v1m0 65v1m0 1v1m2 -119v1m0 5v1m0 2v1m0 1v1m0 2v1m0 3v1m0 91v2m0 5v2m0 1v1m0 1v2m2 -115v1m0 7v3m0 61v1m0 19v1m0 9v2m0 1v1m0 2v1m0 2v1m0 1v2m0 2v1m0 2v1m2 -176v1m0 53v2m0 2v1m0 81v1m0 26v1m0 1v4m2 -122v1m0 9v1m0 1v2m0 2v1m0 7v1m0 1v1m0 20v1m0 2v1m0 24v2m0 19v1m0 3v2m0 3v1m0 1v1m0 1v1m0 3v1m2 -117v1m0 2v1m0 2v1m0 5v2m0 28v1m0 67v2m0 3v4m0 1v1m0 2v2m2 -128v1m0 102v1m0 12v1m0 3v1m0 1v1m0 2v1m0 2v2m2 -175v1m0 49v1m0 1v3m0 81v1m0 3v1m0 1v1m0 1v1m0 15v1m0 4v3m0 4v1m0 4v2m2 -128v4m0 5v1m0 2v1m0 14v1m0 93v1m2 -126v1m0 3v2m0 2v1m0 101v1m0 2v1m0 11v2m0 1v1m0 1v1m2 -129v1m0 2v1m0 2v4m0 2v1m0 56v1m0 12v1m0 10v1m0 23v1m0 4v1m0 3v1m0 2v1m2 -133v2m0 2v1m0 129v1m2 -121v1m0 1v2m0 9v1m0 1v1m0 3v1m0 5v1m0 1v1m0 1v1m0 2v1m0 4v1m0 1v1m0 1v1m0 42v1m0 10v2m0 2v1m0 1v1m0 4v2m0 4v1m2 -121v1m0 3v1m0 29v1m0 3v1m0 11v1m0 60v1m0 6v1m0 8v2m0 1v2m2 -131v2m0 117v1m0 6v1m0 3v1m0 1v1m2 -132v1m0 3v1m0 30v2m0 16v1m0 17v1m0 23v1m0 7v1m0 5v1m0 6v1m0 1v1m0 4v1m2 -126v2m0 22v1m0 102v1m0 3v2m0 1v1m0 1v1m2 -135v1m0 124v1m2 -127v1m0 129v3m2 -131v1m0 4v1m0 1v1m0 2v1m0 31v1m0 79v1m0 2v6m2 -127v3m0 62v1m0 53v1m0 1v1m0 1v2m0 1v1m0 1v1m2 -126v1m0 1v1m0 2v2m0 16v1m0 11v1m0 19v1m0 7v1m0 1v1m0 4v2m0 1v1m0 30v1m0 1v1m0 8v2m0 1v2m2 -123v1m0 1v1m0 123v1m0 3v1m0 1v1m2 -131v1m0 1v1m0 91v1m0 1v1m0 29v1m0 1v2m2 -134v1m0 1v2m0 2v1m0 122v1m0 7v1m2 -138v2m0 31v1m0 83v2m0 4v2m0 1v1m0 4v1m0 1v1m0 4v2m2 -136v3m0 4v1m0 10v1m0 5v2m0 9v1m0 9v1m0 84v1m0 2v1m0 1v1m2 -135v1m0 21v1m0 49v1m0 46v1m0 3v2m0 1v1m0 1v1m0 7v1m2 -137v1m0 2v1m0 101v1m0 16v1m0 4v1m2 -1v1m0 5v1m0 1v2m0 2v1m2 -103v1m0 83v1m0 3v1m0 2v1m2 -118v1m0 4v1m0 2v4m0 5v1m0 1v1m0 67v2m0 32v1m0 1v2m0 3v2m2 -129v2m0 2v1m0 121v1m0 1v1m2 -135v1m0 132v1m2 -127v1m0 119v1m0 1v1m0 1v1m2 -126v2m0 3v1m0 54v1m0 42v3m0 4v1m0 9v3m0 1v1m0 2v4m0 6v1m0 1v3m2 -140v2m0 21v1m0 2v1m0 1v1m0 35v1m0 25v1m0 32v2m0 2v1m0 1v2m0 1v1m0 5v1m2 -134v1m0 9v1m0 33v1m0 1v1m0 1v1m0 13v5m0 1v1m0 15v2m0 7v1m0 9v2m0 1v1m0 2v1m0 3v2m0 6v1m0 7v1m0 3v1m2 -139v2m0 2v1m0 64v1m0 16v1m0 4v2m0 3v1m0 2v1m0 3v2m0 1v1m0 1v1m0 10v2m0 3v3m2 -121v1m0 77v1m0 5v1m0 1v3m0 2v1m0 7v1m0 2v2m0 1v1m0 6v1m2 -114v1m0 1v1m0 4v3m0 2v1m0 44v1m0 3v1m0 1v2m0 17v1m0 16v1m0 7v1m0 13v1m0 4v1m0 4v1m2 -132v3m0 3v1m0 21v2m0 19v1m0 1v1m0 40v2m0 4v1m0 26v2m2 -119v1m0 1v1m0 40v1m0 9v1m0 21v1m0 1v1m0 10v1m0 16v1m0 3v1m0 3v1m2 -67v1m0 62v2m0 3v1m0 4v1m0 1v1m0 2v2m2 -134v2m0 8v1m0 34v1m0 1v2m0 35v1m0 3v1m0 3v1m0 8v1m0 1v1m0 1v1m0 6v1m0 3v1m0 1v3m0 1v1m0 5v1m0 3v2m2 -135v3m0 2v1m0 87v1m0 2v1m0 13v1m0 2v1m0 1v1m0 3v1m0 4v2m0 8v1m2 -136v1m0 59v1m0 58v2m0 2v1m0 1v1m2 -122v2m0 89v1m0 9v1m0 5v1m0 4v2m0 3v1m0 7v1m0 1v2m2 -127v1m0 39v1m0 22v1m0 5v1m0 2v1m0 21v1m0 4v1m0 1v1m0 1v1m0 7v1m0 1v1m0 1v2m0 1v1m0 2v1m2 -122v1m0 68v1m0 41v2m0 4v1m2 -117v1m0 2v1m0 2v1m0 2v2m0 81v1m0 16v1m0 4v1m0 1v1m2 -114v1m0 5v1m0 4v1m0 43v1m0 6v1m0 13v1m0 1v1m0 25v1m0 2v1m0 1v2m0 2v2m0 2v1m2 -119v1m0 6v1m0 1v2m0 107v3m0 6v1m2 -128v2m0 104v1m0 2v1m0 4v1m2 -113v1m0 5v1m0 61v1m0 2v2m0 27v1m0 11v2m2 -109v1m0 82v1m0 20v1m0 1v1m0 3v1m2 -104v1m0 22v1m0 1v1m0 3v1m0 83v1m2 -116v2m0 87v2m0 5v2m0 5v2m2 -103v2m0 50v1m0 42v2m0 2v2m2 -96v1m0 87v1m0 3v2m0 5v1m2 -94v1m0 25v1m0 6v1m0 7v1m0 5v1m0 4v2m0 1v1m0 8v1m0 1v1m0 2v1m0 1v1m0 3v1m0 1v1m0 2v1m2 -85v1m0 17v1m0 29v1m0 13v1m0 2v1m0 3v1m0 1v1m0 4v1m0 14v2m0 5v2m0 2v1m0 1v1m2 -97v1m0 8v1m0 6v1m0 6v1m0 8v1m0 14v1m0 19v1m0 3v1m0 8v1m0 8v4m2 -97v3m0 8v1m0 1v1m0 6v2m0 32v1m0 1v1m0 28v1m0 3v1m0 3v2m2 -92v1m0 73v1m0 5v1m0 1v1m0 1v1m0 2v2m2 -88v2m0 1v1m0 4v1m0 60v2m0 10v2m0 4v1m2 -88v3m0 3v1m0 1v2m0 8v1m0 5v1m0 9v1m0 6v1m0 8v1m0 12v1m0 8v1m0 9v1m2 -83v1m0 2v1m0 29v1m0 10v1m0 2v1m0 15v1m0 4v2m0 3v1m0 3v1m0 1v2m0 1v1m0 4v1m2 -86v2m0 11v1m0 31v1m0 19v1m0 2v2m0 7v2m0 1v2m0 2v2m0 1v1m2 -83v1m0 1v1m0 1v1m0 2v1m0 26v1m0 5v1m0 4v1m0 9v3m0 4v2m0 5v1m0 1v2m0 1v1m0 4v2m2 -81v1m0 1v1m0 20v1m0 10v1m0 10v1m0 2v1m0 4v1m0 3v1m0 4v1m0 8v1m0 1v1m0 4v1m2 -109v1m0 90v3m0 5v1m0 2v3m0 1v2m0 6v1m2 -82v1m0 5v1m0 17v1m0 24v1m0 5v1m0 5v1m0 1v1m0 7v2m0 1v1m0 2v1m0 2v2m2 -80v4m0 55v2m0 7v2m0 3v2m0 5v1m0 5v1m2 -80v1m0 7v1m0 53v2m0 2v2m0 4v1m2 -68v1m0 57v1m0 2v1m2 -54v1m0 15v1m0 3v1m0 4v1m0 2v1m0 8v1m0 2v1m0 10v1m0 2v2m2 -126v1m0 54v1m0 6v1m0 28v1m0 23v1m0 3v1m0 4v2m0 9v1m2 -83v1m0 1v1m0 32v1m0 22v1m0 3v1m0 3v1m0 9v1m2 -103v1m0 21v1m0 1v2m0 18v1m0 4v2m0 8v1m0 1v1m0 18v1m0 10v1m2 -66v1m0 2v1m0 62v1m0 1v1m0 4v1m0 4v1m2 -78v1m0 4v1m0 40v1m0 15v1m0 1v1m0 4v2m0 1v1m0 4v1m2 -71v1m0 1v1m0 16v1m0 1v1m0 1v1m0 1v1m0 3v1m0 23v2m0 2v2m2 -67v1m0 1v4m0 1v3m0 1v1m0 1v1m0 3v1m0 11v1m0 7v1m0 10v2m0 5v1m0 1v1m0 9v1m0 3v1m0 5v1m2 -75v6m0 5v3m0 1v1m0 13v1m0 6v1m0 1v2m0 1v1m0 19v4m0 2v1m0 2v2m0 1v1m0 2v1m2 -80v1m0 3v1m0 3v1m0 8v1m0 53v1m2 -74v2m0 1v2m0 16v1m0 59v1m0 1v1m2 -83v1m0 2v1m0 1v2m0 5v1m0 2v1m0 3v1m0 3v1m0 2v1m0 8v1m0 3v2m0 1v1m0 2v1m0 3v1m0 4v2m0 3v1m0 2v1m0 2v1m0 2v1m0 1v1m0 5v1m0 3v1m2 -74v1m0 1v1m0 25v1m0 37v1m0 1v1m0 3v1m2 -79v2m0 1v6m0 2v2m0 1v1m0 1v3m0 4v2m0 26v1m0 9v2m0 2v2m0 1v1m2 -69v2m0 70v1m0 4v1m0 1v2m0 1v1m2 -82v1m0 2v1m0 1v1m0 5v1m0 45v1m0 2v1m0 1v1m2 -66v1m0 2v2m0 5v1m0 1v1m0 5v1m0 35v1m0 8v2m0 2v3m0 1v1m2 -72v1m0 1v3m0 8v1m0 41v1m0 18v1m0 1v2m0 4v2m2 -81v1m0 2v1m0 3v1m0 1v1m0 3v1m0 39v1m0 7v1m2 -52v1m0 14v1m0 5v1m0 3v1m0 1v1m0 6v1m0 12v1m0 3v1m0 5v1m0 1v2m0 1v2m0 2v1m0 1v1m2 -78v1m0 1v1m0 3v3m0 65v1m0 1v2m0 3v1m2 -84v2m0 5v1m0 34v1m0 2v1m0 16v1m0 8v3m0 3v1m0 5v1m2 -113v1m0 36v1m0 4v2m0 20v2m0 12v1m0 3v1m0 11v3m0 8v1m2 -78v1m0 3v1m0 1v1m0 1v1m0 5v1m0 53v1m0 2v1"/><path stroke="#ff6f39" d="M79 265v1m0 5v1m0 10v2m0 26v1m0 7v1m0 4v1m0 4v1m0 3v1m2 -32v1m0 4v1m0 4v1m0 4v1m0 2v1m0 1v2m0 3v1m0 2v2m2 -65v3m0 6v1m0 1v2m0 5v1m0 16v1m0 5v1m0 10v1m2 -49v1m0 4v2m0 21v3m0 1v1m0 7v2m2 -48v1m0 2v1m0 18v1m0 1v1m0 2v2m0 2v1m0 3v1m0 11v1m0 6v2m0 2v1m0 7v1m2 -64v1m0 16v1m0 20v1m0 17v3m0 1v2m2 -63v1m0 8v1m0 3v1m0 6v1m0 6v2m0 13v1m0 1v1m2 -44v1m0 1v2m0 32v1m0 1v2m0 11v3m0 2v1m2 -49v3m0 3v3m0 4v1m0 3v1m0 5v1m0 5v3m2 -39v1m0 3v1m0 14v2m0 1v1m0 4v1m0 2v1m0 6v1m2 -31v1m0 1v1m0 2v1m0 4v1m0 4v4m0 4v1m0 1v1m0 1v1m0 2v1m0 2v1m0 5v1m0 6v1m2 -43v3m0 4v1m0 2v7m0 3v2m0 31v1m2 -67v1m0 11v1m0 2v1m0 2v1m0 4v1m0 2v3m0 4v1m0 2v2m0 3v1m0 1v2m0 7v1m0 7v1m2 -48v1m0 31v1m0 3v3m0 3v1m2 -52v1m0 1v1m0 7v2m0 1v1m0 3v2m0 5v2m0 3v1m0 1v2m0 4v1m0 2v1m0 4v1m2 -25v2m0 22v1m2 -45v1m0 17v2m0 6v1m0 9v2m0 11v1m0 1v2m2 -53v1m0 17v1m0 3v1m0 3v1m0 1v1m0 7v1m0 2v1m2 -41v1m0 9v1m0 7v2m0 1v3m0 8v1m0 2v1m0 1v1m0 1v1m0 1v1m0 4v1m0 2v2m0 1v5m0 3v1m0 5v1m2 -49v1m0 16v1m0 11v1m2 -49v1m0 6v1m0 4v1m0 1v2m0 2v1m0 1v2m0 4v1m0 2v1m0 1v1m0 3v1m0 3v1m0 9v1m0 2v1m0 1v1m0 3v1m2 -58v1m0 7v3m0 10v1m0 10v1m0 2v3m0 10v1m0 5v1m2 -56v1m0 2v1m0 38v1m0 3v1m0 1v1m0 3v2m2 -55v1m0 2v1m0 12v1m0 1v1m0 3v1m0 4v1m0 10v1m0 1v1m2 -39v2m0 13v1m0 1v1m0 4v2m0 6v2m0 2v1m0 1v2m0 17v1m2 -51v2m0 8v1m0 5v3m0 12v1m0 10v2m2 -40v3m0 2v1m0 4v1m0 2v3m0 3v1m0 8v1m0 6v1m0 1v1m0 1v1m2 -26v3m0 1v3m0 5v3m0 3v1m0 3v1m0 5v1m0 1v2m0 4v3m2 -48v2m0 5v1m0 2v1m0 7v1m0 5v1m0 1v1m2 -36v1m0 1v1m0 1v2m0 2v2m0 3v1m0 1v1m0 2v2m0 9v1m0 3v2m0 1v1m0 5v4m2 -43v2m0 5v1m0 4v1m0 1v1m0 12v2m2 -19v1m0 5v2m0 4v1m0 7v1m0 2v1m0 9v2m0 1v2m0 3v1m2 -36v2m0 2v1m0 1v1m0 6v3m2 -35v3m0 2v1m0 4v1m0 1v1m0 3v1m0 16v1m0 8v2m2 -31v1m0 2v1m0 3v1m0 1v1m0 5v2m0 3v1m0 1v1m2 -33v2m0 5v1m0 17v1m0 10v1m0 2v5m0 1v2m0 2v1m0 1v1m2 -50v1m0 5v1m0 2v2m0 4v1m0 1v1m0 2v1m0 4v1m0 1v1m2 -25v1m0 2v1m0 1v1m0 1v1m0 3v2m0 3v1m0 18v1m2 -40v1m0 2v1m0 22v1m0 1v2m0 1v1m0 3v1m0 3v2m0 1v1m0 2v1m0 2v1m0 1v2m0 2v1m2 -49v2m0 1v3m0 6v1m0 4v1m0 2v1m0 1v1m0 2v1m0 4v1m0 12v1m2 -47v2m0 1v2m0 7v1m0 2v1m0 1v1m0 4v3m0 3v1m0 4v1m0 7v1m0 1v1m2 -41v1m0 1v2m0 1v2m0 2v1m0 2v2m0 1v1m0 1v2m0 6v1m0 4v1m0 7v1m0 1v1m2 -39v2m0 12v4m0 5v1m0 16v1m2 -39v3m0 5v2m0 2v1m0 6v1m0 1v1m0 7v2m0 1v1m0 5v1m2 -42v1m0 3v1m0 1v1m0 1v2m2 -7v1m0 2v4m0 2v1m0 2v1m0 2v1m0 2v2m0 8v2m0 3v1m2 -30v1m2 -1v1m2 4v1m0 9v1m0 5v2m0 2v1m2 -26v1m0 3v2m0 1v1m0 10v1m0 3v1m0 4v1m2 -36v3m0 15v1m0 4v1m0 2v1m0 5v1m0 2v1m0 2v1m2 -34v1m0 3v1m0 5v1m0 1v1m0 5v2m2 -21v1m0 2v1m0 2v1m0 1v2m0 8v2m2 -21v1m0 2v2m0 2v1m0 6v1m0 4v1m2 -26v2m0 8v4m0 2v1m0 1v2m0 1v3m0 1v2m2 -30v1m0 5v4m0 3v1m0 2v1m0 7v3m0 10v1m0 1v1m2 -39v1m0 2v1m0 3v1m0 10v1m0 5v1m2 -28v1m0 2v2m0 1v1m0 5v1m0 5v1m0 1v1m0 1v1m2 -24v1m0 9v1m0 3v1m0 6v1m0 1v1m0 2v1m2 -35v1m0 6v1m0 5v1m0 1v1m0 3v2m0 3v1m0 8v2m0 1v1m0 1v1m2 -44v1m0 1v1m0 2v1m0 1v1m0 4v1m0 4v1m0 3v1m0 2v1m2 -29v1m0 2v1m0 1v2m0 4v1m0 1v1m0 8v1m0 2v1m2 -21v1m0 6v1m2 -9v1m0 15v1m0 6v1m0 6v1m0 4v2m0 1v2m2 -54v1m0 3v1m0 1v1m0 10v1m0 10v1m0 7v1m0 4v1m0 1v1m0 2v1m0 1v2m0 2v1m2 -51v4m0 1v5m0 7v2m0 2v1m0 5v1m2 -26v1m0 2v1m0 1v2m0 1v2m0 3v1m0 1v2m0 9v3m0 4v2m2 -44v1m0 1v1m0 2v1m0 12v1m0 5v1m0 2v1m0 3v1m0 4v1m0 1v2m0 2v1m0 10v1m2 -62v1m0 1v1m0 1v1m0 6v2m0 3v1m0 3v1m0 1v1m0 2v3m0 4v1m0 9v1m2 -43v1m0 7v1m0 13v1m0 2v1m0 6v1m0 9v2m2 -46v1m0 2v1m0 6v1m0 1v1m0 2v1m0 20v1m0 17v1m0 2v1m0 8v1m2 -71v1m0 7v1m0 19v1m0 9v2m0 2v1m0 3v2m2 -32v1m0 2v3m0 3v1m0 3v1m2 -37v2m0 4v1m0 41v1m0 4v2m0 9v1m0 1v1m0 4v2m2 -74v1m0 4v1m0 34v1m0 3v1m0 1v2m0 1v1m0 4v1m0 4v1m2 -61v1m0 2v1m0 3v1m0 22v1m0 14v1m0 9v1m0 4v1m0 1v2m0 2v1m0 1v1m0 2v2m2 -72v2m0 4v3m0 14v2m0 1v1m0 14v1m0 11v1m2 -7v1m0 1v1m0 17v1m2 -71v2m0 1v1m0 1v1m0 1v1m0 1v1m0 25v2m0 1v2m0 7v1m0 3v1m2 -54v2m0 2v1m0 2v1m0 3v1m0 1v1m0 15v1m0 5v1m0 7v1m0 11v1m0 3v1m0 3v1m0 1v1m0 1v3m2 -70v1m0 3v1m0 1v2m0 27v1m0 9v1m0 4v2m0 2v2m0 6v2m2 -32v1m0 12v2m0 1v1m0 2v1m0 9v2m0 2v1m0 5v1m2 -62v1m0 33v1m2 -48v1m0 6v1m0 5v1m0 21v2m0 1v1m0 1v2m0 2v2m0 1v1m0 2v2m0 3v1m2 -60v2m0 1v1m0 1v1m0 1v1m0 26v1m0 1v1m0 1v1m0 3v1m0 7v1m0 5v1m0 4v1m0 3v1m0 5v1m2 -69v2m0 2v1m0 1v1m0 1v1m0 24v2m0 2v1m0 2v1m0 1v2m0 1v1m0 1v1m0 6v1m0 3v2m0 4v1m2 -63v2m0 2v1m0 1v2m0 4v1m0 26v2m0 4v2m0 2v1m0 1v1m0 8v1m2 -71v1m0 12v1m0 34v1m0 3v3m0 1v1m0 6v2m0 5v1m2 -72v1m0 7v1m0 3v1m0 8v1m0 2v1m0 17v1m0 1v1m0 7v1m0 3v2m0 2v1m0 5v3m0 2v1m0 6v1m2 -82v1m0 1v1m0 2v2m0 8v1m0 9v1m0 19v2m0 2v1m0 1v2m0 11v1m0 5v1m2 -74v2m0 56v2m0 1v2m0 2v2m0 1v3m0 2v1m2 -74v1m0 42v1m0 26v1m0 6v1m0 1v1m0 4v1m0 2v1m2 -90v1m0 4v1m0 25v1m0 26v1m0 1v1m0 4v1m0 3v1m2 -69v2m0 4v1m0 66v1m0 4v2m0 4v1m2 -12v1m0 10v3m2 -89v1m0 8v1m0 7v1m0 11v2m0 4v1m0 18v2m0 5v1m0 6v1m0 1v1m0 13v1m2 -92v1m0 11v1m0 26v1m0 24v2m0 4v1m0 6v1m0 1v1m0 1v1m0 1v1m2 -87v2m0 1v1m0 4v1m0 2v1m0 5v1m0 2v3m0 1v3m0 5v1m0 3v2m0 21v2m0 1v2m0 3v3m0 2v1m0 1v1m0 8v1m0 3v1m0 6v1m2 -96v2m0 2v1m0 4v2m0 2v1m0 2v1m0 2v1m0 5v1m0 8v1m0 26v1m0 12v1m0 1v1m0 3v2m0 5v1m2 -94v2m0 1v4m0 2v2m0 11v1m0 53v1m0 6v3m0 7v1m0 5v2m2 -103v1m0 7v1m0 1v1m0 1v1m0 7v1m0 17v1m0 2v1m0 2v1m0 44v2m0 5v1m2 -77v1m0 1v1m0 3v2m0 2v6m0 9v1m0 1v3m0 18v1m0 3v1m2 -62v1m0 5v1m0 17v1m0 1v2m0 3v1m0 25v1m0 1v1m0 3v1m2 -73v1m0 3v1m0 2v1m0 7v1m0 2v1m0 5v1m0 41v1m0 7v1m0 1v2m0 1v1m0 10v1m2 -73v1m0 2v1m0 10v1m0 44v2m0 2v5m0 3v1m0 1v1m0 1v1m2 -84v1m0 6v3m0 1v1m0 15v1m0 1v2m0 3v1m0 1v1m0 2v1m0 1v1m0 6v1m0 2v3m0 5v1m0 10v1m0 5v1m2 -84v2m0 12v1m0 48v1m0 15v1m0 4v1m2 -88v5m0 1v1m0 59v1m2 -68v1m0 1v1m0 4v1m0 1v1m0 8v1m0 1v1m0 4v1m0 25v1m0 1v1m0 6v1m0 1v2m0 3v1m0 3v2m2 -68v1m0 1v1m0 10v1m0 7v1m0 7v3m0 13v2m0 16v1m0 1v1m0 1v1m0 4v1m0 1v1m0 1v1m0 1v3m2 -84v1m0 13v1m0 4v1m0 3v1m0 1v2m0 1v1m0 5v1m0 22v1m0 9v1m0 1v3m0 1v1m0 1v1m0 2v2m0 2v2m0 1v2m0 2v1m0 1v1m2 -95v1m0 7v2m0 1v1m0 5v1m0 28v1m0 18v1m0 23v1m2 -82v1m0 10v1m0 3v1m0 1v1m0 15v2m0 2v3m0 6v1m0 8v1m0 1v1m0 13v1m2 -77v2m0 3v1m0 1v1m0 1v1m0 15v1m0 2v1m0 4v1m0 36v1m0 4v1m0 2v1m0 10v1m2 -87v1m0 14v1m0 2v1m0 14v2m0 1v3m0 6v1m0 26v5m0 2v1m2 -77v2m0 8v1m0 22v1m0 5v2m0 1v1m0 1v1m0 8v3m0 3v1m0 1v1m0 17v1m2 -81v2m0 42v1m0 7v2m0 2v1m0 4v1m0 3v2m2 -78v2m0 1v1m0 1v2m0 7v1m0 9v1m0 2v7m0 1v1m0 7v1m0 4v1m0 14v1m0 10v1m0 1v1m0 1v3m2 -82v1m0 1v2m0 2v2m0 2v1m0 5v1m0 5v1m0 2v1m0 1v1m0 1v1m0 9v3m0 2v1m0 2v1m0 2v1m0 3v1m0 14v1m0 2v1m0 2v3m0 1v1m2 -82v1m0 1v1m0 1v1m0 1v1m0 1v1m0 1v1m0 4v2m0 8v1m0 1v1m0 7v1m0 13v1m0 10v1m0 13v1m0 2v1m0 3v4m0 4v1m0 9v1m2 -105v1m0 2v2m0 12v1m0 4v1m0 7v5m0 1v2m0 6v1m0 28v1m0 10v1m0 2v1m0 6v1m0 6v2m0 1v1m2 -103v1m0 2v1m0 3v1m0 5v1m0 5v1m0 6v1m0 11v1m0 2v1m0 1v3m0 2v1m0 4v2m0 1v2m0 1v1m0 2v1m0 7v1m0 2v2m0 2v2m0 1v2m0 2v1m0 2v1m0 1v1m2 -81v1m0 1v1m0 2v2m0 17v1m0 1v2m0 2v1m0 1v2m0 1v1m0 1v1m0 2v1m0 1v1m0 2v1m0 1v2m0 3v1m0 1v1m0 5v2m0 2v2m0 2v1m0 6v1m0 1v1m0 8v1m2 -90v1m0 1v2m0 1v1m0 3v1m0 13v1m0 7v1m0 8v2m0 6v1m0 19v1m0 3v2m2 -84v1m0 5v1m0 2v2m0 3v1m0 1v1m0 14v2m0 26v1m0 2v1m0 2v1m0 5v1m0 3v2m0 7v1m0 8v1m0 1v1m0 3v1m2 -86v1m0 2v1m0 7v1m0 4v1m0 2v1m0 9v2m0 6v1m0 1v1m0 1v1m0 19v3m0 4v1m0 1v1m0 2v2m0 2v2m0 1v1m0 1v1m2 -101v1m0 2v2m0 6v1m0 5v1m0 3v2m0 1v1m0 2v1m0 1v1m0 4v2m0 6v1m0 1v1m0 2v1m0 1v1m0 21v1m0 16v1m0 2v3m0 3v1m0 1v1m0 3v1m0 4v2m0 1v1m2 -105v2m0 1v2m0 2v1m0 6v1m0 1v1m0 2v1m0 1v1m0 13v3m0 9v1m0 4v1m0 26v1m0 1v2m0 5v1m0 2v1m2 -75v1m0 2v1m0 1v1m0 17v2m0 18v1m0 12v2m0 4v1m0 4v1m0 5v1m0 1v1m0 4v1m2 -99v1m0 7v2m0 3v1m0 5v2m0 1v1m0 5v1m0 3v1m0 6v4m0 2v1m0 10v1m0 3v1m0 9v1m0 1v1m0 1v1m2 -72v1m0 4v1m0 8v1m0 2v3m0 24v1m0 35v2m0 1v1m0 5v1m0 9v1m2 -100v1m0 1v1m0 3v1m0 2v1m0 7v3m0 21v1m0 5v2m0 1v1m0 2v1m0 12v1m0 3v1m0 6v3m2 -55v1m0 1v7m0 2v1m0 3v1m0 1v1m0 4v1m0 1v1m0 1v1m0 1v2m0 2v2m0 10v2m0 2v1m0 2v2m0 1v1m0 2v2m0 6v2m2 -96v2m0 2v1m0 1v1m0 1v1m0 1v2m0 3v1m0 2v1m0 1v1m0 3v1m0 6v1m0 7v3m0 7v1m0 9v1m0 6v1m0 3v1m0 3v3m0 18v1m0 5v1m2 -102v1m0 2v3m0 3v2m0 3v2m0 1v1m0 3v1m0 1v2m0 8v1m0 2v3m0 1v1m0 3v1m0 2v1m0 1v1m0 14v3m0 6v3m0 8v1m0 7v1m2 -92v1m0 2v1m0 4v3m0 5v2m0 12v1m0 23v3m0 2v1m0 9v1m0 1v1m0 2v2m0 5v1m0 1v1m0 6v3m0 1v1m0 11v1m2 -112v1m0 3v1m0 1v2m0 1v2m0 4v4m0 1v1m0 3v1m0 3v1m0 30v1m0 5v1m0 1v1m0 1v1m0 4v4m0 1v2m0 6v1m0 2v1m0 11v1m2 -109v1m0 8v1m0 8v1m0 5v1m0 2v2m0 11v2m0 34v1m0 25v4m0 1v2m0 2v1m2 -97v1m0 4v1m0 3v2m0 2v1m0 11v1m0 4v3m0 2v1m0 1v2m0 6v1m0 2v7m0 4v1m0 16v1m0 4v1m2 -91v1m0 1v1m0 1v1m0 3v1m0 2v1m0 1v1m0 4v1m0 2v2m0 2v1m0 1v1m0 16v1m0 2v1m0 1v2m0 1v2m0 1v1m0 7v2m0 1v1m0 13v2m2 -79v4m0 7v1m0 3v1m0 42v1m0 28v3m0 7v2m0 1v2m2 -105v1m0 2v1m0 5v1m0 2v1m0 34v1m0 37v1m0 4v1m0 1v1m0 2v1m0 1v1m0 6v1m0 1v1m2 -95v3m0 3v3m0 2v1m0 1v1m0 2v1m0 24v1m0 20v2m0 3v1m2 -79v2m0 1v1m0 3v3m0 1v2m0 1v2m0 1v1m0 1v1m0 1v2m0 2v3m0 11v1m0 39v1m0 5v2m0 1v1m2 -92v1m0 1v1m0 84v1m0 2v2m0 6v1m0 1v1m0 4v1m2 -95v1m0 14v1m0 11v1m0 5v3m0 10v1m0 3v1m0 5v1m0 9v1m0 2v1m0 1v1m0 4v1m0 2v2m0 8v2m0 3v2m2 -102v2m0 3v1m0 7v3m0 27v1m0 2v1m0 5v1m0 4v1m0 1v1m0 28v1m0 2v1m2 -89v1m0 5v1m0 1v1m0 1v2m0 1v1m0 2v1m0 4v1m0 22v1m0 1v1m0 22v5m2 -78v1m0 13v1m0 16v2m0 7v1m0 21v1m0 3v1m0 6v1m0 2v1m0 10v1m0 3v3m0 2v1m2 -90v3m0 1v2m0 1v1m0 7v1m0 9v1m0 53v1m0 4v1m0 4v1m0 5v1m2 -106v1m0 7v1m0 4v1m0 6v1m0 4v1m0 2v2m0 7v1m0 1v1m0 2v1m0 7v1m0 1v1m0 6v1m0 31v1m2 -91v1m0 5v1m0 1v2m0 34v1m0 19v1m0 22v1m0 3v1m0 6v1m2 -97v1m0 3v1m0 1v2m0 5v1m0 52v3m0 31v1m0 1v2m2 -106v1m0 1v1m0 3v1m0 2v1m0 13v1m0 3v1m0 9v1m0 6v1m0 6v2m0 7v2m0 2v1m0 4v1m0 6v1m0 4v1m0 9v1m0 1v1m2 -100v1m0 3v1m0 1v2m0 2v1m0 85v1m0 1v1m0 3v1m0 1v1m0 1v1m0 2v2m0 3v1m0 1v1m2 -107v2m0 1v1m0 5v1m0 3v1m0 1v1m0 1v2m0 14v1m0 3v1m0 1v4m0 3v1m0 3v2m0 3v1m0 2v2m0 2v1m0 11v1m2 -44v1m0 12v1m0 1v3m0 22v1m0 2v1m0 17v1m2 -93v1m0 3v1m0 2v1m0 1v1m0 13v2m0 7v1m0 39v1m0 7v1m2 -69v1m0 8v1m0 20v1m0 1v2m0 6v1m0 6v1m0 3v1m0 13v1m0 5v1m0 4v2m0 1v2m0 5v1m0 4v1m2 -103v1m0 1v1m0 4v1m0 1v1m0 3v1m0 4v1m0 13v1m0 25v1m0 1v1m0 3v1m0 14v2m0 2v2m0 4v1m0 1v2m0 7v2m2 -101v1m0 1v1m0 4v1m0 10v1m0 3v1m0 10v1m0 2v1m0 2v1m0 1v1m0 3v3m0 3v1m0 12v1m0 10v1m0 2v3m0 9v1m0 1v1m0 3v2m2 -104v2m0 2v1m0 1v1m0 8v1m0 3v1m0 13v2m0 4v2m0 1v1m0 6v1m0 1v1m0 4v1m0 19v1m0 7v1m0 10v2m0 8v2m2 -99v3m0 1v1m0 3v1m0 7v3m0 65v3m2 -86v1m0 2v1m0 2v1m0 20v1m0 4v1m0 8v1m0 35v1m0 3v1m0 1v1m0 2v3m0 2v1m2 -92v1m0 6v1m0 16v1m0 2v1m0 8v1m0 4v4m0 1v1m0 4v1m0 6v1m0 13v1m0 4v1m0 6v1m0 3v1m0 2v1m2 -86v1m0 6v2m0 2v1m0 1v1m0 5v1m0 1v1m0 15v1m0 2v1m0 6v1m0 1v2m0 1v1m0 12v2m0 3v1m0 1v1m0 5v1m0 1v1m0 1v1m0 17v1m2 -109v1m0 4v1m0 1v2m0 5v3m0 15v1m0 6v2m0 4v1m0 2v1m0 1v1m0 2v1m0 19v1m0 13v2m2 -87v1m0 1v2m0 3v1m0 9v1m0 37v3m0 13v1m0 8v1m0 1v1m0 4v1m0 12v1m2 -104v2m0 5v1m0 5v1m0 78v2m0 1v1m0 3v1m0 1v1m0 1v1m0 11v1m2 -116v1m0 2v1m0 1v2m0 9v1m0 17v1m0 15v1m0 34v2m0 4v1m0 3v1m0 4v1m0 1v2m2 -96v1m0 1v2m0 7v1m0 2v1m0 6v1m0 3v1m0 1v1m0 1v1m0 1v5m0 2v1m0 2v1m0 4v1m0 1v1m0 4v1m0 1v1m0 7v1m0 9v3m0 1v2m0 1v1m0 1v1m0 3v2m0 1v1m0 4v1m2 -101v1m0 2v1m0 1v1m0 8v1m0 5v1m0 21v2m0 1v1m0 4v1m0 5v1m0 12v1m0 14v1m2 -82v1m0 3v1m0 3v1m0 2v1m0 10v1m0 2v1m0 2v1m0 8v1m0 15v1m0 29v2m0 1v1m0 1v1m2 -81v1m0 5v1m0 2v1m0 8v1m0 60v2m0 3v1m0 1v1m0 1v2m0 1v1m2 -89v1m0 4v1m0 6v4m0 3v1m0 17v1m0 43v1m0 3v1m0 4v1m0 3v1m2 -100v1m0 2v1m0 3v1m0 1v1m0 1v1m0 9v1m0 13v1m0 14v1m0 6v1m0 1v2m0 3v1m0 11v1m0 3v1m0 3v1m0 8v1m0 6v1m0 1v1m0 2v1m2 -104v1m0 1v1m0 1v1m0 3v1m0 7v3m0 11v1m0 1v2m0 1v1m0 5v1m0 30v1m0 4v2m0 7v1m2 -93v1m0 3v3m0 3v1m0 1v2m0 31v2m0 2v1m0 4v1m0 8v1m0 4v1m0 2v3m0 7v1m0 2v1m0 6v1m0 1v2m2 -91v1m0 2v2m0 43v1m0 46v1m0 3v2m0 1v2m2 -104v2m0 4v1m0 1v1m0 8v3m0 21v1m0 8v1m0 13v1m0 5v1m0 4v1m0 6v2m0 6v1m2 -88v1m0 4v1m0 2v1m0 4v1m0 2v1m0 4v2m0 12v1m0 13v1m0 15v1m0 3v1m0 1v2m0 2v1m0 2v1m0 2v1m0 2v1m0 1v2m0 3v1m2 -94v1m0 15v2m0 3v1m0 8v2m0 3v3m0 28v3m0 1v1m0 7v1m0 4v1m0 1v1m0 2v1m0 1v1m2 -101v1m0 6v2m0 103v1m0 2v1m2 -115v4m0 1v4m0 1v1m0 44v1m0 50v2m0 2v1m0 2v1m2 -105v3m0 1v1m0 1v1m0 1v2m0 7v2m0 22v1m0 6v1m0 8v2m0 2v1m0 1v1m0 7v2m0 1v2m0 3v1m0 9v1m2 -96v1m0 6v2m0 7v1m0 9v1m0 28v1m0 18v1m0 3v1m0 4v1m0 9v1m0 6v1m0 2v1m0 4v1m2 -108v2m0 4v1m0 2v1m0 1v2m0 1v2m0 4v1m0 3v1m0 17v1m0 6v1m0 7v1m0 3v1m0 11v1m0 11v1m0 2v1m0 9v1m0 13v1m2 -106v1m0 4v1m0 2v1m0 6v1m0 1v1m0 3v1m0 18v1m0 1v1m0 11v1m0 5v1m0 10v1m0 4v1m0 1v1m0 9v1m0 2v1m0 3v4m2 -106v2m0 20v1m0 1v1m0 16v1m0 49v1m0 4v3m0 5v1m2 -90v1m0 4v2m0 8v1m0 3v2m0 2v1m0 5v1m0 1v1m0 1v1m0 1v1m0 2v1m0 2v1m0 14v1m0 1v1m0 1v1m0 6v1m0 1v1m0 2v1m0 18v3m0 4v1m2 -113v1m0 2v1m0 3v1m0 1v1m0 2v1m0 6v1m0 10v1m0 9v1m0 31v1m2 -71v3m0 2v1m0 2v2m0 1v1m0 6v1m0 12v1m0 68v1m0 1v1m2 -91v1m0 7v1m0 1v1m0 6v1m0 2v1m0 5v1m0 1v2m0 26v1m0 4v1m0 2v2m0 14v1m0 3v1m0 9v1m2 -115v3m0 1v1m0 1v1m0 3v2m0 1v3m0 1v1m0 2v1m0 5v3m0 31v1m0 17v1m0 25v1m0 2v1m0 2v3m0 1v1m0 1v2m0 3v1m2 -122v1m0 109v1m0 10v1m2 -103v2m0 4v1m0 1v1m0 3v1m0 1v1m0 4v2m0 3v1m0 1v1m0 4v1m0 11v1m0 49v1m0 2v1m0 1v2m0 1v2m2 -122v2m0 3v2m0 3v2m0 1v3m0 78v1m0 17v1m0 4v1m0 5v1m2 -121v2m0 1v1m0 3v3m0 7v1m0 20v1m0 42v1m0 5v1m0 5v1m0 11v1m0 2v1m0 1v1m0 2v2m2 -119v1m0 2v2m0 7v1m0 1v1m0 1v1m0 44v1m0 49v1m0 1v1m0 1v1m2 -116v1m0 5v1m0 14v1m0 7v1m0 1v1m0 18v1m0 1v1m0 3v1m0 4v2m0 4v1m0 10v1m0 13v2m0 9v1m0 4v1m0 7v1m0 1v1m2 -119v1m0 8v4m0 6v1m0 1v1m0 5v3m0 14v1m0 1v1m0 2v1m0 1v2m0 2v2m0 4v3m0 3v1m0 23v1m0 4v1m0 1v2m0 1v2m0 1v2m0 2v1m0 1v1m0 4v1m2 -117v1m0 2v1m0 91v1m0 18v1m0 2v1m0 7v2m0 4v1m2 -127v1m0 4v1m0 10v1m0 10v1m0 50v1m0 4v2m0 2v2m0 5v1m0 3v2m0 6v2m0 2v1m2 -107v1m0 3v1m0 2v1m0 4v1m0 6v3m0 83v1m0 1v1m0 8v1m0 1v1m0 1v1m0 1v1m2 -128v1m0 2v1m0 4v1m0 17v1m0 24v1m0 50v1m0 5v2m0 1v1m2 -112v1m0 2v1m0 6v1m0 5v1m0 33v2m0 13v1m0 3v3m0 5v1m0 1v2m0 2v1m0 6v1m0 3v1m0 6v2m0 15v2m0 2v2m2 -126v1m0 3v1m0 1v1m0 5v1m0 106v1m0 3v1m0 5v2m0 3v2m2 -125v1m0 1v1m0 2v1m0 2v1m0 6v1m0 1v3m0 2v1m0 8v2m0 2v3m0 1v1m0 6v1m0 18v5m0 1v2m0 2v1m0 2v2m0 6v1m0 2v1m0 3v1m0 12v1m2 -108v1m0 1v2m0 1v1m0 3v1m0 7v1m0 11v1m0 3v1m0 1v1m0 5v1m0 3v1m0 1v1m0 4v1m0 26v1m0 6v1m0 22v3m0 1v3m2 -122v1m0 96v1m0 28v1m2 -127v1m0 2v2m0 3v1m0 19v1m0 1v2m0 3v2m0 2v2m0 34v1m0 13v1m0 1v1m0 1v1m0 5v1m0 6v1m0 1v1m0 1v1m0 1v1m0 1v1m0 17v1m2 -131v3m0 92v1m2 -94v1m0 3v1m0 2v1m0 60v1m0 30v1m0 2v1m0 2v1m0 8v1m0 2v1m0 7v2m2 -129v3m0 6v1m0 44v1m0 43v1m0 26v2m0 1v1m2 -125v1m0 2v1m0 5v1m0 50v2m0 14v1m0 15v1m0 12v1m0 2v1m0 12v1m2 -115v1m0 1v1m0 8v1m0 7v1m0 2v1m0 18v1m0 7v1m0 10v2m0 22v2m0 6v1m0 7v3m0 1v1m0 2v3m2 -112v1m0 1v2m0 6v3m0 1v1m0 11v1m0 1v1m0 1v1m0 7v1m0 6v1m0 5v1m0 3v2m0 4v1m0 4v2m0 10v1m0 4v1m0 1v2m0 12v1m0 1v2m0 4v1m0 8v1m0 2v2m2 -124v1m0 2v2m0 60v1m0 1v1m0 4v1m0 8v1m0 6v1m0 14v1m0 18v1m0 5v1m2 -134v3m0 19v2m0 62v1m0 1v1m0 6v1m0 1v1m0 5v1m0 3v1m0 22v1m0 2v1m2 -127v1m0 2v1m0 2v1m0 8v1m0 20v1m0 88v1m0 1v1m2 -130v2m0 30v1m0 5v1m0 22v1m0 55v1m0 1v1m0 4v2m0 5v1m0 2v1m2 -122v1m0 9v2m0 2v1m0 2v1m0 7v1m0 1v1m0 1v1m0 59v1m0 24v2m2 -126v5m0 8v2m0 2v1m0 8v1m0 4v1m0 2v1m0 30v2m0 5v1m0 21v1m0 1v2m0 4v1m0 3v1m0 8v1m0 3v1m0 1v1m0 2v1m2 -121v1m0 13v1m0 7v1m0 62v1m0 2v1m0 2v1m0 3v1m0 1v1m0 4v1m0 1v3m0 17v1m0 4v1m0 1v1m2 -132v2m0 86v1m0 2v1m0 1v1m0 4v1m0 1v1m0 17v1m0 2v1m0 5v1m0 1v1m2 -116v1m0 3v1m0 4v1m0 4v1m0 4v1m0 2v2m0 27v1m0 6v1m0 30v1m0 6v1m0 3v1m2 -108v1m0 4v2m0 5v2m0 3v1m0 16v1m0 49v1m0 5v1m0 18v1m0 5v3m2 -111v1m0 20v1m0 41v1m0 7v1m0 41v2m0 1v3m2 -13v1m0 9v2m0 1v1m0 1v3m2 -128v1m0 85v1m0 1v1m0 7v1m0 1v1m0 2v1m0 2v1m0 9v1m0 2v1m0 5v1m2 -124v2m0 3v1m0 4v1m0 52v1m0 40v3m0 1v1m0 2v1m0 8v1m0 1v2m0 4v1m0 1v1m0 4v1m2 -135v1m0 1v1m0 5v1m0 19v1m0 45v1m0 2v1m0 1v1m0 7v1m0 3v1m0 4v1m0 21v2m0 3v2m2 -120v1m0 6v1m0 1v1m0 1v1m0 29v1m0 1v1m0 3v1m0 4v1m0 14v1m0 7v1m0 2v1m0 7v1m0 11v3m0 4v1m0 15v1m2 -107v2m0 47v1m0 1v2m0 4v2m0 4v1m0 1v1m0 7v1m0 11v1m0 4v4m0 5v2m2 -120v1m0 1v1m0 3v1m0 1v1m0 2v1m0 2v3m0 11v1m0 22v1m0 28v1m0 5v1m0 8v2m0 1v1m0 1v1m0 2v1m0 3v1m0 4v1m2 -108v3m0 5v1m0 6v1m0 8v3m0 26v1m0 21v2m0 6v1m0 13v1m0 12v3m0 3v1m0 2v1m2 -120v1m0 4v3m0 1v1m0 5v1m0 5v2m0 9v1m0 8v1m0 2v1m0 2v1m0 45v2m0 1v2m0 2v1m0 1v3m0 2v1m0 2v2m0 1v1m0 3v3m2 -119v2m0 8v1m0 40v2m0 6v3m0 1v1m0 2v1m0 4v1m0 2v1m0 1v1m0 3v1m0 1v1m0 3v1m0 3v1m0 8v1m0 1v1m0 1v1m0 2v1m0 3v1m0 1v1m0 2v2m0 1v1m2 -120v4m0 2v1m0 57v1m0 36v1m0 2v2m0 1v1m0 5v1m0 3v1m0 3v1m2 -122v1m0 2v1m0 2v2m0 1v2m0 6v1m0 2v1m0 1v2m0 17v1m0 2v1m0 20v1m0 12v1m0 4v1m0 1v1m0 1v2m0 5v1m0 7v1m0 4v1m0 4v2m0 11v1m2 -123v1m0 4v1m0 47v1m0 29v3m0 5v1m0 1v1m0 9v1m0 6v1m0 3v1m2 -120v2m0 4v1m0 3v1m0 38v1m0 1v1m0 3v3m0 3v1m0 17v2m0 34v2m2 -111v1m0 3v1m0 23v3m0 25v1m0 16v1m0 6v1m0 4v2m0 5v1m0 5v1m0 3v1m0 4v1m0 2v3m0 6v1m2 -84v2m0 15v2m0 4v1m0 4v1m0 8v2m0 11v2m0 12v1m0 1v1m0 3v2m0 12v1m2 -122v1m0 2v1m0 59v1m0 19v1m0 1v1m0 1v1m0 10v1m0 10v1m0 2v3m0 2v1m0 2v2m2 -121v2m0 1v1m0 9v2m0 2v1m0 14v1m0 39v1m0 1v1m0 1v1m0 13v1m0 6v1m0 1v1m0 1v3m0 2v2m0 8v4m2 -120v1m0 2v3m0 1v1m0 1v2m0 11v1m0 15v1m0 7v3m0 9v1m0 2v3m0 5v1m0 16v2m0 3v1m0 11v1m0 4v1m0 4v1m2 -112v1m0 2v1m0 1v1m0 4v2m0 1v1m0 46v1m0 16v1m0 21v1m0 7v2m0 2v2m0 3v1m0 3v1m0 4v1m2 -121v1m0 2v2m0 29v1m0 30v1m0 1v2m0 5v1m0 10v1m0 8v1m0 7v1m0 6v1m0 10v1m2 -124v1m0 1v2m0 2v1m0 32v2m0 3v1m0 7v1m0 6v1m0 9v1m0 2v1m0 4v2m0 9v1m0 2v1m0 5v1m0 4v1m0 2v3m0 2v1m0 2v2m0 1v1m2 -82v1m0 40v2m0 10v1m0 2v1m0 2v1m0 2v3m0 2v1m0 4v1m0 3v1m0 4v1m2 -109v2m0 2v1m0 20v1m0 3v1m0 1v1m0 70v1m0 4v5m2 -108v2m0 25v1m0 17v1m0 20v1m0 3v1m0 4v1m0 1v1m0 2v1m0 2v1m0 1v1m0 5v2m2 -91v2m0 1v1m0 39v1m0 20v1m0 10v1m0 15v1m2 -89v2m0 32v1m0 11v1m0 23v1m0 1v1m0 15v2m0 3v1m2 -88v1m0 1v1m0 24v1m0 1v1m0 3v1m0 3v1m0 4v1m0 10v1m0 2v1m0 9v1m0 4v1m0 8v2m0 7v1m0 2v1m2 -83v2m0 64v1m0 14v1m0 6v1m2 -97v1m0 1v1m0 6v1m0 1v1m0 1v1m0 1v1m0 7v1m0 2v1m0 1v4m0 3v1m0 2v1m0 3v2m0 3v1m0 3v2m0 3v1m0 4v4m0 1v2m0 2v2m2 -71v3m0 3v1m0 1v1m0 6v1m0 9v1m0 5v2m0 4v1m0 3v1m0 1v1m0 2v1m0 4v1m0 3v1m0 12v1m0 7v1m0 2v2m0 2v2m2 -87v1m0 1v1m0 2v1m0 5v1m0 11v1m0 9v1m0 16v1m0 20v4m0 3v1m0 3v1m0 4v1m2 -79v1m0 33v1m0 8v1m0 5v2m0 8v1m0 6v1m0 3v1m0 5v1m0 4v1m2 -86v1m0 24v1m0 10v1m0 4v1m0 2v1m0 17v1m0 4v1m0 2v1m0 2v1m0 1v1m0 1v1m0 7v1m2 -55v1m0 8v1m0 20v1m0 6v1m0 4v1m0 8v1m2 -80v1m0 25v1m0 9v1m0 1v1m0 11v2m0 1v2m0 1v4m0 2v1m0 8v2m0 2v1m0 2v1m2 -70v1m0 13v2m0 6v1m0 6v1m0 1v1m0 4v1m0 1v1m0 2v1m0 4v1m0 9v1m0 1v1m0 6v1m0 1v3m2 -74v1m0 2v2m0 23v2m0 4v1m0 7v1m0 5v1m0 3v1m0 1v1m0 4v1m0 2v1m0 3v1m0 1v1m0 1v2m0 1v1m2 -68v1m0 1v1m0 20v2m0 4v2m0 1v1m0 2v2m0 1v1m0 3v1m0 1v2m0 2v1m0 5v1m0 6v1m2 -68v2m0 7v2m0 7v1m0 7v1m0 6v1m0 2v3m0 2v1m0 2v2m0 7v1m0 3v1m0 19v1m2 -73v1m0 38v1m0 3v1m0 1v1m0 2v1m0 1v1m0 1v1m0 1v1m0 5v1m0 1v1m0 5v1m0 4v1m0 6v1m2 -79v1m0 1v2m0 29v1m0 7v1m0 13v1m0 4v1m0 1v1m0 2v1m0 4v3m2 -79v1m0 2v1m0 3v1m0 3v1m0 1v2m0 1v1m0 4v1m0 3v1m0 2v1m0 7v1m0 14v1m0 9v1m0 5v3m2 -61v1m0 5v1m0 1v2m0 2v2m0 4v2m0 5v1m0 4v1m0 3v2m0 2v1m0 6v3m0 1v1m0 5v1m2 -59v3m0 1v2m0 1v1m0 37v1m0 14v1m0 1v1m0 3v1m0 10v1m2 -25v1m0 4v1m0 2v1m0 2v2m2 -69v2m0 2v1m0 11v1m0 2v1m0 14v1m0 2v2m0 3v1m0 1v1m0 6v1m0 5v2m0 2v2m2 -62v2m0 5v1m0 54v3m0 1v1m0 1v1m0 2v1m0 1v1m2 -70v1m0 1v2m0 9v1m0 27v1m0 1v2m0 1v1m0 1v1m0 3v1m0 3v2m0 1v1m0 1v1m0 2v1m2 -65v1m0 22v1m0 3v1m0 1v1m0 1v1m0 5v1m0 2v1m0 2v1m0 14v2m2 -59v1m0 3v1m0 1v1m0 5v1m0 8v2m0 2v4m0 9v1m0 1v2m0 2v1m0 5v1m0 7v2m2 -57v1m0 1v3m0 9v1m0 7v1m0 8v1m0 13v1m0 3v1m0 2v1m0 7v1m0 1v1m0 5v1m2 -73v1m0 1v1m0 6v1m0 1v1m0 21v1m0 25v3m0 1v1m2 -69v1m0 2v2m0 50v1m0 1v2m0 5v1m0 1v2m0 6v1m0 2v1m0 2v1m0 2v1m2 -84v2m0 1v1m0 2v2m0 1v2m0 1v1m0 4v1m0 18v1m0 5v1m0 2v2m0 3v1m0 1v1m0 9v2m0 2v1m2 -58v2m0 37v1m0 12v1m0 11v1m0 5v2m2 -62v1m0 12v1m0 16v1m0 13v1m0 5v1m0 3v1m2 -71v1m0 2v1m0 1v1m0 23v1m0 15v2m0 1v1m0 4v1m0 5v1m0 1v3m0 2v1m0 3v1m0 9v1m2 -81v1m0 1v1m0 1v1m0 2v1m0 30v1m0 5v1m0 1v1m0 2v1m0 4v1m0 7v1m2 -63v2m0 1v2m0 1v1m0 1v1m0 1v3m0 2v1m0 15v1m0 1v1m2 -34v1m0 6v1m0 5v1m0 16v1m0 12v1m0 5v1m0 3v1m0 1v1m0 5v1m0 5v2m0 1v1m2 -72v2m0 2v2m0 3v1m0 1v1m0 31v1m0 1v1m0 8v1m0 4v1m0 1v1m0 1v1m2 -57v1m0 15v1m0 2v1m0 10v2m0 5v1m0 14v1m0 1v2m0 1v1m0 2v1m0 5v1m2 -76v2m0 10v1m0 15v1m0 7v1m0 4v1m0 16v1m0 8v2m0 4v3m0 5v1m2 -80v5m0 2v1m0 3v1m0 3v1m0 6v1m0 12v1m0 25v4m0 1v1m0 6v1m0 2v1m2 -79v2m0 1v1m0 1v3m0 1v2m0 4v1m0 1v1m0 6v1m0 9v1m0 2v2m0 1v1m0 1v1m0 2v4m0 1v3m0 2v3m0 13v1m2 -72v3m0 1v1m0 1v1m0 1v2m0 1v1m0 2v2m0 3v1m0 3v1m0 6v1m0 1v2m0 4v1m0 14v1m0 1v2"/><path stroke="#ff391d" d="M79 267v1m0 10v1m0 5v1m0 6v1m0 1v1m0 3v2m0 3v1m0 1v1m0 9v2m0 4v1m0 4v1m0 3v1m2 -67v2m0 22v1m0 7v1m0 2v2m0 8v1m0 5v2m0 7v1m0 12v1m2 -58v1m0 1v1m0 1v1m0 1v1m0 9v1m0 1v1m0 8v1m2 -35v1m0 17v1m0 13v1m0 1v3m0 8v1m2 -48v2m0 6v1m0 2v1m0 1v1m0 3v1m0 6v1m0 6v1m0 4v1m0 2v2m0 5v1m0 4v1m2 -54v2m0 45v2m0 1v2m0 1v2m0 7v1m2 -66v1m0 1v3m0 8v1m0 4v2m0 4v1m0 1v1m0 3v1m0 1v3m0 3v1m0 1v1m0 1v1m0 1v1m0 8v1m2 -51v1m0 3v1m0 4v1m0 1v2m0 1v1m0 4v1m0 9v1m0 1v3m0 2v1m0 3v1m0 6v3m2 -32v2m0 7v1m0 11v1m0 2v1m2 -41v1m0 22v1m0 3v1m0 3v1m2 -36v1m0 1v4m0 6v1m0 2v1m0 4v2m0 1v1m0 7v1m2 -11v2m0 8v1m2 -30v1m0 6v1m0 1v1m0 4v2m0 2v1m0 1v1m0 2v1m0 3v1m0 1v1m0 2v1m0 4v1m0 8v1m0 1v2m0 4v1m2 -60v1m0 1v2m0 5v1m0 2v2m0 1v1m0 2v1m0 4v1m0 1v2m0 5v1m0 1v1m0 20v1m0 4v1m0 4v1m0 5v1m2 -64v1m0 3v2m0 1v2m0 2v1m0 2v1m0 3v1m2 -22v1m0 2v1m0 16v3m0 6v2m0 6v4m2 -41v2m0 2v1m0 5v1m0 5v2m0 1v2m0 2v2m0 1v1m0 6v1m0 19v1m2 -53v1m0 2v1m0 5v2m0 3v1m0 2v1m0 8v1m0 4v1m2 -30v1m0 3v1m0 1v1m0 8v2m0 6v1m0 4v1m0 3v1m2 -17v1m0 1v1m0 1v1m0 5v1m0 1v1m0 4v1m0 2v2m0 1v1m2 -43v1m0 1v1m0 1v1m0 2v1m0 1v2m0 3v1m0 9v3m0 6v3m0 3v1m0 7v1m0 3v2m2 -52v1m0 2v1m0 3v1m0 7v1m0 5v1m0 3v2m0 3v1m0 3v2m0 3v1m0 2v1m0 3v3m0 4v1m2 -52v1m0 19v1m0 2v1m0 3v1m0 1v1m0 1v2m0 3v2m0 5v1m2 -46v1m0 2v1m0 2v5m0 1v1m0 6v1m0 14v1m2 -22v2m0 5v2m0 17v2m0 1v1m2 -33v1m0 3v1m0 6v1m0 3v2m0 1v1m0 2v1m0 2v2m0 2v5m2 -37v1m0 15v1m0 3v1m0 3v1m0 2v1m0 5v1m2 -37v1m0 16v1m0 1v1m0 17v2m0 3v1m0 17v4m2 -59v1m0 3v1m0 4v1m0 2v2m0 2v1m0 1v1m0 1v1m0 1v1m0 3v2m0 1v1m0 11v1m2 -43v1m0 1v1m0 3v1m0 2v2m0 4v2m0 8v1m0 5v1m0 2v1m2 -35v1m0 3v1m0 1v2m0 4v1m2 -10v1m0 5v1m0 13v1m0 6v1m2 -19v1m0 1v2m0 1v1m0 3v1m0 1v1m0 2v1m0 3v1m2 -24v1m0 4v2m0 8v3m0 5v1m0 3v1m2 -24v1m0 1v1m0 2v2m0 6v1m0 1v1m0 8v1m0 6v1m2 -38v1m0 2v1m0 5v3m0 1v1m0 12v1m0 1v2m0 11v1m2 -41v2m0 4v1m0 9v2m0 6v1m2 -20v1m0 1v1m0 14v1m2 -21v1m0 3v1m0 4v1m0 4v1m0 1v5m0 6v1m0 3v1m2 -25v2m0 1v2m0 2v2m0 6v1m0 1v2m2 -26v1m0 2v1m0 1v1m0 5v1m0 2v1m0 1v2m0 7v1m2 -17v1m0 10v1m0 3v1m2 -24v1m0 4v1m0 6v2m2 -7v3m0 7v1m0 4v1m2 -19v1m0 14v1m2 -8v1m0 1v1m0 2v1m0 2v1m6 -6v1m0 1v1m0 2v2m0 2v1m0 10v1m4 -33v1m0 3v1m0 2v1m0 5v1m0 4v1m0 2v1m0 5v1m0 10v1m2 -38v1m0 16v1m2 -14v2m0 5v1m4 -16v1m0 1v1m0 1v3m0 7v1m0 2v1m2 -21v3m0 6v1m0 5v1m0 1v1m0 1v1m4 -24v1m0 6v1m0 4v3m0 1v1m2 -20v1m0 7v1m0 1v1m0 2v1m2 -19v1m0 1v1m0 3v1m0 3v1m0 1v1m0 2v1m0 3v1m2 -21v1m0 2v1m0 3v1m0 2v1m0 1v1m2 -26v1m0 1v1m0 7v1m0 2v1m0 9v2m2 -15v1m0 3v1m2 -16v4m0 1v2m0 21v1m0 4v1m0 11v1m2 -49v1m0 1v1m0 4v1m0 4v1m0 2v2m0 1v3m2 -11v4m0 4v1m0 4v1m2 -25v1m0 2v1m0 9v2m0 1v1m0 4v1m0 2v3m0 4v1m2 -44v1m0 20v1m0 2v1m0 15v1m0 7v1m0 5v1m2 -55v1m0 1v1m0 3v2m0 2v1m0 1v1m0 1v3m0 3v1m0 4v2m0 3v1m0 6v1m2 -42v1m0 4v1m0 4v1m0 3v1m0 2v1m0 2v1m0 3v2m0 1v1m0 1v1m0 7v1m0 3v1m2 -42v1m0 9v1m0 1v2m0 2v2m0 5v1m0 10v1m0 8v1m0 1v1m0 5v1m0 3v1m2 -63v2m0 4v1m0 12v1m0 5v1m0 2v1m0 3v2m0 8v2m2 -38v1m0 1v4m0 4v1m0 2v1m2 -23v4m0 1v1m0 17v1m0 4v1m0 11v2m0 1v1m0 1v1m0 4v1m0 2v2m0 1v1m0 1v1m0 1v1m2 -58v2m0 20v1m0 2v1m0 6v1m0 3v2m0 17v1m2 -59v2m0 2v2m0 23v1m0 10v1m0 1v1m0 2v1m0 4v1m0 14v2m0 2v1m2 -57v1m0 2v1m0 5v1m0 1v1m0 1v1m0 1v1m2 -34v1m0 1v1m0 38v2m0 5v1m0 1v1m0 6v1m2 -57v1m0 1v1m0 1v1m0 1v1m0 22v2m0 12v2m2 -47v2m0 1v1m0 3v2m0 1v1m0 14v2m0 3v3m0 1v1m0 1v1m0 2v1m0 3v2m0 2v3m0 8v3m2 -61v1m0 6v1m0 3v1m0 8v1m0 5v1m0 3v1m0 1v1m0 1v1m0 1v1m0 1v4m0 8v1m2 -55v2m0 4v1m0 26v1m0 2v1m0 4v2m0 9v1m0 1v1m0 1v2m0 4v1m0 2v1m0 9v1m2 -77v1m0 1v1m0 2v1m0 5v1m0 22v2m0 1v1m0 5v4m0 1v1m0 1v1m2 -45v1m0 4v1m0 14v1m0 5v3m0 7v2m0 2v1m0 1v2m0 2v1m0 4v1m2 -56v1m0 1v1m0 2v2m0 4v1m0 12v1m0 6v1m0 2v2m0 7v1m0 1v2m2 -55v1m0 9v1m0 3v1m0 1v2m0 8v1m0 1v1m0 7v2m0 2v1m0 5v1m0 10v1m0 9v1m2 -56v1m0 5v1m0 1v2m0 10v1m0 15v1m2 -51v1m0 1v3m0 8v3m0 1v1m0 1v1m0 4v1m0 8v1m0 5v1m0 2v1m0 1v3m0 1v1m0 12v1m2 -62v1m0 1v4m0 3v1m0 3v1m0 3v1m0 38v1m0 2v1m0 1v2m2 -60v1m0 2v1m0 1v1m0 4v1m0 5v1m0 10v1m0 4v1m0 2v1m0 9v1m0 5v1m2 -60v4m0 3v2m0 5v1m0 3v1m0 3v1m0 5v1m0 14v1m0 2v1m0 2v2m0 2v2m0 2v1m0 10v1m2 -71v2m0 4v1m0 49v1m0 13v1m0 2v1m0 11v1m2 -87v1m0 1v1m0 1v1m0 1v1m0 1v1m0 23v1m0 7v3m0 3v1m0 8v1m0 5v1m0 2v1m2 -63v2m0 45v2m0 8v1m0 2v1m0 17v1m2 -86v3m0 1v1m0 4v1m0 1v1m0 64v1m0 5v2m0 2v1m2 -87v2m0 1v1m0 5v1m0 3v3m0 1v2m0 1v2m0 2v2m0 7v1m0 2v1m0 14v1m0 3v1m2 -63v2m0 6v2m0 5v1m0 23v1m0 8v1m0 10v1m0 3v2m0 3v2m0 3v1m0 2v1m0 5v1m0 10v1m2 -96v1m0 9v2m0 1v1m0 10v1m0 5v2m0 2v2m0 3v3m0 11v1m0 8v1m0 4v1m0 3v1m2 -60v1m0 5v1m0 3v1m0 7v1m0 6v3m0 5v1m0 5v1m0 8v1m0 1v2m0 9v1m0 5v1m0 3v1m0 2v1m2 -77v1m0 1v1m0 6v1m0 25v1m0 9v1m0 11v2m0 3v1m0 2v1m0 7v1m0 1v2m2 -94v4m0 1v1m0 2v1m0 1v1m0 10v3m0 2v2m0 1v1m0 2v3m0 7v1m0 3v1m0 2v2m0 23v1m0 1v1m0 1v1m0 3v1m0 8v3m2 -70v1m0 3v1m0 10v2m0 9v2m0 5v1m0 1v1m0 3v1m0 4v1m2 -52v1m0 1v1m0 1v1m0 2v1m0 6v2m0 2v1m0 3v1m0 2v1m0 1v1m0 12v1m0 1v1m0 1v1m0 6v1m2 -66v2m0 4v3m0 5v1m0 4v1m0 1v1m0 2v1m0 1v2m0 18v1m0 3v1m0 18v3m2 -64v1m0 4v1m0 8v1m0 4v1m0 4v1m0 2v2m0 9v1m0 3v1m0 7v1m0 5v1m0 5v1m0 2v2m2 -57v1m0 1v1m0 2v1m0 4v2m0 6v1m0 2v1m0 1v1m0 3v1m0 4v1m0 15v1m2 -64v1m0 2v1m0 7v1m0 1v1m0 49v1m0 1v1m0 1v2m0 1v2m0 2v2m0 2v2m0 3v1m0 1v1m2 -83v1m0 10v1m0 3v1m0 17v1m0 16v1m0 10v1m2 -60v1m0 7v1m0 3v1m0 3v1m0 3v1m0 20v1m0 6v1m0 1v1m0 2v1m0 3v1m0 1v1m2 -65v1m0 1v1m0 8v1m0 3v2m0 2v1m0 1v1m0 9v1m0 6v1m0 2v2m0 13v1m0 4v1m0 3v1m0 6v1m0 1v1m0 9v1m2 -88v2m0 2v1m0 1v1m0 12v1m0 6v1m0 3v2m0 2v1m0 3v1m0 2v4m0 2v2m0 6v1m0 1v1m0 3v1m0 2v2m0 21v1m0 1v1m2 -88v2m0 4v1m0 22v1m0 1v1m0 7v1m0 13v2m0 7v2m0 5v1m0 1v2m0 2v2m0 2v1m0 2v1m2 -72v1m0 2v1m0 1v1m0 6v2m0 2v1m0 9v1m0 7v2m0 5v1m0 1v1m0 7v1m0 6v1m2 -67v1m0 7v3m0 1v1m0 4v1m0 6v3m0 1v2m0 1v4m0 1v1m0 7v1m0 20v1m0 1v1m0 3v1m2 -79v4m0 1v1m0 3v2m0 6v1m0 2v1m0 2v1m0 2v1m0 2v2m0 2v2m0 1v1m0 2v1m0 5v3m0 12v2m2 -62v1m0 2v1m0 1v2m0 11v1m0 1v1m0 1v2m0 1v1m0 1v1m0 9v1m0 3v1m0 2v1m0 5v1m0 8v1m0 7v1m2 -63v1m0 2v1m0 6v3m0 8v2m0 7v1m0 6v1m0 2v1m0 3v1m0 7v1m0 5v1m2 -67v1m0 1v1m0 5v1m0 1v2m0 8v1m0 14v1m0 7v1m0 4v1m0 3v2m0 8v1m0 10v1m0 1v1m0 3v1m2 -71v1m0 1v2m0 8v1m0 1v1m0 3v5m0 1v3m0 6v1m0 3v1m0 2v1m0 3v1m0 1v1m0 6v1m0 1v1m0 6v1m0 7v1m2 -87v1m0 2v1m0 5v1m0 3v2m0 4v2m0 5v1m0 1v1m0 2v3m0 1v2m0 1v4m0 3v6m0 10v1m0 6v1m0 3v2m0 3v2m0 8v1m2 -90v2m0 2v4m0 4v1m0 4v3m0 2v1m0 5v1m0 5v1m0 7v1m0 17v1m0 13v2m0 11v1m2 -75v1m0 1v4m0 3v1m0 7v3m0 4v2m0 1v1m0 6v1m0 2v1m0 5v1m0 4v2m0 24v1m2 -80v1m0 8v2m0 16v1m0 5v1m0 2v1m0 8v1m0 14v1m0 3v1m2 -67v1m0 8v1m0 6v1m0 4v2m0 3v1m0 2v1m0 4v4m0 1v1m0 4v2m0 7v2m0 2v1m0 14v1m2 -71v1m0 5v2m0 2v1m0 1v3m0 4v1m0 3v2m0 14v1m0 10v1m0 1v2m0 1v2m0 4v2m0 22v2m2 -85v1m0 9v2m0 10v1m0 1v1m0 3v1m0 4v2m0 1v2m0 1v1m0 1v1m0 2v1m0 1v3m0 2v2m0 8v1m0 14v2m2 -85v1m0 32v1m0 2v1m0 1v1m0 2v1m0 1v1m0 1v1m0 1v2m0 10v2m0 5v2m0 7v2m0 11v1m2 -90v1m0 7v1m0 7v1m0 3v1m0 8v1m0 1v2m0 5v1m0 7v1m0 4v1m0 2v1m0 7v1m0 5v3m2 -52v1m0 9v1m0 14v1m0 3v1m0 3v1m0 7v1m0 1v1m0 3v1m0 1v1m0 11v1m0 3v1m0 4v1m0 1v2m2 -89v1m0 3v2m0 2v1m0 2v1m0 11v1m0 2v3m0 2v1m0 8v1m0 3v2m0 2v1m0 15v1m2 -65v1m0 1v1m0 5v2m0 2v1m0 8v1m0 4v1m0 8v1m0 2v1m0 9v1m0 4v1m0 9v2m0 3v1m0 3v1m0 5v1m0 1v1m2 -86v1m0 12v1m0 2v2m0 12v1m0 5v4m0 1v1m0 3v3m0 4v2m0 8v1m2 -28v1m0 3v1m0 6v1m0 2v1m0 7v1m0 3v1m0 1v1m0 4v1m0 3v2m0 7v1m2 -80v1m0 1v1m0 5v2m0 8v1m0 5v1m0 4v1m0 2v2m0 3v1m0 4v2m0 6v2m0 6v1m0 7v1m0 1v1m2 -68v1m0 1v1m0 25v1m0 6v1m0 3v1m0 16v1m0 14v1m2 -75v1m0 4v1m0 4v1m0 2v1m0 2v2m0 2v1m0 16v1m0 1v1m0 8v1m0 1v1m0 4v1m0 6v2m0 4v1m0 1v1m2 -73v1m0 6v1m0 12v2m0 9v3m0 2v1m0 3v1m0 12v1m0 2v1m0 4v1m2 -69v1m0 5v2m0 3v1m0 6v1m0 3v1m0 2v5m0 5v1m0 18v1m0 1v1m0 3v2m0 3v1m0 4v1m0 16v1m0 1v1m0 3v1m0 18v1m2 -100v1m0 1v1m0 2v1m0 3v1m0 15v1m0 1v1m0 3v2m0 1v1m0 10v1m0 7v1m2 -51v2m0 1v1m0 5v1m0 15v1m0 1v1m0 4v1m0 1v1m0 18v1m0 2v1m0 3v2m0 2v1m2 -78v1m0 7v3m0 1v1m0 1v1m0 4v1m0 6v1m0 8v3m0 4v1m0 2v1m0 2v1m0 5v1m0 10v2m0 2v1m0 5v1m0 7v1m0 1v4m0 4v2m0 1v1m0 1v1m0 2v1m2 -102v1m0 2v1m0 1v1m0 3v2m0 6v1m0 32v3m0 1v1m0 19v1m0 8v1m0 1v1m0 1v1m0 2v1m0 1v1m0 8v2m2 -89v3m0 6v1m0 8v1m0 3v2m0 1v1m0 14v1m0 2v2m0 6v3m0 1v1m0 7v1m0 1v1m0 5v2m2 -83v1m0 11v1m0 1v1m0 4v2m0 8v1m0 2v1m0 3v1m0 2v2m0 5v2m0 26v1m2 -81v1m0 60v1m0 23v1m0 10v1m2 -88v1m0 2v1m0 9v1m0 15v1m0 2v2m0 3v1m0 2v2m0 1v1m0 4v1m0 5v2m0 10v1m0 2v1m0 3v1m0 4v2m0 3v3m2 -74v1m0 4v2m0 1v1m0 5v1m0 5v2m0 1v1m0 4v1m0 1v5m0 1v1m0 1v1m0 2v1m0 1v1m0 2v2m0 20v1m0 1v1m2 -73v1m0 2v1m0 2v1m0 8v2m0 7v1m0 15v2m0 1v1m0 4v2m0 1v1m0 4v1m2 -74v1m0 1v3m0 3v1m0 1v1m0 2v2m0 19v1m0 1v3m0 3v1m0 1v2m0 5v1m0 4v1m0 1v2m0 1v1m0 4v1m0 8v2m0 1v1m0 1v1m0 3v1m0 1v1m0 2v1m0 1v1m0 3v1m2 -90v1m0 4v1m0 9v1m0 2v2m0 6v1m0 10v1m0 1v1m0 11v1m0 6v1m0 4v1m0 21v1m0 1v1m2 -74v2m0 3v1m0 6v2m0 2v1m0 2v1m0 1v2m0 3v1m0 4v2m0 5v1m0 1v1m0 1v1m0 3v3m0 11v1m0 2v1m0 4v1m2 -88v2m0 1v1m0 5v1m0 6v1m0 22v3m0 2v3m0 1v2m0 10v2m0 4v2m0 11v1m0 4v1m0 1v1m0 1v1m0 1v2m0 1v2m2 -94v3m0 8v1m0 2v3m0 4v1m0 2v1m0 7v1m0 15v1m0 8v1m0 16v1m0 1v3m0 3v5m0 1v1m0 2v2m0 2v4m0 4v1m2 -104v2m0 2v1m0 2v1m0 1v3m0 1v3m0 2v1m0 2v1m0 1v1m0 6v1m0 1v2m0 1v1m0 4v1m0 3v2m0 1v1m0 3v1m0 3v1m0 3v1m0 3v1m0 7v2m0 1v2m0 1v1m0 3v1m0 9v1m0 6v1m2 -106v1m0 5v2m0 3v1m0 1v1m0 2v1m0 3v1m0 6v1m0 13v1m0 4v2m0 33v1m0 7v1m0 2v1m0 4v1m0 1v1m0 1v1m0 3v1m0 4v1m2 -106v1m0 6v1m0 5v1m0 5v1m0 13v2m0 2v2m0 7v2m0 2v1m0 1v1m2 4v1m0 3v2m0 1v2m0 1v1m0 1v1m0 9v1m2 -78v1m0 1v1m0 1v1m0 6v1m0 7v1m0 15v2m0 4v1m0 4v1m0 2v1m0 4v2m0 1v2m0 2v1m0 1v2m0 1v2m0 6v1m0 1v1m0 5v2m2 -72v1m0 6v1m0 1v1m0 2v1m0 11v1m0 2v1m0 9v1m0 1v2m0 2v3m0 1v1m0 1v1m0 9v1m0 1v1m0 1v1m0 1v1m0 4v2m0 2v3m0 2v1m0 5v1m2 -85v2m0 1v2m0 1v1m0 17v1m0 3v2m0 3v1m0 10v2m0 14v1m0 1v2m0 1v1m0 8v1m0 16v1m2 -103v1m0 11v2m0 1v3m0 4v1m0 5v1m0 3v1m0 2v1m0 2v1m0 2v1m0 1v1m0 1v1m0 5v1m0 4v1m0 2v1m0 4v1m0 6v1m0 2v2m2 -70v2m0 4v2m0 1v2m0 2v1m0 2v2m0 14v1m0 4v1m0 3v1m0 1v1m0 4v1m0 7v3m0 11v1m0 5v4m0 7v2m0 3v1m2 -77v1m0 6v1m0 25v1m0 7v1m0 1v1m0 5v1m0 7v1m0 3v1m0 7v1m0 2v1m2 -73v1m0 7v1m0 1v2m0 1v1m0 4v2m0 13v1m0 4v2m0 17v2m2 -68v1m0 1v1m0 4v1m0 2v1m0 6v1m0 1v2m0 1v1m0 2v1m0 4v1m0 5v1m0 1v1m0 2v1m0 6v1m0 3v1m0 5v2m0 6v2m0 1v1m2 -63v1m0 1v1m0 10v1m0 8v1m0 3v1m0 5v1m0 2v2m0 4v1m0 7v1m0 1v1m0 1v2m0 4v1m2 -76v3m0 1v1m0 2v1m0 1v3m0 3v2m0 1v1m0 5v1m0 2v1m0 1v1m0 1v6m0 2v1m0 4v2m0 1v1m0 7v1m0 13v2m0 7v3m0 2v2m2 -79v1m0 7v1m0 3v2m0 31v1m0 2v1m0 5v1m0 8v1m0 9v1m0 4v2m0 4v1m2 -91v4m0 5v1m0 2v1m0 1v1m0 11v1m0 20v1m0 12v1m0 20v2m0 11v2m0 1v1m2 -97v1m0 2v1m0 4v2m0 1v1m0 2v2m0 10v2m0 8v2m0 5v1m0 1v1m0 6v1m0 1v1m0 3v1m0 8v2m0 2v1m0 4v1m0 1v2m0 4v2m2 -76v1m0 2v1m0 2v2m0 6v1m0 5v1m0 3v1m0 5v2m0 4v2m0 1v1m0 4v1m0 19v1m0 5v1m2 -81v1m0 1v1m0 2v1m0 2v1m0 5v1m0 9v1m0 3v1m0 4v1m0 4v2m0 12v1m0 12v1m0 12v1m0 2v1m0 10v1m0 5v1m2 -99v1m0 3v1m0 1v1m0 1v1m0 5v3m0 1v1m0 5v1m0 3v1m0 1v2m0 1v1m0 40v1m0 1v1m0 1v1m0 2v2m2 -76v1m0 4v3m0 8v1m0 4v1m0 2v1m0 2v1m0 3v1m0 6v1m0 8v1m0 22v1m0 9v1m0 3v1m0 2v1m0 4v1m2 -93v1m0 1v2m0 2v1m0 1v1m0 7v1m0 6v1m0 14v2m0 10v1m0 16v1m0 1v3m0 2v1m0 2v1m0 1v1m0 8v2m0 2v1m0 1v1m0 6v1m2 -96v1m0 11v1m0 1v1m0 1v1m0 1v1m0 2v1m0 6v1m0 2v1m0 1v1m0 11v1m0 1v1m0 7v3m0 4v1m0 1v2m0 1v1m2 -67v1m0 13v1m0 6v1m0 4v1m0 6v2m0 3v1m0 16v1m0 4v1m2 -46v1m0 11v1m0 3v1m0 1v1m0 2v1m0 3v1m0 1v1m0 11v1m0 8v1m0 1v1m0 3v1m2 -76v1m0 3v1m0 19v1m0 23v1m0 34v3m0 5v1m0 8v1m2 -92v1m0 11v2m0 1v1m0 2v3m0 1v2m0 1v1m0 1v1m0 1v1m0 2v1m0 1v1m0 4v1m0 1v1m0 15v1m0 3v4m0 1v4m0 7v1m2 -88v1m0 5v2m0 12v3m0 3v1m0 4v1m0 1v1m0 5v1m0 2v1m0 1v4m0 2v1m0 2v1m0 3v3m0 1v1m0 5v1m0 1v1m0 1v1m0 1v1m0 6v1m2 -79v4m0 1v1m0 13v1m0 2v1m0 1v2m0 6v2m0 3v1m0 32v2m0 1v1m0 4v1m0 12v1m2 -94v1m0 77v1m0 4v1m0 15v1m0 2v1m2 -102v1m0 3v2m0 4v1m0 5v1m0 16v1m0 3v2m0 4v1m0 5v1m0 6v1m0 42v2m2 -98v1m0 16v2m0 6v2m0 4v1m0 10v1m0 6v1m0 3v1m0 2v1m0 2v1m0 3v1m0 1v1m0 4v1m0 3v1m0 2v1m0 2v1m0 1v1m2 -91v1m0 13v1m0 7v2m0 10v2m0 1v1m0 2v1m0 1v1m0 33v1m0 2v1m0 1v1m0 3v1m0 7v2m0 1v1m0 1v1m0 13v1m2 -77v2m0 6v2m0 1v1m0 4v2m0 2v1m0 5v1m0 9v1m0 3v4m0 3v1m0 2v1m0 4v2m0 1v1m2 -85v2m0 1v1m0 12v2m0 1v1m0 3v4m0 5v1m0 2v2m0 6v1m0 2v1m0 14v1m0 1v2m0 9v1m0 1v1m0 1v1m0 5v1m0 2v1m0 1v1m2 -102v2m0 3v2m0 2v4m0 3v1m0 8v1m0 4v1m0 1v1m0 4v4m0 5v1m0 28v1m0 1v2m0 9v2m0 1v2m0 2v1m0 1v1m0 6v2m2 -100v1m0 20v3m0 3v2m0 3v1m0 4v1m0 1v1m0 1v1m0 3v1m0 5v1m0 8v2m0 10v1m0 1v1m0 1v2m0 3v1m0 3v1m0 1v2m2 -3v1m0 3v1m0 1v1m0 6v1m2 -102v1m0 3v2m0 1v1m0 3v1m0 1v1m0 9v1m0 6v1m0 2v1m0 1v2m0 34v1m2 -61v1m0 6v2m0 4v1m0 7v1m0 3v3m0 4v2m0 25v4m0 6v2m0 1v2m0 1v2m0 7v2m2 -101v1m0 8v1m0 16v2m0 16v1m0 8v1m0 19v1m0 24v1m0 6v2m0 5v1m2 -113v1m0 2v2m0 3v1m0 31v1m0 27v1m0 41v1m0 3v2m0 1v1m2 -92v2m0 3v1m0 5v3m0 4v1m0 1v1m0 1v2m0 1v1m0 1v2m0 1v1m0 1v1m0 9v1m0 22v1m0 7v2m0 5v1m0 3v1m2 -112v2m0 13v1m0 2v1m0 7v1m0 7v2m0 1v1m0 6v1m0 39v2m0 3v3m0 2v2m0 1v1m0 2v1m0 8v1m2 -110v1m0 2v1m0 3v1m0 3v2m0 3v1m0 8v2m0 1v1m0 4v1m0 1v1m0 1v1m0 11v1m0 1v1m0 1v1m0 27v1m0 1v3m0 3v2m0 5v1m0 1v3m2 -99v2m0 3v1m0 2v1m0 5v1m0 42v1m0 15v1m0 12v2m0 7v1m0 11v1m0 1v1m0 2v1m2 -113v1m0 3v2m0 2v1m0 4v1m0 8v1m0 4v1m0 3v2m0 3v1m0 3v1m0 2v2m0 5v1m0 1v1m0 5v1m0 5v1m0 2v1m0 4v1m0 4v1m0 13v1m0 5v1m0 7v1m2 -93v1m0 1v1m0 9v1m0 4v3m0 3v2m0 2v1m0 4v1m0 2v2m0 4v2m0 10v1m0 5v2m0 2v2m0 9v1m0 1v2m0 7v1m0 9v1m2 -114v2m0 5v1m0 87v2m0 1v3m0 7v1m0 6v1m0 1v1m0 1v1m0 1v1m2 -109v1m0 3v2m0 7v1m0 12v1m0 15v1m0 1v2m0 2v1m0 1v1m0 13v2m0 5v3m0 17v1m0 4v1m0 2v1m0 2v3m2 -108v2m0 2v1m0 2v3m0 6v1m0 5v1m0 5v2m0 1v1m0 5v1m0 10v1m0 33v1m0 16v3m0 2v1m0 6v1m0 5v1m2 -121v1m0 6v1m0 3v2m0 6v3m0 5v1m0 3v2m0 7v2m0 2v1m0 4v1m0 5v1m0 33v1m0 7v1m0 11v2m0 4v3m0 2v1m2 -121v1m0 4v1m0 2v1m0 1v1m0 2v1m0 5v1m0 2v1m0 8v1m0 9v1m0 2v2m0 3v1m0 4v2m0 4v1m0 11v1m0 5v1m0 1v1m0 1v1m0 1v1m0 2v1m0 1v1m0 1v1m0 10v1m0 7v1m0 2v1m0 6v1m2 -126v1m0 3v1m0 1v1m0 2v2m0 49v1m0 28v1m0 5v1m0 10v2m0 6v1m0 2v1m0 1v1m0 1v1m0 1v1m0 1v2m0 5v1m2 -114v1m0 14v2m0 8v1m0 6v1m0 6v1m0 1v2m0 6v3m0 9v1m0 6v1m0 2v1m0 1v1m0 1v1m0 3v1m0 1v1m0 1v1m2 -93v1m0 2v1m0 10v2m0 6v1m0 2v1m0 4v1m0 4v1m0 5v1m0 24v1m0 3v2m0 8v1m0 5v1m0 10v1m0 5v1m0 2v1m2 -111v2m0 46v1m0 1v1m0 4v1m0 16v1m0 9v1m0 32v2m0 5v1m2 -121v1m0 1v1m0 3v3m0 10v1m0 1v1m0 2v1m0 2v1m0 1v1m0 9v5m0 4v2m0 3v1m0 15v1m0 2v1m0 8v2m0 6v3m0 1v1m0 1v1m0 12v1m0 2v2m2 -112v1m0 1v1m0 12v3m0 1v1m0 1v1m0 1v1m0 24v1m0 51v1m0 5v1m0 5v1m0 1v2m0 1v1m0 2v1m0 2v2m2 -125v1m0 2v2m0 2v2m0 58v1m0 23v1m0 2v1m0 11v2m0 3v1m0 2v1m0 2v1m0 4v1m2 -124v1m0 3v1m0 38v1m0 34v1m0 1v1m0 6v1m0 1v1m0 1v1m0 1v1m0 4v1m0 2v2m0 13v1m0 4v1m0 2v1m2 -66v2m0 3v1m0 2v3m0 8v1m0 3v1m0 2v1m0 3v1m0 5v1m0 12v1m0 3v1m0 1v1m0 1v1m0 1v1m2 -112v1m0 1v1m0 10v2m0 2v1m0 3v1m0 3v1m0 1v3m0 3v1m0 1v1m0 7v2m0 7v2m0 1v1m0 26v1m0 4v2m0 5v2m0 4v1m0 5v2m0 3v1m0 3v1m2 -104v1m0 1v1m0 3v1m0 4v2m0 3v1m0 5v3m0 3v3m0 3v1m0 5v1m0 9v1m0 7v1m0 1v5m0 2v3m0 11v4m0 2v1m0 3v1m0 1v1m0 1v1m0 1v3m2 -118v1m0 8v2m0 8v3m0 2v1m0 22v1m0 2v1m0 20v3m0 5v4m0 1v1m0 4v1m0 12v1m0 1v1m0 12v1m0 2v2m2 -122v3m0 1v1m0 4v2m0 6v1m0 3v1m0 17v1m0 1v1m0 2v1m0 2v1m0 32v3m0 3v2m0 13v2m0 2v1m0 11v1m0 1v1m0 1v4m2 -119v1m0 11v1m0 1v2m0 1v1m0 10v1m0 6v4m0 1v2m0 2v1m0 17v1m0 4v2m0 35v1m0 12v1m0 1v1m0 6v2m2 -133v1m0 2v3m0 3v1m0 20v1m0 1v1m0 5v1m0 3v2m0 11v1m0 10v2m0 1v2m0 1v1m0 16v2m0 1v1m0 6v2m0 2v1m0 8v2m0 5v1m0 3v1m2 -116v1m0 9v2m0 2v1m0 7v1m0 5v1m0 1v1m0 1v1m0 1v1m0 3v1m0 22v2m0 18v1m0 10v2m0 3v3m0 12v1m0 2v1m0 2v2m2 -114v2m0 3v1m0 3v1m0 3v1m0 1v1m0 4v1m0 1v2m0 1v2m0 2v1m0 23v2m0 2v2m0 4v1m0 5v4m0 2v1m0 3v1m0 5v1m0 2v4m0 1v1m0 4v1m0 2v1m0 4v2m0 2v1m2 -105v1m0 4v2m0 6v4m0 21v1m0 9v2m0 2v1m0 2v1m0 1v1m0 14v1m0 4v2m0 3v1m0 1v1m0 1v2m0 1v1m0 5v1m0 4v1m0 1v1m2 -99v1m0 52v3m0 18v1m0 5v2m0 3v1m0 1v3m0 13v2m0 2v1m2 -118v1m0 1v2m0 1v3m0 2v2m0 2v3m0 1v1m0 1v2m0 1v2m0 3v2m0 6v1m0 7v1m0 9v4m0 4v2m0 1v1m0 21v1m0 10v1m0 6v1m0 1v1m2 -105v2m0 15v3m0 1v2m0 3v3m0 4v1m0 11v1m0 2v1m0 1v1m0 1v1m0 3v1m0 11v1m0 7v1m0 6v1m0 3v1m0 3v1m0 9v1m0 2v1m0 4v2m2 -114v1m0 3v1m0 2v1m0 17v1m0 10v1m0 21v1m0 9v1m0 4v1m0 3v1m0 7v1m0 20v2m0 7v1m0 2v1m0 4v1m2 -123v1m0 3v1m0 86v1m0 14v1m0 1v1m0 5v1m0 1v2m0 4v1m2 -118v1m0 1v4m0 7v1m0 4v1m0 2v1m0 1v1m0 23v2m0 1v1m0 18v2m0 1v2m0 11v1m0 5v1m0 3v1m0 2v1m0 1v2m0 1v3m0 2v2m2 -106v3m0 2v1m0 4v1m0 7v2m0 6v1m0 8v1m0 2v1m0 3v1m0 3v1m0 1v1m0 4v1m0 1v1m0 5v2m0 2v1m0 3v1m0 11v1m0 10v1m0 11v1m0 1v2m2 -112v1m0 2v2m0 13v2m0 1v2m0 6v3m0 4v1m0 4v1m0 4v2m0 2v1m0 2v1m0 5v1m0 4v1m0 5v1m0 6v1m0 1v1m0 2v1m0 1v2m0 2v1m0 2v4m0 3v2m0 3v1m0 1v1m0 4v1m0 4v2m0 2v1m2 -114v1m0 3v1m0 5v1m0 3v1m0 2v1m0 1v1m0 9v1m0 13v1m0 2v1m0 2v1m0 1v2m0 2v1m0 1v1m0 5v1m0 2v2m0 2v1m0 1v1m0 1v2m0 1v3m0 2v2m0 1v2m0 1v1m0 1v1m0 1v2m0 7v1m0 2v1m0 1v1m2 -107v1m0 9v1m0 29v1m0 8v1m0 1v3m0 3v1m0 1v1m0 3v1m0 2v1m0 5v1m0 6v1m0 21v1m2 -104v1m0 2v1m0 1v2m0 6v2m0 2v1m0 7v1m0 1v1m0 3v1m0 3v1m0 9v2m0 3v1m0 2v1m0 1v1m0 10v1m0 12v2m0 14v1m0 11v1m2 -97v3m0 4v1m0 2v1m0 1v2m0 6v1m0 3v1m0 1v1m0 3v1m0 3v1m0 1v4m0 1v1m0 3v1m0 6v2m0 1v1m0 5v2m0 4v2m0 1v1m0 3v2m0 1v3m0 3v1m0 1v1m0 5v1m0 13v1m2 -115v1m0 2v1m0 3v1m0 2v1m0 8v1m0 2v2m0 5v1m0 3v1m0 5v1m0 1v1m0 9v1m0 7v2m0 4v2m0 19v1m0 10v1m0 2v1m0 14v1m2 -111v1m0 1v1m0 3v2m0 11v1m0 15v1m0 2v1m0 1v1m0 2v3m0 2v2m0 3v1m0 5v2m0 1v1m0 2v1m0 1v1m0 2v1m0 1v1m0 6v1m0 2v1m0 1v1m0 6v2m0 4v1m0 1v2m0 5v1m2 -106v2m0 36v2m0 2v2m0 3v2m0 4v1m0 4v1m0 11v1m0 2v1m0 1v1m0 10v1m0 6v1m0 1v2m0 6v1m0 1v1m0 9v1m2 -112v1m0 2v1m0 1v1m0 1v2m0 12v1m0 2v1m0 1v1m0 9v1m0 3v1m0 4v1m0 7v1m0 15v1m0 3v1m0 8v1m0 2v1m0 1v1m0 1v1m0 3v3m0 4v1m0 10v1m2 -119v1m0 2v1m0 8v1m0 24v1m0 1v1m0 6v1m0 10v1m0 3v1m0 12v1m0 10v1m0 8v3m0 1v1m0 2v1m0 5v1m0 2v1m0 3v1m2 -122v1m0 2v1m0 1v1m0 31v1m0 5v1m0 2v1m0 1v2m0 1v1m0 8v2m0 1v2m0 3v2m0 1v1m0 2v2m0 6v1m0 2v1m0 1v4m0 1v1m0 10v1m0 5v1m2 -105v2m0 2v2m0 1v2m0 8v1m0 2v1m0 7v2m0 4v1m0 3v1m0 2v1m0 2v1m0 8v1m0 9v1m0 5v1m0 2v2m0 2v1m0 1v3m0 2v1m0 1v2m0 4v1m0 4v3m0 17v1m0 5v1m0 1v1m2 -124v2m0 38v1m0 2v1m0 5v1m0 11v1m0 2v1m0 4v2m0 2v1m0 3v1m0 17v3m0 1v1m0 4v1m2 -99v1m0 2v1m0 54v1m0 8v1m0 1v1m0 4v2m0 2v1m0 7v2m0 1v2m0 4v3m0 4v1m0 10v1m2 -113v2m0 3v2m0 3v1m0 1v1m0 1v1m0 10v1m0 5v1m0 5v1m0 1v2m0 10v3m0 1v1m0 1v1m0 3v1m0 1v2m0 2v1m0 1v1m0 1v4m0 5v2m0 6v3m0 3v1m0 11v1m2 -107v1m0 4v2m0 1v2m0 4v1m0 8v2m0 14v1m0 3v1m0 4v3m0 2v2m0 6v1m0 4v2m0 2v1m0 7v2m0 4v1m0 8v4m0 4v1m2 -105v2m0 9v1m0 1v1m0 5v1m0 57v1m0 4v1m0 17v1m0 2v3m0 7v1m2 -114v1m0 1v1m0 7v1m0 1v1m0 15v1m0 4v2m0 5v1m0 23v1m0 5v1m0 2v1m0 2v1m0 2v1m0 1v1m0 8v1m0 1v1m0 1v1m0 1v1m0 3v1m0 2v1m0 1v1m0 2v2m0 4v1m2 -107v1m0 28v1m0 5v2m0 4v1m0 7v1m0 3v1m0 5v1m0 1v1m0 5v3m0 6v1m0 2v2m0 6v1m0 3v1m0 5v1m0 3v1m2 -103v1m0 4v1m0 3v3m0 6v1m0 2v1m0 6v1m0 1v1m0 2v2m0 11v1m0 1v1m0 1v1m0 14v1m0 6v1m0 1v4m0 2v1m0 3v1m0 1v1m0 10v1m0 1v2m2 -97v1m0 2v4m0 1v1m0 3v1m0 4v1m0 7v1m0 2v1m0 3v1m0 1v1m0 1v1m0 1v1m0 28v2m0 15v2m0 2v1m0 3v2m0 3v1m0 1v1m0 1v4m2 -101v2m0 1v1m0 14v2m0 1v1m0 1v2m0 37v2m0 1v2m0 2v1m0 1v1m0 10v1m2 -84v1m0 2v1m0 1v1m0 18v1m0 22v1m0 3v1m0 1v2m0 2v2m0 4v1m0 9v2m0 4v1m0 10v2m2 -82v1m0 13v1m0 17v1m0 1v1m0 18v1m0 1v1m0 6v1m0 5v1m0 1v1m0 2v1m0 2v1m0 11v2m2 -87v2m0 1v1m0 2v1m0 1v1m0 1v1m0 7v1m0 1v1m0 7v1m0 2v2m0 9v1m0 1v1m0 1v2m0 16v1m0 1v1m0 5v1m2 -76v1m0 5v1m0 2v1m0 5v1m0 9v2m0 18v1m0 5v2m0 1v1m0 3v1m0 4v1m0 3v2m0 1v1m0 2v3m0 3v1m0 2v1m0 1v2m0 2v2m2 -85v2m0 7v1m0 3v1m0 3v1m0 1v1m0 2v1m0 1v1m0 4v1m0 1v1m0 4v3m0 3v2m0 3v1m0 2v1m0 1v1m0 2v1m2 -59v1m0 3v1m0 6v3m0 1v1m0 4v1m0 1v1m0 2v1m0 2v2m0 5v1m0 3v1m0 1v1m0 1v1m0 1v2m0 1v3m0 6v2m0 3v1m0 11v1m0 3v2m0 12v1m2 -91v1m0 4v1m0 8v1m0 1v1m0 1v1m0 5v1m0 6v2m0 4v1m0 1v1m0 8v2m0 12v1m0 14v1m0 5v1m2 -83v1m0 7v1m0 14v1m0 12v1m0 3v1m0 3v1m0 2v1m0 4v1m0 4v2m0 2v2m0 3v1m0 7v1m0 1v1m0 1v1m0 3v2m2 -67v1m0 1v1m0 3v1m0 7v1m0 3v2m0 1v1m0 8v1m0 1v1m0 1v5m0 1v2m0 7v2m0 1v1m0 5v1m0 1v1m0 1v1m2 -76v4m0 7v1m0 1v2m0 3v1m0 2v2m0 3v1m0 6v4m0 2v1m0 4v1m0 3v1m0 1v1m0 8v2m0 14v1m2 -74v1m0 2v2m0 3v2m0 15v1m0 5v2m0 2v1m0 1v2m0 2v1m0 1v1m0 3v1m0 16v2m2 -62v1m0 9v1m0 3v1m0 1v1m0 2v1m0 1v1m0 5v1m0 3v1m0 4v3m0 3v1m0 10v2m0 1v1m0 3v1m0 4v1m0 7v1m2 -74v1m0 3v1m0 5v1m0 5v1m0 13v1m0 1v1m0 1v1m0 1v2m0 1v1m0 2v1m0 2v1m0 3v2m0 5v1m0 2v2m0 3v1m0 6v1m2 -66v1m0 1v3m0 2v1m0 13v1m0 3v2m0 3v1m0 2v1m0 2v1m0 8v2m0 2v1m2 -44v1m0 1v1m0 1v1m0 21v2m0 1v2m0 2v1m0 2v1m0 1v2m0 2v2m0 2v1m0 7v1m0 4v1m2 -66v1m0 32v1m0 4v2m0 4v2m0 1v1m0 1v1m0 1v1m0 7v1m0 1v1m0 3v1m0 3v2m0 1v2m2 -75v1m0 5v1m0 26v1m0 9v1m0 1v2m0 1v1m0 1v1m0 4v1m0 3v1m0 2v1m0 7v1m2 -74v1m0 1v3m0 1v1m0 1v1m0 4v1m0 1v1m0 4v1m0 8v1m0 8v1m0 14v2m2 -38v1m0 6v1m0 2v4m0 5v1m0 3v1m0 6v1m0 1v1m2 -48v1m0 15v1m0 4v1m0 3v1m0 1v1m0 6v2m0 8v1m0 3v1m0 2v1m0 1v1m0 3v1m0 2v1m0 2v1m0 3v1m2 -68v1m0 2v2m0 3v2m0 6v1m0 15v1m0 20v1m0 2v1m0 5v1m0 1v1m2 -63v1m0 8v1m0 2v1m0 1v1m0 4v1m0 3v1m0 2v1m0 1v2m0 6v2m0 12v1m0 2v1m2 -53v1m0 1v1m0 5v1m0 12v1m0 3v1m0 9v1m0 2v1m0 1v2m0 5v2m0 4v2m0 3v1m0 8v1m0 3v1m2 -67v3m0 13v1m0 15v2m0 2v1m0 4v1m0 1v1m0 2v1m0 2v1m2 -47v2m0 2v1m0 8v1m0 4v1m0 7v1m0 2v1m0 11v3m0 1v2m2 -44v2m0 5v2m0 11v1m0 15v1m2 -42v1m0 22v1m0 2v3m0 6v6m0 1v2m0 1v3m2 -49v5m0 1v1m0 10v1m0 2v1m0 1v1m0 3v1m0 5v1m0 3v1m0 1v1m0 5v1m0 8v2m0 5v1m2 -65v2m0 1v1m0 1v2m0 2v1m0 7v1m0 22v2m0 1v1m0 3v3m0 7v2m0 1v1m0 5v1m0 3v1m0 2v1m2 -71v1m0 4v1m0 1v1m0 7v1m0 5v1m0 2v2m0 1v1m0 1v1m0 18v1m0 8v1m0 2v1m0 1v1m2 -60v2m0 3v1m0 6v2m0 11v1m0 2v2m0 9v1m0 5v2m0 4v1m0 1v2m0 1v2m2 -56v1m0 8v1m0 6v2m0 4v2m0 8v1m0 1v2m0 1v1m0 2v1m0 1v1m0 1v2m0 11v1m2 -66v1m0 1v1m0 4v1m0 2v1m0 2v2m0 5v1m0 1v2m0 6v1m0 5v1m0 5v1m0 4v2m0 1v1m0 7v1m2 -49v5m0 3v6m0 2v2m0 1v1m0 2v2m0 3v1m0 1v1m0 5v1m0 2v3m2 -51v1m0 19v1m0 7v1m0 4v1m0 2v2m0 2v1m0 10v1m0 1v1m2 -53v1m0 5v1m0 1v2m0 1v1m0 8v1m0 3v1m0 1v1m0 1v1m0 3v1m0 1v1m0 3v1m0 2v1m0 9v1m0 5v1m0 1v1m0 1v2m2 -60v1m0 5v3m0 18v1m0 1v1m0 2v1m0 2v1m0 3v3m0 2v1m0 10v1m2 -53v2m0 2v3m0 5v1m0 2v1m0 1v3m0 1v3m0 5v1m0 5v5m0 1v3m0 9v1m2 -55v1m0 1v1m0 10v1m0 4v3m0 1v2m0 7v1m0 2v1m0 3v1m0 4v1m0 2v1m0 3v1m0 1v1m0 1v1m0 3v1m0 1v1m0 5v1m0 2v1m2 -71v2m0 2v1m0 1v1m0 1v1m0 3v1m0 2v2m0 1v1m0 2v4m0 3v1m0 1v2m0 2v1m0 4v1m0 2v1m0 1v1m0 2v2m0 10v1m0 4v1m0 1v1m2 -75v1m0 1v1m0 11v1m0 1v2m0 2v2m0 7v3m0 5v1m0 1v1m0 2v1m0 13v1m0 4v1m2 -54v1m0 1v1m0 4v1m0 4v1m0 1v1m0 3v1m0 2v1m0 3v2m0 5v1m0 2v6m0 6v1"/><path stroke="#ff0000" d="M79 266v1m0 1v3m0 1v1m0 2v3m0 1v3m0 3v6m0 1v1m0 1v2m0 3v3m0 1v1m0 1v2m0 1v2m0 7v1m2 -53v8m0 2v12m0 1v7m0 2v1m0 2v1m0 1v4m0 3v1m0 7v2m0 1v1m0 6v1m2 -59v2m0 1v1m0 3v1m0 3v1m0 1v1m0 3v9m0 3v3m0 1v4m0 2v4m2 -3v1m2 -44v1m0 5v1m0 2v3m0 1v1m0 2v1m0 10v1m0 3v2m0 1v1m0 1v3m0 2v2m0 8v1m2 -52v1m0 3v3m0 2v9m0 1v11m0 1v8m0 1v6m0 2v1m0 2v1m2 -48v3m0 3v2m0 2v3m0 2v1m0 1v2m0 1v1m0 1v1m0 8v1m0 2v1m0 1v1m2 -42v1m0 5v1m0 4v1m0 4v1m0 1v4m0 1v8m0 2v1m0 8v1m0 1v2m2 -27v2m0 3v2m2 -16v4m0 1v6m2 -4v3m0 3v1m4 -22v1m0 1v4m0 3v1m0 8v1m0 1v1m0 2v1m0 17v1m2 -45v1m0 2v5m0 5v1m0 4v4m0 1v1m0 2v5m0 3v13m0 3v1m2 -38v1m0 6v1m0 1v1m0 3v4m2 -25v2m0 1v1m0 2v13m0 5v3m0 3v6m2 -35v1m0 4v3m0 1v5m0 2v1m0 6v1m0 1v1m0 3v2m2 -26v3m0 4v1m2 -14v1m0 2v1m0 3v1m0 1v2m0 1v5m0 4v1m0 4v1m0 1v2m0 1v2m2 -32v3m0 2v12m0 3v1m0 1v4m0 2v1m0 1v4m2 -33v1m0 7v2m0 4v2m0 30v1m2 -50v1m0 6v1m0 1v1m0 3v3m0 1v5m0 2v2m0 3v2m0 1v2m0 7v2m0 8v1m2 -45v16m0 1v2m0 1v1m0 1v1m0 1v1m0 1v1m0 2v3m0 2v2m4 -39v1m0 2v5m0 1v1m0 6v1m0 5v2m0 1v3m0 2v2m2 -26v1m0 2v2m0 15v2m0 1v2m0 2v1m2 -24v1m0 7v1m0 10v1m0 13v1m2 -41v14m0 1v1m0 1v1m0 8v4m0 3v1m0 7v1m0 1v1m2 -47v1m0 2v2m0 1v3m0 1v2m0 3v2m0 3v1m0 8v1m2 4v1m0 9v1m2 -26v1m2 -12v5m0 1v2m0 1v5m0 3v1m0 17v1m0 3v1m2 -41v9m0 1v1m0 2v1m0 10v2m2 -27v2m0 1v2m0 1v1m0 1v1m0 5v1m2 5v2m0 1v1m0 3v1m2 -26v1m0 1v2m0 2v4m0 3v1m0 1v1m0 1v6m0 1v3m0 1v1m0 6v1m2 -14v1m0 1v1m4 -24v1m0 1v1m0 1v3m0 1v4m0 1v2m0 1v1m0 1v1m0 6v1m0 2v1m0 16v1m0 1v1m2 -36v1m0 6v2m0 1v2m2 -17v1m0 1v4m0 14v1m2 -17v1m0 6v1m0 5v1m2 -17v1m0 1v5m0 3v2m0 4v1m0 2v1m2 -14v1m0 3v2m0 3v2m4 -6v1m0 2v1m6 -5v1m0 1v1m0 20v1m4 -34v3m0 1v2m0 2v4m0 1v1m0 1v1m8 -21v1m0 1v1m0 1v1m0 8v1m0 12v2m2 -19v2m2 -13v1m2 -1v1m0 1v1m0 1v2m0 10v1m2 -22v6m0 1v1m0 2v1m0 1v1m2 -13v3m0 4v1m0 12v1m0 1v1m2 -29v1m0 5v2m2 -22v1m0 5v1m0 7v1m4 -13v1m0 2v1m0 2v8m0 2v4m0 1v3m0 1v2m0 1v1m0 2v3m0 1v2m2 -45v1m0 4v3m0 1v4m0 1v1m0 25v1m0 2v1m4 -45v1m0 1v1m0 7v1m0 9v1m0 7v1m2 -38v1m0 8v7m0 1v2m0 1v1m0 2v4m0 1v2m0 1v1m0 3v1m0 1v1m2 -35v1m0 5v1m2 -13v2m0 1v1m0 4v3m0 1v2m0 1v2m0 1v2m2 -22v1m0 2v3m0 8v1m0 2v5m0 1v10m0 2v2m0 2v3m0 1v1m0 1v5m0 1v1m0 4v1m2 -58v3m0 1v3m0 2v3m0 1v3m0 3v2m0 1v1m0 1v1m0 2v1m0 1v4m2 -28v2m0 3v1m0 8v1m2 -21v8m0 2v4m0 1v4m0 1v11m0 2v1m0 1v1m0 2v1m2 -47v1m0 7v8m0 2v6m0 1v2m0 1v6m0 1v1m0 1v1m2 -30v8m0 2v7m0 1v2m0 1v10m0 3v2m0 1v2m0 22v1m2 -62v4m0 1v2m0 3v1m0 5v1m0 4v2m2 -36v1m0 1v8m0 3v8m0 2v17m0 2v5m0 4v1m0 5v4m0 1v2m2 -56v2m0 3v8m0 2v6m0 3v1m0 5v1m2 -35v1m0 8v8m0 5v2m0 8v1m0 1v1m0 1v1m0 2v1m0 4v3m0 3v1m2 -56v1m0 1v1m0 2v1m0 1v3m0 4v5m0 1v2m0 2v1m0 1v3m0 1v1m0 3v1m0 6v1m0 2v1m2 -48v1m0 1v2m0 1v9m0 3v8m0 2v4m0 2v1m0 1v4m0 2v4m0 2v1m2 -50v1m0 1v1m0 2v5m0 1v1m0 1v3m0 3v8m0 2v4m0 2v1m0 1v5m2 -38v1m0 2v3m0 1v1m0 1v3m0 3v6m0 1v1m0 2v2m0 7v1m2 -40v1m0 4v2m0 2v4m0 1v3m0 3v6m0 1v1m0 7v1m0 3v6m0 4v1m2 -53v1m0 3v2m0 3v1m0 2v1m0 2v5m0 4v1m0 1v5m0 7v1m0 1v1m0 9v1m2 -32v1m0 3v6m0 1v1m2 -35v1m0 3v7m0 4v1m0 1v1m0 1v4m0 4v5m0 1v2m0 2v1m0 1v2m0 1v1m0 14v1m0 1v1m2 -60v1m0 5v2m0 2v2m0 1v2m0 2v1m0 1v2m0 1v2m0 3v8m0 2v2m0 1v1m0 1v6m0 2v3m2 -50v2m0 1v1m0 1v1m0 1v2m0 1v5m0 2v4m0 3v2m0 1v4m0 4v1m0 3v1m0 1v1m2 -46v2m0 2v5m0 1v3m0 1v3m0 1v5m0 1v1m0 3v8m0 3v2m0 1v2m0 2v2m0 11v1m2 -65v4m0 1v25m0 3v7m0 3v3m0 1v7m0 1v12m2 -69v1m0 5v1m0 1v20m0 1v2m0 4v4m0 7v1m2 -47v1m0 2v1m0 1v27m0 3v8m0 2v2m0 3v8m0 1v2m0 1v9m0 2v1m2 -77v1m0 2v3m0 1v1m0 1v26m0 3v8m0 2v25m0 3v1m0 5v1m2 -82v1m0 1v1m0 1v1m0 1v1m0 1v1m0 3v1m0 5v2m0 2v5m0 4v1m0 5v8m2 -46v4m0 2v13m0 1v9m0 1v1m0 1v3m0 4v7m0 2v1m0 1v3m0 2v1m0 4v2m0 3v1m0 1v1m2 -66v2m0 4v1m0 15v1m0 5v5m0 3v3m0 1v4m2 -47v1m0 2v2m0 1v1m0 2v2m0 1v2m0 1v3m0 2v3m0 1v2m0 3v5m0 1v1m0 3v1m0 1v6m0 6v8m2 -63v1m0 1v1m0 1v3m0 1v2m0 1v25m0 1v1m0 3v5m0 1v2m0 2v7m0 2v1m0 1v1m0 2v1m0 1v1m2 -60v2m0 2v1m0 1v2m0 3v2m0 1v2m0 1v1m0 2v2m0 2v1m0 2v3m0 3v8m0 2v7m0 1v1m0 1v1m0 1v1m0 1v1m0 8v1m2 -69v1m0 22v1m0 7v1m0 4v1m0 1v3m0 1v1m2 -47v1m0 3v1m0 3v5m0 2v1m0 6v1m0 2v1m0 1v9m0 4v1m0 1v1m0 1v3m0 6v1m2 -54v1m0 1v2m0 1v1m0 2v1m0 1v1m0 2v18m0 1v3m0 4v8m0 3v4m2 -55v2m0 1v2m0 1v2m0 1v4m0 1v2m0 1v1m0 1v2m0 2v9m0 1v3m0 4v4m0 1v3m0 3v5m0 1v2m2 -60v2m0 6v1m0 2v4m0 2v5m0 13v1m0 5v2m0 1v1m2 -50v1m0 4v1m0 3v34m0 3v8m0 3v1m0 1v1m0 1v1m0 2v1m0 11v1m2 -77v1m0 4v1m0 1v2m0 1v3m0 1v17m0 1v11m0 3v2m0 2v4m0 3v1m0 3v1m0 2v1m2 -48v3m0 1v16m0 1v2m0 6v2m2 -40v2m0 2v2m0 3v6m0 4v6m0 1v2m0 2v1m0 2v2m0 3v5m0 1v2m0 21v1m2 -82v2m0 1v1m0 1v2m0 5v4m0 2v2m0 6v2m0 2v1m0 2v3m0 1v2m0 4v2m0 2v2m0 3v1m0 3v3m0 22v1m2 -85v2m0 13v17m0 1v1m0 1v7m0 2v8m0 3v1m0 2v4m0 5v5m0 1v1m0 6v1m2 -60v1m0 1v3m0 2v2m0 1v1m0 9v1m0 16v2m0 1v1m2 -63v1m0 8v1m0 8v1m0 1v4m0 1v1m0 1v2m0 1v1m0 6v1m0 4v1m0 1v4m0 1v2m0 1v1m0 3v8m0 2v5m0 2v1m0 1v1m2 -70v3m0 9v1m0 2v1m0 5v2m0 2v2m0 10v2m0 5v3m0 3v4m0 2v2m0 2v8m0 1v1m2 -72v1m0 14v1m0 1v1m0 2v1m0 1v1m0 1v9m0 1v2m0 5v1m0 6v1m0 3v3m0 4v1m2 -60v1m0 13v8m0 2v7m0 1v4m0 1v1m0 2v1m0 1v3m0 2v2m0 3v1m0 3v2m2 -58v1m0 1v1m0 8v2m0 1v1m0 1v2m0 9v1m0 1v5m0 1v1m0 1v2m0 1v1m0 1v3m0 2v2m0 3v2m0 2v4m2 -65v1m0 5v1m0 1v1m0 7v1m0 1v1m0 18v2m0 2v1m0 1v1m0 2v1m0 1v1m0 1v1m0 1v1m0 4v2m0 2v1m2 -60v1m0 3v1m0 9v1m0 4v1m0 3v1m0 7v3m0 7v9m0 5v2m0 1v3m0 8v2m2 -76v4m0 1v3m0 11v1m0 9v5m0 2v16m0 1v4m0 3v4m0 1v1m0 4v5m2 -64v1m0 21v1m0 17v1m0 8v3m0 2v1m2 -61v1m0 5v2m0 1v1m0 4v6m0 16v1m0 4v1m0 1v1m0 12v1m0 3v1m2 -66v1m0 2v1m0 1v1m0 3v5m0 7v1m0 1v1m0 12v1m0 1v1m0 2v1m0 2v3m0 1v3m0 2v2m0 1v1m0 3v7m2 -58v1m0 1v1m0 13v1m0 1v12m0 1v8m0 1v1m0 33v1m2 -77v1m0 1v1m0 11v1m0 1v1m0 1v1m0 1v2m0 2v1m0 13v1m0 1v1m0 3v2m0 2v2m0 3v3m2 -42v6m0 3v1m0 6v1m0 1v1m0 1v1m0 2v10m0 11v3m0 12v1m2 -69v1m0 6v4m0 1v1m0 5v2m0 1v6m0 2v2m0 3v2m0 1v7m0 5v1m0 3v3m2 -66v1m0 16v4m0 1v8m0 2v4m0 1v3m0 1v3m0 1v5m0 1v1m0 1v1m0 5v1m0 1v2m0 15v2m0 5v1m2 -83v1m0 1v2m0 11v1m0 1v1m0 4v2m0 5v2m0 1v1m0 1v3m0 2v2m0 2v3m0 1v5m0 3v1m0 3v1m2 -56v1m0 4v1m0 5v4m0 1v8m0 1v2m0 1v1m0 1v7m0 1v4m0 1v5m0 3v1m0 2v3m0 1v1m0 3v3m2 -60v1m0 4v4m0 1v5m0 7v2m0 5v1m0 4v7m0 1v1m0 6v1m0 1v3m2 -48v1m0 12v1m0 1v1m0 1v2m0 1v1m0 5v1m0 6v1m0 1v1m0 6v1m2 -57v2m0 1v1m0 1v2m0 7v1m0 1v2m0 1v2m0 6v1m0 1v2m0 3v5m0 2v2m0 1v2m0 10v1m2 -44v2m0 4v1m0 3v1m0 2v2m0 2v1m0 1v1m0 1v12m0 1v1m0 8v1m0 3v1m2 -65v1m0 1v2m0 5v2m0 1v1m0 4v2m0 1v6m0 1v1m0 1v1m0 1v8m0 1v1m0 1v1m0 4v1m0 1v4m0 12v1m2 -69v1m0 9v1m0 15v2m0 1v2m0 2v12m0 2v1m0 1v1m0 1v1m2 -65v3m0 3v3m0 1v2m0 1v3m0 1v1m0 10v1m0 7v16m0 1v1m0 1v3m0 2v3m0 1v4m0 1v1m0 4v8m0 2v1m0 1v1m0 1v3m0 1v2m2 -77v1m0 3v1m0 1v6m0 4v1m0 1v1m0 19v1m0 10v2m0 1v2m0 3v8m2 -75v1m0 1v1m0 6v1m0 7v1m0 1v1m0 1v1m0 4v6m0 1v1m0 1v2m0 1v1m0 5v1m0 2v1m0 1v4m0 1v2m0 6v1m0 7v1m0 1v1m2 -78v1m0 4v2m0 7v1m0 2v1m0 1v6m0 1v1m0 4v3m0 3v4m0 1v2m0 2v1m0 1v5m0 1v5m0 1v3m0 3v2m0 4v2m0 1v5m0 3v1m2 -84v1m0 2v1m0 1v2m0 4v5m0 1v10m0 4v14m0 1v3m0 3v1m0 1v15m0 3v1m0 1v6m0 5v1m0 1v1m0 9v1m2 -78v1m0 3v2m0 6v3m0 2v1m0 1v12m0 1v1m0 1v2m0 2v6m0 10v2m0 3v1m0 6v2m2 -57v1m0 2v1m0 1v2m0 2v2m0 2v5m0 2v18m0 3v5m0 2v1m2 -81v28m0 4v27m0 1v10m0 3v8m0 4v2m0 3v3m2 -69v3m0 5v3m0 10v2m0 2v1m0 1v3m0 2v2m0 2v1m0 2v1m0 1v5m0 5v1m0 2v1m2 -53v1m0 5v1m0 1v5m0 2v1m0 1v2m0 1v1m0 9v1m0 6v1m0 3v3m0 3v8m0 2v4m0 1v1m2 -70v1m0 4v2m0 1v1m0 6v7m0 1v7m0 1v1m0 1v5m0 2v1m0 1v4m0 2v1m0 1v1m2 -65v3m0 1v1m0 1v2m0 3v12m0 7v1m0 3v2m0 2v1m0 2v5m0 1v4m0 1v1m0 2v1m0 1v1m0 1v2m0 2v2m0 3v1m0 5v1m0 3v1m0 1v1m0 1v1m0 2v1m0 5v1m2 -81v5m0 1v1m0 4v1m0 6v9m0 1v1m0 1v11m0 1v5m0 2v4m0 4v8m0 2v4m0 1v3m0 5v1m2 -75v1m0 11v1m0 8v3m0 1v1m0 1v1m0 3v4m0 2v1m0 1v1m0 3v1m0 3v1m0 3v7m2 -77v1m0 2v1m0 2v1m0 1v6m0 1v10m0 4v8m0 4v1m0 6v10m0 4v2m0 2v1m0 3v7m0 3v2m0 3v1m0 12v1m2 -96v1m0 2v3m0 3v1m0 3v4m0 1v2m0 1v1m0 4v2m0 1v15m0 1v8m0 1v7m0 6v3m0 1v1m0 5v1m0 7v2m0 2v2m2 -93v1m0 5v1m0 3v1m0 3v2m0 1v1m0 2v1m0 2v1m0 5v1m0 4v4m0 2v2m0 2v1m0 5v1m0 1v1m0 12v1m0 8v1m2 -75v2m0 1v1m0 1v2m0 1v3m0 1v6m0 1v5m0 4v4m0 1v4m0 2v27m0 3v3m0 1v4m0 2v1m0 1v2m0 1v1m0 1v1m0 2v1m0 4v1m2 -67v1m0 2v1m0 3v1m0 11v1m2 -8v1m0 7v4m0 17v1m2 -60v1m0 17v3m0 4v2m0 3v4m0 1v2m0 1v4m0 5v2m0 1v1m0 2v1m0 5v2m0 2v1m0 1v2m2 -54v1m0 4v6m0 1v2m0 1v3m0 1v1m0 2v2m0 5v1m0 8v1m0 1v2m0 5v1m0 1v1m0 20v2m0 1v1m2 -91v1m0 3v1m0 9v4m0 4v4m0 1v1m0 2v3m0 2v3m0 1v1m0 1v8m0 2v1m0 12v1m0 1v1m0 2v1m0 6v1m0 10v2m2 -90v3m0 2v1m0 3v1m0 3v1m0 1v2m0 7v3m0 1v1m0 2v1m0 2v1m0 10v1m0 2v3m0 1v2m0 1v2m0 7v1m0 2v2m0 8v1m2 -80v1m0 1v1m0 11v2m0 1v2m0 8v4m0 2v1m0 2v4m0 2v1m0 2v1m0 1v1m0 1v2m0 1v7m0 3v1m0 3v2m0 1v4m2 -48v1m0 1v25m0 1v7m0 1v1m0 4v2m0 1v5m0 7v3m0 3v1m0 1v1m2 -59v1m0 2v3m0 2v2m0 2v9m0 1v4m0 2v4m0 3v8m2 -71v5m0 1v1m0 1v1m0 1v4m0 1v2m0 11v1m0 1v2m0 1v1m0 1v2m0 10v1m0 2v5m0 2v2m0 4v2m2 -52v1m0 8v1m0 1v1m0 1v1m0 1v8m0 1v3m0 2v2m0 1v1m0 1v2m0 3v1m0 4v2m0 5v1m0 1v1m2 -61v1m0 10v1m0 5v2m0 1v1m0 11v3m0 6v2m0 1v3m0 1v6m0 3v2m0 1v1m0 3v1m0 2v3m0 3v2m2 -78v1m0 2v6m0 1v2m0 7v1m0 1v25m0 1v2m0 4v2m0 1v1m0 3v4m0 1v1m0 1v1m0 2v4m0 2v1m0 1v1m0 2v1m0 1v1m0 3v1m2 -88v2m0 1v1m0 2v1m0 1v1m0 1v5m0 4v2m0 1v20m0 1v12m0 1v1m0 3v8m0 2v6m0 2v6m0 2v1m2 -87v4m0 2v1m0 2v1m0 2v3m0 4v2m0 3v2m0 2v4m0 2v1m0 1v3m0 1v1m0 2v4m0 2v1m0 1v3m0 2v1m0 3v3m0 2v2m0 3v2m0 1v1m0 8v1m0 3v1m2 -68v1m0 2v3m0 15v1m0 3v1m0 2v1m0 3v2m0 1v1m0 1v1m0 3v3m0 1v4m0 13v1m2 -82v1m0 1v2m0 2v2m0 3v2m0 6v1m0 1v3m0 1v4m0 1v4m0 6v4m0 1v3m0 1v1m0 1v6m0 3v1m0 1v1m0 1v4m0 2v3m0 2v2m0 2v1m0 1v1m0 3v1m2 -83v1m0 9v1m0 7v1m0 6v1m0 1v4m0 1v10m0 1v4m0 1v6m0 3v8m0 3v1m0 1v1m0 1v2m0 2v1m2 -68v2m0 6v3m0 2v2m0 1v2m0 1v3m0 1v6m0 1v8m0 1v6m0 3v8m0 3v2m0 1v2m0 1v5m0 4v1m2 -62v1m0 2v13m0 2v2m0 1v7m0 1v3m0 3v8m0 3v1m0 3v2m0 1v2m0 1v1m0 1v5m0 6v1m0 1v1m2 -77v1m0 1v1m0 5v2m0 1v6m0 2v1m0 1v1m0 1v10m0 2v1m0 19v1m0 1v1m2 -66v1m0 1v1m0 5v1m0 4v2m0 1v3m0 1v3m0 4v1m0 1v2m0 2v1m0 1v1m0 2v7m0 3v5m0 1v2m0 3v1m2 -58v1m0 4v6m0 1v11m0 1v3m0 1v1m0 4v1m0 1v1m0 5v2m0 3v2m0 1v1m0 2v1m0 10v1m2 -73v1m0 3v6m0 4v9m0 1v12m0 1v9m0 2v4m0 3v8m0 2v17m0 3v5m0 1v2m0 3v1m2 -79v2m0 2v1m0 1v2m0 6v1m0 8v1m0 8v2m0 3v7m2 -37v4m0 1v1m0 1v4m0 2v2m0 1v1m0 4v2m0 1v1m0 8v1m0 1v3m0 5v1m0 8v1m2 -80v1m0 5v1m0 9v1m0 3v1m0 19v14m0 3v8m0 5v1m2 -74v1m0 3v11m0 4v38m0 3v5m0 1v2m0 2v11m0 1v4m0 1v12m0 2v1m0 1v2m2 -99v2m0 2v4m0 5v1m0 1v9m0 1v6m0 1v3m0 2v4m0 1v2m0 2v1m0 1v3m0 4v7m0 2v29m0 7v1m2 -84v1m0 2v1m0 1v4m0 3v1m0 19v1m0 8v1m0 6v1m0 1v2m0 5v1m0 1v1m0 2v2m0 1v1m2 -70v1m0 3v1m0 1v8m0 2v1m0 1v2m0 1v1m0 1v11m0 1v3m0 3v5m0 1v2m0 2v2m0 1v2m0 2v1m0 1v1m0 2v2m0 1v2m0 7v1m0 1v1m2 -68v1m0 7v4m0 1v1m0 2v1m0 1v1m0 1v2m0 2v2m0 7v6m0 2v1m0 2v2m0 4v3m0 1v1m0 2v1m0 1v2m0 2v1m0 1v1m0 1v1m2 -78v2m0 1v1m0 1v1m0 4v3m0 4v3m0 3v1m0 4v1m0 1v3m0 1v2m0 1v1m0 4v5m0 1v1m0 3v1m0 3v2m0 1v4m0 4v1m0 1v5m2 -89v1m0 5v3m0 1v1m0 4v2m0 3v3m0 1v1m0 1v4m0 4v1m0 2v2m0 1v13m0 3v8m0 2v2m0 1v1m0 2v7m0 1v1m0 2v1m0 3v1m0 1v1m0 10v1m2 -84v3m0 3v2m0 7v1m0 1v1m0 2v1m0 4v1m0 4v1m0 1v1m0 2v1m0 3v3m0 2v3m0 3v1m0 1v1m0 2v1m0 1v1m0 3v1m0 2v1m0 1v1m0 4v7m0 2v4m2 -91v1m0 6v9m0 1v9m0 1v16m0 3v8m0 2v2m0 1v16m0 1v3m0 1v1m0 1v3m0 2v1m2 -102v1m0 18v1m0 1v3m0 1v6m0 1v1m0 2v1m0 3v18m0 3v8m0 2v2m0 1v17m0 1v8m0 2v1m2 -81v1m0 4v3m0 1v1m0 1v1m0 2v1m0 10v11m0 3v8m0 9v1m0 2v1m0 2v1m0 2v1m0 2v5m2 -95v1m0 1v3m0 8v1m0 12v16m0 1v8m0 1v3m0 1v2m0 3v6m0 1v1m0 3v1m0 1v22m0 1v2m2 -99v1m0 3v2m0 1v9m0 4v18m0 1v19m0 3v3m0 1v1m0 1v2m0 2v29m0 2v3m0 1v2m0 1v3m2 -81v2m0 6v1m0 10v1m0 2v1m0 1v1m0 5v5m0 1v2m0 2v8m0 1v9m0 1v1m0 1v5m0 2v1m0 2v2m0 1v2m2 -94v2m0 5v3m0 1v7m0 4v6m0 1v16m0 3v8m0 2v10m0 2v3m0 4v1m0 2v1m0 1v2m0 1v2m0 2v1m0 2v1m0 2v1m2 -106v1m0 10v1m0 5v2m0 4v4m0 1v1m0 1v1m0 1v1m0 1v9m0 1v1m0 1v1m0 1v7m0 3v8m0 2v3m0 1v3m0 5v2m0 5v1m0 7v2m0 2v1m2 -100v1m0 5v1m0 1v2m0 1v2m0 4v35m0 2v1m0 3v8m0 2v1m0 1v4m0 1v7m0 3v6m0 1v5m0 2v3m0 5v1m0 1v1m2 -104v1m0 17v3m0 2v2m0 2v3m0 1v2m0 5v1m0 4v3m0 7v1m0 1v2m0 1v2m0 6v1m0 1v9m0 2v2m0 1v3m0 1v1m2 -97v2m0 1v1m0 6v3m0 8v1m0 4v4m0 3v3m0 6v2m0 8v2m0 9v3m0 1v3m0 8v8m0 2v1m0 3v1m0 2v1m2 -98v4m0 1v14m0 4v38m0 3v8m0 2v17m0 3v1m0 4v4m0 3v4m0 18v1m2 -124v1m0 1v3m0 1v3m0 2v1m0 1v1m0 5v4m0 1v7m0 1v15m0 1v1m0 2v2m0 1v1m0 4v8m0 4v3m0 1v1m0 6v1m0 14v1m2 -85v1m0 8v1m0 2v5m0 2v1m0 1v5m0 2v9m0 1v5m0 3v8m0 2v15m0 1v13m0 2v1m0 3v1m0 3v5m0 1v2m2 -114v1m0 1v2m0 1v3m0 2v2m0 8v4m0 1v3m0 2v7m0 2v2m0 1v2m0 1v1m0 1v5m0 1v1m0 3v8m0 2v15m0 1v3m0 1v7m0 5v1m0 8v4m2 -106v1m0 4v1m0 5v2m0 1v8m0 1v9m0 1v2m0 4v1m0 1v4m0 2v1m0 5v2m0 6v2m0 9v1m0 1v1m0 1v1m0 6v5m0 4v1m0 1v7m0 1v1m2 -110v1m0 4v8m0 4v29m0 1v6m0 1v1m0 3v8m0 2v14m0 1v5m0 1v8m0 4v6m0 1v2m0 3v1m0 3v1m2 -109v2m0 13v1m0 1v1m0 20v2m0 1v1m0 1v1m0 5v3m0 3v2m0 10v2m0 1v1m0 4v1m0 1v1m0 7v1m2 -87v3m0 1v1m0 7v5m0 1v2m0 1v1m0 18v1m0 1v4m0 4v8m0 2v1m0 1v3m0 2v6m0 1v1m0 1v4m0 2v7m0 2v1m0 1v5m0 2v1m0 1v1m2 -110v12m0 4v9m0 1v20m0 1v1m0 1v4m0 4v8m0 2v3m0 1v9m0 1v11m0 1v3m0 2v15m2 -109v2m0 3v3m0 4v3m0 1v1m0 1v1m0 5v1m0 8v2m0 5v4m0 3v2m0 4v8m0 6v1m0 1v8m0 2v1m0 1v1m0 1v1m0 10v2m0 2v1m0 1v1m2 -103v1m0 1v6m0 1v1m0 9v1m0 1v1m0 1v24m0 1v4m0 3v8m0 2v25m0 1v3m0 2v3m0 1v5m0 1v5m0 4v1m0 2v1m0 2v1m2 -122v1m0 4v1m0 2v2m0 4v38m0 3v8m0 4v23m0 1v2m0 4v2m0 1v2m0 1v2m0 2v3m0 2v1m0 2v1m0 2v2m2 -121v3m0 1v1m0 1v1m0 1v3m0 4v27m0 1v1m0 1v5m0 1v2m0 3v8m0 2v11m0 1v1m0 1v6m0 1v1m0 1v1m0 1v1m0 1v1m0 4v2m0 2v13m0 1v2m0 1v1m2 -114v1m0 1v1m0 1v1m0 4v22m0 1v1m0 1v13m0 3v2m0 4v1m0 6v7m0 2v3m0 1v2m0 1v3m0 1v3m0 1v1m0 3v8m0 1v1m0 2v2m0 1v1m0 1v1m0 1v1m2 -107v1m0 4v3m0 3v2m0 1v2m0 2v1m0 1v1m0 1v1m0 3v3m0 1v1m0 1v4m0 1v1m0 3v2m0 4v1m0 2v1m0 1v2m0 5v19m0 1v2m0 6v2m0 3v4m0 4v1m2 -90v3m0 1v2m0 1v1m0 3v1m0 3v2m0 6v2m0 3v1m0 7v1m0 4v2m0 6v1m0 2v1m0 10v1m0 4v1m0 2v3m0 2v2m0 4v1m2 -100v1m0 2v2m0 6v4m0 3v2m0 1v22m0 1v2m0 1v2m0 3v8m0 2v1m0 1v1m0 1v1m0 4v4m0 6v1m0 1v2m0 2v4m0 2v5m0 1v1m0 2v11m0 2v1m0 5v2m2 -121v3m0 6v2m0 1v1m0 3v10m0 1v6m0 1v1m0 1v2m0 1v2m0 1v5m0 3v7m0 3v14m0 8v4m0 1v1m0 4v1m0 4v1m0 2v11m0 3v1m0 4v2m2 -119v2m0 5v3m0 4v1m0 1v10m0 1v5m0 5v1m0 2v2m0 1v2m0 3v8m0 2v2m0 1v4m0 2v20m0 2v13m0 1v7m0 1v4m0 1v1m0 1v2m0 2v1m2 -124v3m0 5v16m0 4v4m0 2v2m0 2v8m0 4v6m0 3v1m0 2v1m0 2v1m0 1v16m0 2v1m0 1v1m0 2v3m0 2v2m0 1v8m2 -97v3m0 3v1m0 1v1m0 5v1m0 2v4m0 8v2m0 2v4m0 3v8m0 2v4m0 2v18m0 1v4m0 2v4m0 2v1m0 1v1m0 3v9m0 1v2m0 1v2m0 1v2m2 -110v1m0 7v1m0 3v1m0 2v3m0 7v2m0 1v8m0 3v8m0 2v2m0 6v2m0 3v5m0 4v2m0 1v3m0 3v2m0 10v2m0 1v1m0 1v2m0 1v1m0 1v1m2 -105v6m0 1v1m0 1v2m0 2v3m0 1v2m0 4v15m0 3v3m0 1v4m0 2v3m0 2v2m0 1v2m0 1v1m0 1v14m0 8v2m0 9v1m0 4v1m0 1v2m0 1v1m0 1v2m2 -111v10m0 1v4m0 1v22m0 3v8m0 2v12m0 3v14m0 3v1m0 2v1m0 1v1m0 4v1m0 2v1m0 3v3m0 1v8m0 6v1m2 -115v1m0 8v1m0 5v1m0 5v1m0 6v3m0 2v1m0 3v3m0 1v4m0 2v3m0 4v1m0 1v2m0 2v1m0 2v13m0 2v5m0 1v9m0 2v4m0 3v1m0 2v1m0 1v1m2 -89v1m0 2v3m0 3v3m0 2v1m0 3v7m0 8v3m0 1v11m0 1v7m0 3v3m0 4v1m0 2v1m0 2v8m0 3v1m0 1v2m0 1v1m0 2v2m2 -113v1m0 2v1m0 2v16m0 1v3m0 1v6m0 1v1m0 3v5m0 1v2m0 2v2m0 1v4m0 1v9m0 1v2m0 1v1m0 1v3m0 1v1m0 3v3m0 1v17m0 1v1m0 3v7m0 1v2m2 -118v1m0 1v3m0 1v32m0 3v6m0 1v1m0 2v29m0 2v10m0 1v10m0 1v3m0 1v1m0 1v4m0 2v1m0 4v2m0 3v1m2 -122v1m0 1v1m0 4v7m0 1v4m0 1v2m0 1v1m0 1v8m0 3v8m0 2v2m0 2v1m0 1v18m0 2v1m0 4v8m0 3v4m0 1v2m0 12v2m0 2v2m2 -111v2m0 7v4m0 1v7m0 2v6m0 1v1m0 3v4m0 1v2m0 3v1m0 1v3m0 1v1m0 1v2m0 1v1m0 1v1m0 1v1m0 1v3m0 2v2m0 1v3m0 3v9m0 1v10m0 11v1m2 -106v1m0 2v2m0 1v10m0 6v1m0 1v1m0 8v1m0 1v4m0 1v1m0 2v1m0 2v2m0 1v2m0 1v5m0 1v1m0 1v2m0 1v5m0 1v2m0 7v2m0 1v1m0 5v1m0 6v1m0 3v3m0 1v1m0 1v4m0 1v2m0 12v1m2 -121v1m0 1v3m0 4v1m0 2v3m0 1v2m0 1v1m0 1v6m0 4v7m0 10v2m0 4v2m0 1v1m0 14v1m0 15v1m0 6v2m2 -98v2m0 1v9m0 1v2m0 2v11m0 3v8m0 2v1m0 1v6m0 1v1m0 1v1m0 3v3m0 1v1m0 8v1m0 41v1m2 -111v1m0 6v2m0 5v2m0 1v6m0 2v1m0 5v3m0 1v3m0 2v4m0 3v2m0 1v2m0 1v1m0 1v10m0 1v3m0 2v4m0 2v1m0 2v1m2 -68v2m0 1v1m0 1v2m0 1v1m0 9v3m0 1v1m0 1v1m0 3v3m0 1v1m0 4v1m0 13v1m0 1v3m0 4v2m0 6v2m0 3v1m0 3v2m0 2v1m0 3v3m0 1v2m0 1v3m0 6v1m2 -113v1m0 7v1m0 1v3m0 1v4m0 13v1m0 1v3m0 5v1m0 1v1m0 3v3m0 1v7m0 2v4m0 2v1m0 2v12m0 1v3m0 1v1m0 10v1m0 5v2m0 5v1m0 1v2m2 -107v2m0 3v11m0 1v1m0 3v8m0 2v1m0 1v2m0 1v1m0 1v1m0 8v1m0 6v1m0 10v1m0 4v1m0 4v1m0 1v1m0 7v3m0 2v1m0 1v1m0 13v1m2 -111v1m0 3v18m0 3v8m0 2v5m0 2v2m0 2v1m0 1v1m0 2v4m0 1v3m0 2v3m0 2v6m0 1v2m0 1v1m0 1v9m0 2v6m0 6v1m0 4v1m0 6v2m2 -115v1m0 6v2m0 1v1m0 5v1m0 2v3m0 3v2m0 1v2m0 1v1m0 3v1m0 1v1m0 5v3m0 1v4m0 1v7m0 2v3m0 2v7m0 1v1m0 1v1m0 7v1m0 1v1m0 3v1m0 1v1m2 -98v2m0 3v2m0 2v7m0 1v10m0 3v8m0 2v1m0 1v1m0 1v6m0 1v5m0 1v4m0 1v3m0 1v3m0 2v7m0 1v7m0 9v1m0 1v1m0 3v1m0 1v2m2 -104v1m0 1v1m0 1v3m0 1v18m0 3v4m0 1v3m0 3v2m0 1v1m0 5v3m0 9v1m0 1v1m0 2v1m0 5v2m0 1v1m0 3v2m0 1v1m0 4v1m0 1v2m0 1v7m0 1v4m0 13v1m2 -114v1m0 5v8m0 1v2m0 1v4m0 8v1m0 1v1m0 3v2m0 1v2m0 1v8m0 1v4m0 1v4m0 1v3m0 3v2m0 2v1m0 2v1m0 3v1m0 2v1m0 7v2m0 1v1m0 6v1m2 -100v22m0 3v8m0 6v2m0 1v5m0 1v4m0 2v1m0 2v1m0 12v1m0 3v1m0 1v9m0 3v3m0 1v1m2 -94v2m0 2v1m0 1v2m0 1v14m0 3v8m0 2v26m0 2v1m0 3v4m0 1v1m0 1v4m0 2v1m0 3v1m0 1v1m0 1v2m0 2v1m0 2v1m0 1v2m0 3v1m0 2v1m2 -103v1m0 5v1m0 4v1m0 3v1m0 1v2m0 3v5m0 2v1m0 2v1m0 1v5m0 1v1m0 2v10m0 3v1m0 1v1m0 1v1m0 3v1m0 2v1m0 9v5m0 3v1m0 3v1m0 4v1m2 -83v4m0 1v1m0 4v3m0 2v3m0 2v2m0 1v6m0 5v4m0 16v2m0 2v2m0 1v1m0 3v2m0 6v1m0 2v7m0 18v1m2 -112v1m0 2v1m0 7v5m0 4v8m0 2v26m0 1v2m0 2v2m0 1v9m0 2v4m0 1v2m0 1v12m0 1v1m0 8v2m0 2v1m0 1v1m2 -114v1m0 1v1m0 1v2m0 2v1m0 1v1m0 1v7m0 3v5m0 1v2m0 4v3m0 1v1m0 1v21m0 3v4m0 5v2m0 1v1m0 2v1m0 1v3m0 1v3m0 2v1m0 1v1m0 1v1m0 1v1m2 -93v1m0 3v11m0 3v8m0 2v4m0 1v2m0 6v3m0 1v3m0 1v3m0 1v2m0 4v3m0 7v1m0 5v4m0 2v1m0 3v2m0 1v2m0 2v1m0 6v1m2 -97v4m0 1v3m0 3v1m0 3v2m0 1v2m0 1v2m0 2v2m0 3v2m0 2v11m0 1v1m0 1v1m0 1v4m0 2v8m0 1v4m0 3v1m0 5v1m0 3v1m0 3v1m0 1v2m0 7v1m2 -88v1m0 5v4m0 1v2m0 11v1m0 1v1m0 1v1m0 1v1m0 1v12m0 2v14m0 2v5m0 1v9m0 2v2m0 1v1m0 4v3m2 -96v1m0 4v1m0 1v1m0 3v8m0 4v1m0 1v1m0 3v17m0 1v3m0 2v13m0 5v1m0 4v1m0 1v1m0 2v1m0 1v2m2 -73v5m0 1v2m0 2v5m0 1v19m0 1v2m0 5v1m0 2v2m0 2v4m0 1v1m0 1v5m0 1v1m0 2v1m0 1v2m0 1v7m0 2v1m2 -81v1m0 1v6m0 2v5m0 1v13m0 1v3m0 1v1m0 1v3m0 3v12m0 1v1m0 1v5m0 2v1m0 1v1m0 1v1m0 1v1m0 1v2m0 1v2m0 3v1m2 -79v1m0 3v1m0 4v1m0 1v1m0 1v7m0 1v1m0 1v1m0 1v1m0 3v1m0 10v1m0 2v1m0 3v1m2 -50v1m0 1v5m0 6v1m0 1v1m0 1v2m0 1v6m0 2v11m0 2v3m0 1v1m0 1v5m0 2v1m0 1v2m0 2v1m0 2v1m0 6v1m0 2v1m0 7v2m0 1v1m0 6v1m0 1v1m2 -84v1m0 6v1m0 3v2m0 1v1m0 22v1m0 4v1m0 4v1m0 2v1m0 2v1m0 4v1m2 -52v1m0 4v1m0 1v1m0 1v2m0 2v1m0 2v2m0 8v1m0 13v2m0 4v2m0 1v6m0 1v4m2 -71v1m0 4v2m0 1v5m0 1v1m0 1v1m0 1v1m0 1v3m0 1v5m0 3v1m0 2v1m0 1v1m0 1v7m0 3v7m0 1v4m0 1v5m2 -58v14m0 1v9m0 2v1m0 1v2m0 2v1m0 1v1m0 1v2m0 2v3m0 1v1m0 5v2m0 2v1m0 1v1m0 11v1m2 -73v1m0 2v8m0 2v1m0 1v2m0 2v2m0 1v4m0 9v2m0 1v2m0 1v1m0 3v1m0 8v1m0 2v1m0 1v2m2 -58v7m0 1v1m0 2v3m0 1v2m0 2v3m0 5v2m0 7v1m0 1v2m0 1v3m0 1v1m0 1v1m0 1v4m0 7v1m2 -64v1m0 1v2m0 2v2m0 3v14m0 2v1m0 2v2m0 2v1m0 6v1m0 1v1m0 1v3m0 6v1m0 4v1m2 -54v1m0 2v6m0 1v3m0 1v1m0 4v1m0 1v1m0 3v1m0 1v1m0 1v1m0 24v1m2 -55v1m0 3v5m0 1v5m0 1v1m0 1v4m0 2v2m0 4v1m0 3v1m0 2v1m0 5v1m0 9v2m2 -45v2m0 1v9m0 2v2m0 3v1m0 2v1m0 4v1m0 5v2m0 2v1m0 5v1m0 5v1m2 -56v1m0 1v1m0 2v2m0 3v1m0 2v4m0 4v5m0 2v2m0 14v1m0 7v1m0 2v1m0 3v2m0 1v2m2 -64v1m0 1v16m0 2v14m0 1v3m0 5v1m2 -39v1m0 1v3m0 1v7m0 2v13m0 2v6m0 3v1m0 2v1m0 1v1m0 1v4m0 5v1m2 -57v1m0 8v3m0 5v2m0 1v2m0 1v4m0 1v3m0 1v5m0 1v2m0 1v1m0 1v3m0 2v4m0 3v3m2 -34v1m0 1v1m0 1v1m0 12v1m0 2v1m2 -45v1m0 4v6m0 1v2m0 3v3m0 1v1m0 1v6m0 2v1m0 1v4m0 1v1m0 1v2m0 2v2m0 1v1m0 1v3m2 -55v1m0 2v3m0 2v6m0 1v2m0 2v11m0 1v1m0 1v7m0 1v10m0 1v1m2 -51v7m0 1v2m0 10v1m0 2v1m0 1v1m0 5v1m0 4v1m0 3v2m0 2v2m0 1v1m0 2v1m2 -51v1m0 1v1m0 1v3m0 1v7m0 2v3m0 1v3m0 1v9m0 1v2m0 4v5m0 2v4m0 4v1m0 8v1m2 -59v6m0 1v1m0 2v3m0 1v15m0 3v1m0 9v1m0 1v1m2 -43v2m0 1v3m0 2v3m0 1v1m0 8v1m0 3v2m0 3v1m0 1v1m0 2v4m0 3v1m2 -38v1m0 4v3m0 3v1m2 -12v1m0 2v1m0 1v7m0 3v2m0 15v1m0 10v1m2 -45v2m0 2v4m0 1v2m0 1v1m0 1v3m0 1v2m0 1v2m0 1v1m0 1v1m0 1v1m0 1v2m0 1v2m0 1v5m0 2v1m2 -55v1m0 1v1m0 2v2m0 1v4m0 4v3m0 1v16m0 1v1m0 2v1m0 1v3m0 4v1m0 4v1m0 6v3m0 1v2m0 2v1m2 -53v1m0 1v3m0 1v2m0 15v1m0 1v1m0 1v1m2 -39v3m0 1v3m0 2v1m0 2v9m0 1v1m0 1v2m0 2v2m0 1v4m0 1v1m0 1v5m0 2v1m0 4v1m0 2v1m0 3v1m2 -46v4m0 2v1m0 1v2m0 2v6m0 1v1m0 1v1m0 5v1m0 1v1m2 -46v3m0 1v2m0 1v2m0 4v2m0 2v1m0 2v3m0 1v2m0 1v5m0 1v1m0 1v3m0 3v1m0 3v1m0 2v2m0 2v1m2 -53v1m0 1v1m0 1v2m0 7v1m0 6v2m0 2v1m0 1v2m0 2v2m0 4v2m0 1v1m0 2v1m2 -33v1m0 2v3m0 1v7m0 2v1m0 1v1m0 1v2m0 3v1m0 1v6m0 1v3m0 1v1m2 -45v1m0 4v2m0 2v4m0 1v2m0 2v1m0 3v3m0 1v1m0 2v1m0 2v1m0 2v4m0 3v1m0 6v1m0 6v1m2 -58v1m0 5v2m0 2v14m0 1v1m0 1v2m0 1v1m0 3v1m0 4v2m0 4v1m2 -44v2m0 3v1m0 2v2m0 13v1m0 4v1m0 1v1m0 7v1m0 3v2m0 14v1m2 -59v6m0 2v2m0 1v3m0 7v1m0 1v4m0 3v1m0 1v3m0 1v4m0 1v2m0 5v1m0 3v1m0 5v1m2 -61v1m0 2v1m0 3v1m0 3v1m0 3v1m0 1v2m0 4v2m0 2v1m0 6v3m0 1v2m0 1v1m0 1v2m2 -45v1m0 12v6m2 -15v1m0 1v1m0 6v3m0 1v1m0 4v1m0 2v1m0 1v3m0 2v1m0 6v2m0 1v1m0 3v1"/></g><g stroke="#000" stroke-width="1" fill="none" shape-rendering="crispEdges"><rect x="78.5" y="57.5" width="590" height="278"/><path d="M78.5 337v3M78.5 57v-4M103.5 337v1M103.5 57v-2M127.5 337v3M127.5 57v-4M152.5 337v1M152.5 57v-2M176.5 337v3M176.5 57v-4M201.5 337v1M201.5 57v-2M226.5 337v3M226.5 57v-4M250.5 337v1M250.5 57v-2M275.5 337v3M275.5 57v-4M299.5 337v1M299.5 57v-2M324.5 337v3M324.5 57v-4M348.5 337v1M348.5 57v-2M373.5 337v3M373.5 57v-4M398.5 337v1M398.5 57v-2M422.5 337v3M422.5 57v-4M447.5 337v1M447.5 57v-2M471.5 337v3M471.5 57v-4M496.5 337v1M496.5 57v-2M520.5 337v3M520.5 57v-4M545.5 337v1M545.5 57v-2M570.5 337v3M570.5 57v-4M594.5 337v1M594.5 57v-2M619.5 337v3M619.5 57v-4M643.5 337v1M643.5 57v-2M668.5 337v3M668.5 57v-4M78 335.5h-4M669 335.5h4M78 315.5h-4M669 315.5h4M78 295.5h-4M669 295.5h4M78 275.5h-4M669 275.5h4M78 256.5h-4M669 256.5h4M78 236.5h-4M669 236.5h4M78 216.5h-4M669 216.5h4M78 196.5h-4M669 196.5h4M78 176.5h-4M669 176.5h4M78 156.5h-4M669 156.5h4M78 136.5h-4M669 136.5h4M78 117.5h-4M669 117.5h4M78 97.5h-4M669 97.5h4M78 77.5h-4M669 77.5h4M78 57.5h-4M669 57.5h4"/></g><rect x="687" y="317" width="29" height="18" fill="#8000ff" shape-rendering="crispEdges"/><rect x="687" y="299" width="29" height="18" fill="#5b39fd" shape-rendering="crispEdges"/><rect x="687" y="280" width="29" height="19" fill="#376ff9" shape-rendering="crispEdges"/><rect x="687" y="262" width="29" height="18" fill="#129ff1" shape-rendering="crispEdges"/><rect x="687" y="243" width="29" height="19" fill="#12c7e6" shape-rendering="crispEdges"/><rect x="687" y="224" width="29" height="19" fill="#37e6d8" shape-rendering="crispEdges"/><rect x="687" y="206" width="29" height="18" fill="#5bf9c7" shape-rendering="crispEdges"/><rect x="687" y="187" width="29" height="19" fill="#80ffb4" shape-rendering="crispEdges"/><rect x="687" y="169" width="29" height="18" fill="#a4f99f" shape-rendering="crispEdges"/><rect x="687" y="150" width="29" height="19" fill="#c8e688" shape-rendering="crispEdges"/><rect x="687" y="132" width="29" height="18" fill="#edc76f" shape-rendering="crispEdges"/><rect x="687" y="113" width="29" height="19" fill="#ff9f54" shape-rendering="crispEdges"/><rect x="687" y="95" width="29" height="18" fill="#ff6f39" shape-rendering="crispEdges"/><rect x="687" y="76" width="29" height="19" fill="#ff391d" shape-rendering="crispEdges"/><rect x="687" y="58" width="29" height="18" fill="#ff0000" shape-rendering="crispEdges"/><g stroke="#000" stroke-width="1" fill="none" shape-rendering="crispEdges"><rect x="687.5" y="57.5" width="29" height="278"/><path d="M687 317.5h5M717 317.5h-5M687 299.5h5M717 299.5h-5M687 280.5h5M717 280.5h-5M687 262.5h5M717 262.5h-5M687 243.5h5M717 243.5h-5M687 224.5h5M717 224.5h-5M687 206.5h5M717 206.5h-5M687 187.5h5M717 187.5h-5M687 169.5h5M717 169.5h-5M687 150.5h5M717 150.5h-5M687 132.5h5M717 132.5h-5M687 113.5h5M717 113.5h-5M687 95.5h5M717 95.5h-5M687 76.5h5M717 76.5h-5"/></g><text x="370.7" y="33" text-anchor="middle">2025-03-30</text><text x="61.5" y="340.0" text-anchor="end">1</text><text x="61.5" y="320.1" text-anchor="end">2</text><text x="61.5" y="300.3" text-anchor="end">3</text><text x="61.5" y="280.4" text-anchor="end">4</text><text x="61.5" y="260.6" text-anchor="end">5</text><text x="61.5" y="240.7" text-anchor="end">6</text><text x="61.5" y="220.9" text-anchor="end">7</text><text x="61.5" y="201.0" text-anchor="end">8</text><text x="61.5" y="181.1" text-anchor="end">9</text><text x="61.5" y="161.3" text-anchor="end">10</text><text x="61.5" y="141.4" text-anchor="end">11</text><text x="61.5" y="121.6" text-anchor="end">12</text><text x="61.5" y="101.7" text-anchor="end">13</text><text x="61.5" y="81.9" text-anchor="end">14</text><text x="61.5" y="62.0" text-anchor="end">15</text><text x="76.5" y="363" text-anchor="middle">00</text><text x="125.7" y="363" text-anchor="middle">02</text><text x="174.8" y="363" text-anchor="middle">04</text><text x="224.0" y="363" text-anchor="middle">06</text><text x="273.2" y="363" text-anchor="middle">08</text><text x="322.3" y="363" text-anchor="middle">10</text><text x="371.5" y="363" text-anchor="middle">12</text><text x="420.7" y="363" text-anchor="middle">14</text><text x="469.8" y="363" text-anchor="middle">16</text><text x="519.0" y="363" text-anchor="middle">18</text><text x="568.2" y="363" text-anchor="middle">20</text><text x="617.3" y="363" text-anchor="middle">22</text><text x="666.5" y="363" text-anchor="middle">00</text><text x="730" y="339.5">39</text><text x="730" y="321.0">42</text><text x="730" y="302.4">45</text><text x="730" y="283.9">48</text><text x="730" y="265.4">51</text><text x="730" y="246.8">54</text><text x="730" y="228.3">57</text><text x="730" y="209.8">60</text><text x="730" y="191.2">63</text><text x="730" y="172.7">66</text><text x="730" y="154.2">69</text><text x="730" y="135.6">72</text><text x="730" y="117.1">75</text><text x="730" y="98.6">78</text><text x="730" y="80.0">81</text><text x="730" y="61.5">84</text><text x="372" y="390.8" text-anchor="middle">UT Time / hrs</text><text transform="translate(18.7,197.5) rotate(-90)" text-anchor="middle">Frequency / MHz</text><text transform="translate(763.7,196.6) rotate(-90)" text-anchor="middle">Signal Amplitude / dB</text></svg></body></html>
